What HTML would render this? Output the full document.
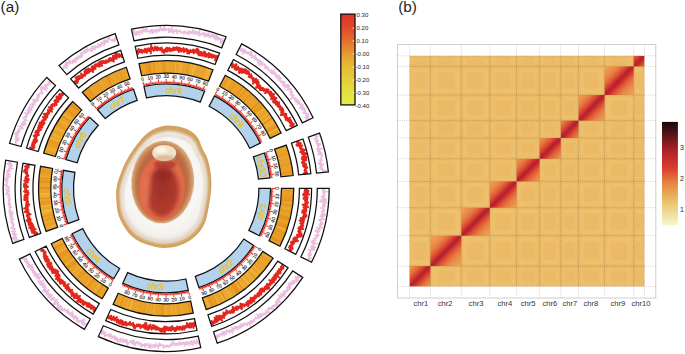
<!DOCTYPE html>
<html><head><meta charset="utf-8"><title>figure</title>
<style>
html,body{margin:0;padding:0;background:#fff;width:685px;height:354px;overflow:hidden}
svg{display:block}
text{font-family:"Liberation Sans",sans-serif}
</style></head>
<body>
<svg width="685" height="354" viewBox="0 0 685 354">
<rect width="685" height="354" fill="#fff"/>
<text x="0.6" y="12.4" font-size="15.3" fill="#231F20">(a)</text>
<text x="398.2" y="12.4" font-size="15.3" fill="#231F20">(b)</text>
<path d="M293.80,188.40A127.6,127.6 0 0 1 279.94,246.23L268.98,240.66A115.3,115.3 0 0 0 281.50,188.40Z" fill="#E9A12A"/>
<path d="M293.80,188.40A127.6,127.6 0 0 1 293.79,189.72L281.49,189.59A115.3,115.3 0 0 0 281.50,188.40Z" fill="#EDB038"/><path d="M293.78,190.47A127.6,127.6 0 0 1 293.76,191.41L281.47,191.12A115.3,115.3 0 0 0 281.48,190.27Z" fill="#E38F1C"/><path d="M293.53,196.67A127.6,127.6 0 0 1 293.44,198.04L281.17,197.11A115.3,115.3 0 0 0 281.26,195.88Z" fill="#E6951F"/><path d="M293.38,198.74A127.6,127.6 0 0 1 293.25,200.24L281.00,199.10A115.3,115.3 0 0 0 281.12,197.74Z" fill="#E6951F"/><path d="M293.20,200.80A127.6,127.6 0 0 1 293.10,201.77L280.86,200.49A115.3,115.3 0 0 0 280.95,199.60Z" fill="#E38F1C"/><path d="M292.98,202.86A127.6,127.6 0 0 1 292.79,204.40L280.59,202.85A115.3,115.3 0 0 0 280.76,201.46Z" fill="#EBA830"/><path d="M292.73,204.91A127.6,127.6 0 0 1 292.55,206.22L280.37,204.50A115.3,115.3 0 0 0 280.53,203.32Z" fill="#E38F1C"/><path d="M292.13,209.01A127.6,127.6 0 0 1 291.93,210.18L279.81,208.08A115.3,115.3 0 0 0 279.99,207.02Z" fill="#EDB038"/><path d="M291.77,211.05A127.6,127.6 0 0 1 291.49,212.56L279.42,210.23A115.3,115.3 0 0 0 279.67,208.86Z" fill="#E6951F"/><path d="M290.52,217.13A127.6,127.6 0 0 1 290.15,218.70L278.20,215.78A115.3,115.3 0 0 0 278.54,214.36Z" fill="#E38F1C"/><path d="M290.04,219.14A127.6,127.6 0 0 1 289.62,220.80L277.72,217.67A115.3,115.3 0 0 0 278.10,216.18Z" fill="#E38F1C"/><path d="M288.40,225.13A127.6,127.6 0 0 1 288.00,226.43L276.26,222.76A115.3,115.3 0 0 0 276.62,221.59Z" fill="#E38F1C"/><path d="M287.79,227.10A127.6,127.6 0 0 1 287.18,228.98L275.51,225.07A115.3,115.3 0 0 0 276.07,223.37Z" fill="#E38F1C"/><path d="M287.15,229.07A127.6,127.6 0 0 1 286.55,230.79L274.95,226.70A115.3,115.3 0 0 0 275.49,225.15Z" fill="#EDB038"/><path d="M285.76,232.97A127.6,127.6 0 0 1 285.34,234.09L273.85,229.69A115.3,115.3 0 0 0 274.24,228.67Z" fill="#E38F1C"/><path d="M285.02,234.90A127.6,127.6 0 0 1 284.38,236.51L272.99,231.88A115.3,115.3 0 0 0 273.57,230.42Z" fill="#E89A24"/><path d="M284.25,236.83A127.6,127.6 0 0 1 283.88,237.73L272.54,232.97A115.3,115.3 0 0 0 272.87,232.16Z" fill="#E6951F"/><path d="M283.45,238.73A127.6,127.6 0 0 1 283.05,239.67L271.78,234.72A115.3,115.3 0 0 0 272.15,233.88Z" fill="#E89A24"/><path d="M282.62,240.63A127.6,127.6 0 0 1 281.78,242.47L270.64,237.26A115.3,115.3 0 0 0 271.40,235.59Z" fill="#E6951F"/><path d="M281.76,242.51A127.6,127.6 0 0 1 281.10,243.90L270.02,238.55A115.3,115.3 0 0 0 270.62,237.29Z" fill="#E38F1C"/>
<path d="M273.09,258.08A127.6,127.6 0 0 1 206.18,309.57L202.33,297.89A115.3,115.3 0 0 0 262.79,251.37Z" fill="#E9A12A"/>
<path d="M273.09,258.08A127.6,127.6 0 0 1 272.41,259.13L262.17,252.31A115.3,115.3 0 0 0 262.79,251.37Z" fill="#EBA830"/><path d="M271.96,259.79A127.6,127.6 0 0 1 271.45,260.54L261.31,253.58A115.3,115.3 0 0 0 261.77,252.91Z" fill="#F0B53E"/><path d="M270.80,261.48A127.6,127.6 0 0 1 269.99,262.62L259.99,255.47A115.3,115.3 0 0 0 260.72,254.43Z" fill="#E89A24"/><path d="M268.40,264.80A127.6,127.6 0 0 1 267.68,265.76L257.90,258.30A115.3,115.3 0 0 0 258.55,257.44Z" fill="#EBA830"/><path d="M264.60,269.63A127.6,127.6 0 0 1 263.77,270.63L254.37,262.70A115.3,115.3 0 0 0 255.12,261.80Z" fill="#EBA830"/><path d="M261.94,272.75A127.6,127.6 0 0 1 261.11,273.69L251.96,265.47A115.3,115.3 0 0 0 252.71,264.62Z" fill="#F0B53E"/><path d="M259.19,275.78A127.6,127.6 0 0 1 257.97,277.06L249.12,268.51A115.3,115.3 0 0 0 250.22,267.36Z" fill="#EDB038"/><path d="M257.77,277.26A127.6,127.6 0 0 1 256.85,278.20L248.12,269.54A115.3,115.3 0 0 0 248.94,268.70Z" fill="#EDB038"/><path d="M254.87,280.16A127.6,127.6 0 0 1 253.88,281.10L245.43,272.17A115.3,115.3 0 0 0 246.32,271.31Z" fill="#EDB038"/><path d="M253.39,281.57A127.6,127.6 0 0 1 252.04,282.81L243.77,273.71A115.3,115.3 0 0 0 244.98,272.59Z" fill="#EDB038"/><path d="M250.35,284.32A127.6,127.6 0 0 1 248.81,285.65L240.85,276.27A115.3,115.3 0 0 0 242.24,275.07Z" fill="#F0B53E"/><path d="M247.23,286.97A127.6,127.6 0 0 1 246.45,287.61L238.71,278.04A115.3,115.3 0 0 0 239.42,277.47Z" fill="#EDB038"/><path d="M245.63,288.26A127.6,127.6 0 0 1 244.35,289.27L236.82,279.54A115.3,115.3 0 0 0 237.98,278.63Z" fill="#EDB038"/><path d="M244.02,289.52A127.6,127.6 0 0 1 243.19,290.16L235.77,280.35A115.3,115.3 0 0 0 236.52,279.78Z" fill="#E38F1C"/><path d="M242.39,290.76A127.6,127.6 0 0 1 241.31,291.55L234.07,281.61A115.3,115.3 0 0 0 235.04,280.89Z" fill="#EDB038"/><path d="M240.73,291.97A127.6,127.6 0 0 1 239.75,292.67L232.66,282.62A115.3,115.3 0 0 0 233.55,281.99Z" fill="#E38F1C"/><path d="M239.06,293.15A127.6,127.6 0 0 1 237.42,294.28L230.55,284.07A115.3,115.3 0 0 0 232.04,283.06Z" fill="#E38F1C"/><path d="M233.93,296.54A127.6,127.6 0 0 1 232.40,297.48L226.02,286.97A115.3,115.3 0 0 0 227.40,286.12Z" fill="#EBA830"/><path d="M232.19,297.61A127.6,127.6 0 0 1 231.07,298.28L224.81,287.69A115.3,115.3 0 0 0 225.83,287.09Z" fill="#F0B53E"/><path d="M230.42,298.66A127.6,127.6 0 0 1 229.65,299.11L223.53,288.44A115.3,115.3 0 0 0 224.23,288.03Z" fill="#F0B53E"/><path d="M228.65,299.68A127.6,127.6 0 0 1 227.45,300.34L221.55,289.55A115.3,115.3 0 0 0 222.63,288.95Z" fill="#EDB038"/><path d="M226.85,300.66A127.6,127.6 0 0 1 226.07,301.08L220.30,290.22A115.3,115.3 0 0 0 221.00,289.84Z" fill="#E38F1C"/><path d="M225.04,301.62A127.6,127.6 0 0 1 223.72,302.30L218.18,291.32A115.3,115.3 0 0 0 219.37,290.71Z" fill="#EDB038"/><path d="M219.52,304.33A127.6,127.6 0 0 1 218.09,304.97L213.08,293.74A115.3,115.3 0 0 0 214.38,293.15Z" fill="#EDB038"/><path d="M217.65,305.17A127.6,127.6 0 0 1 215.82,305.96L211.04,294.62A115.3,115.3 0 0 0 212.69,293.91Z" fill="#E89A24"/><path d="M213.88,306.76A127.6,127.6 0 0 1 212.14,307.44L207.71,295.97A115.3,115.3 0 0 0 209.28,295.35Z" fill="#E6951F"/><path d="M210.05,308.23A127.6,127.6 0 0 1 208.92,308.64L204.80,297.05A115.3,115.3 0 0 0 205.82,296.68Z" fill="#F0B53E"/><path d="M208.12,308.92A127.6,127.6 0 0 1 206.95,309.32L203.02,297.66A115.3,115.3 0 0 0 204.08,297.30Z" fill="#EBA830"/>
<path d="M193.25,313.10A127.6,127.6 0 0 1 113.08,304.42L118.20,293.23A115.3,115.3 0 0 0 190.64,301.08Z" fill="#E9A12A"/>
<path d="M193.25,313.10A127.6,127.6 0 0 1 192.26,313.31L189.74,301.27A115.3,115.3 0 0 0 190.64,301.08Z" fill="#EBA830"/><path d="M191.24,313.52A127.6,127.6 0 0 1 190.00,313.76L187.71,301.68A115.3,115.3 0 0 0 188.83,301.46Z" fill="#E38F1C"/><path d="M183.15,314.87A127.6,127.6 0 0 1 181.29,315.11L179.83,302.89A115.3,115.3 0 0 0 181.52,302.68Z" fill="#EBA830"/><path d="M179.08,315.35A127.6,127.6 0 0 1 177.15,315.53L176.09,303.27A115.3,115.3 0 0 0 177.84,303.11Z" fill="#E89A24"/><path d="M177.04,315.54A127.6,127.6 0 0 1 175.57,315.66L174.66,303.39A115.3,115.3 0 0 0 175.99,303.28Z" fill="#EDB038"/><path d="M172.94,315.82A127.6,127.6 0 0 1 171.37,315.90L170.87,303.61A115.3,115.3 0 0 0 172.29,303.54Z" fill="#EDB038"/><path d="M166.79,316.00A127.6,127.6 0 0 1 164.97,315.99L165.09,303.69A115.3,115.3 0 0 0 166.74,303.70Z" fill="#EDB038"/><path d="M162.69,315.95A127.6,127.6 0 0 1 161.27,315.90L161.74,303.61A115.3,115.3 0 0 0 163.03,303.66Z" fill="#E38F1C"/><path d="M154.50,315.46A127.6,127.6 0 0 1 152.84,315.30L154.13,303.07A115.3,115.3 0 0 0 155.63,303.21Z" fill="#EDB038"/><path d="M150.43,315.02A127.6,127.6 0 0 1 148.41,314.75L150.12,302.57A115.3,115.3 0 0 0 151.95,302.82Z" fill="#EBA830"/><path d="M146.36,314.45A127.6,127.6 0 0 1 145.43,314.30L147.43,302.16A115.3,115.3 0 0 0 148.28,302.30Z" fill="#EDB038"/><path d="M144.34,314.11A127.6,127.6 0 0 1 143.29,313.93L145.49,301.83A115.3,115.3 0 0 0 146.45,302.00Z" fill="#E89A24"/><path d="M136.31,312.45A127.6,127.6 0 0 1 135.10,312.15L138.10,300.22A115.3,115.3 0 0 0 139.19,300.49Z" fill="#EBA830"/><path d="M130.36,310.86A127.6,127.6 0 0 1 128.66,310.35L132.27,298.60A115.3,115.3 0 0 0 133.82,299.06Z" fill="#F0B53E"/><path d="M126.45,309.65A127.6,127.6 0 0 1 125.16,309.22L129.12,297.57A115.3,115.3 0 0 0 130.28,297.96Z" fill="#EDB038"/><path d="M122.57,308.31A127.6,127.6 0 0 1 121.34,307.86L125.67,296.34A115.3,115.3 0 0 0 126.77,296.75Z" fill="#EBA830"/><path d="M120.65,307.59A127.6,127.6 0 0 1 119.05,306.97L123.60,295.54A115.3,115.3 0 0 0 125.04,296.10Z" fill="#E6951F"/><path d="M118.74,306.84A127.6,127.6 0 0 1 117.94,306.52L122.60,295.14A115.3,115.3 0 0 0 123.31,295.43Z" fill="#EDB038"/><path d="M114.95,305.26A127.6,127.6 0 0 1 114.04,304.85L119.07,293.63A115.3,115.3 0 0 0 119.89,293.99Z" fill="#EBA830"/>
<path d="M102.15,298.76A127.6,127.6 0 0 1 51.22,243.73L62.31,238.40A115.3,115.3 0 0 0 108.32,288.12Z" fill="#E9A12A"/>
<path d="M96.89,295.53A127.6,127.6 0 0 1 95.64,294.71L102.44,284.47A115.3,115.3 0 0 0 103.57,285.21Z" fill="#E38F1C"/><path d="M95.17,294.40A127.6,127.6 0 0 1 93.83,293.49L100.80,283.36A115.3,115.3 0 0 0 102.02,284.19Z" fill="#EBA830"/><path d="M93.47,293.25A127.6,127.6 0 0 1 92.36,292.47L99.48,282.43A115.3,115.3 0 0 0 100.48,283.14Z" fill="#EDB038"/><path d="M88.49,289.61A127.6,127.6 0 0 1 87.63,288.94L95.21,279.25A115.3,115.3 0 0 0 95.98,279.85Z" fill="#E89A24"/><path d="M86.87,288.34A127.6,127.6 0 0 1 85.91,287.58L93.65,278.02A115.3,115.3 0 0 0 94.52,278.71Z" fill="#E38F1C"/><path d="M85.27,287.05A127.6,127.6 0 0 1 84.58,286.48L92.44,277.02A115.3,115.3 0 0 0 93.07,277.54Z" fill="#EDB038"/><path d="M77.59,280.21A127.6,127.6 0 0 1 76.88,279.53L85.49,270.74A115.3,115.3 0 0 0 86.13,271.36Z" fill="#E38F1C"/><path d="M76.12,278.77A127.6,127.6 0 0 1 75.52,278.18L84.26,269.52A115.3,115.3 0 0 0 84.80,270.06Z" fill="#E38F1C"/><path d="M74.68,277.31A127.6,127.6 0 0 1 73.59,276.18L82.51,267.71A115.3,115.3 0 0 0 83.50,268.74Z" fill="#EDB038"/><path d="M71.86,274.31A127.6,127.6 0 0 1 70.92,273.27L80.10,265.09A115.3,115.3 0 0 0 80.95,266.03Z" fill="#EDB038"/><path d="M67.82,269.65A127.6,127.6 0 0 1 66.88,268.51L76.45,260.79A115.3,115.3 0 0 0 77.30,261.82Z" fill="#E38F1C"/><path d="M66.52,268.06A127.6,127.6 0 0 1 65.34,266.55L75.06,259.02A115.3,115.3 0 0 0 76.13,260.38Z" fill="#E6951F"/><path d="M65.25,266.44A127.6,127.6 0 0 1 64.54,265.52L74.34,258.08A115.3,115.3 0 0 0 74.98,258.92Z" fill="#EDB038"/><path d="M62.78,263.15A127.6,127.6 0 0 1 62.28,262.45L72.30,255.31A115.3,115.3 0 0 0 72.75,255.94Z" fill="#E38F1C"/><path d="M60.43,259.77A127.6,127.6 0 0 1 59.55,258.46L69.83,251.71A115.3,115.3 0 0 0 70.63,252.89Z" fill="#E89A24"/><path d="M59.29,258.06A127.6,127.6 0 0 1 58.71,257.16L69.07,250.53A115.3,115.3 0 0 0 69.60,251.35Z" fill="#E38F1C"/><path d="M58.18,256.33A127.6,127.6 0 0 1 57.40,255.07L67.89,248.64A115.3,115.3 0 0 0 68.60,249.78Z" fill="#E38F1C"/><path d="M57.10,254.58A127.6,127.6 0 0 1 56.24,253.13L66.84,246.89A115.3,115.3 0 0 0 67.62,248.20Z" fill="#EDB038"/><path d="M54.03,249.23A127.6,127.6 0 0 1 53.13,247.53L64.03,241.83A115.3,115.3 0 0 0 64.84,243.36Z" fill="#E38F1C"/><path d="M53.07,247.41A127.6,127.6 0 0 1 52.61,246.53L63.56,240.93A115.3,115.3 0 0 0 63.97,241.72Z" fill="#F0B53E"/><path d="M52.13,245.58A127.6,127.6 0 0 1 51.59,244.49L62.64,239.09A115.3,115.3 0 0 0 63.13,240.07Z" fill="#F0B53E"/>
<path d="M46.07,231.41A127.6,127.6 0 0 1 40.53,166.31L52.64,168.44A115.3,115.3 0 0 0 57.65,227.27Z" fill="#E9A12A"/>
<path d="M45.39,229.46A127.6,127.6 0 0 1 44.87,227.89L56.56,224.09A115.3,115.3 0 0 0 57.03,225.51Z" fill="#EDB038"/><path d="M43.54,223.55A127.6,127.6 0 0 1 43.10,221.99L54.97,218.75A115.3,115.3 0 0 0 55.36,220.16Z" fill="#EBA830"/><path d="M42.98,221.56A127.6,127.6 0 0 1 42.50,219.71L54.42,216.69A115.3,115.3 0 0 0 54.86,218.37Z" fill="#E89A24"/><path d="M41.98,217.56A127.6,127.6 0 0 1 41.68,216.27L53.68,213.59A115.3,115.3 0 0 0 53.95,214.75Z" fill="#E6951F"/><path d="M41.52,215.54A127.6,127.6 0 0 1 41.14,213.73L53.19,211.29A115.3,115.3 0 0 0 53.54,212.93Z" fill="#EBA830"/><path d="M41.10,213.52A127.6,127.6 0 0 1 40.71,211.50L52.81,209.28A115.3,115.3 0 0 0 53.16,211.10Z" fill="#F0B53E"/><path d="M40.71,211.50A127.6,127.6 0 0 1 40.52,210.44L52.63,208.32A115.3,115.3 0 0 0 52.80,209.27Z" fill="#F0B53E"/><path d="M40.35,209.46A127.6,127.6 0 0 1 40.15,208.20L52.30,206.29A115.3,115.3 0 0 0 52.48,207.43Z" fill="#EBA830"/><path d="M40.03,207.42A127.6,127.6 0 0 1 39.83,206.07L52.01,204.36A115.3,115.3 0 0 0 52.19,205.59Z" fill="#F0B53E"/><path d="M39.73,205.38A127.6,127.6 0 0 1 39.55,203.92L51.76,202.43A115.3,115.3 0 0 0 51.93,203.74Z" fill="#E89A24"/><path d="M39.48,203.33A127.6,127.6 0 0 1 39.37,202.37L51.59,201.02A115.3,115.3 0 0 0 51.69,201.89Z" fill="#E6951F"/><path d="M39.06,199.22A127.6,127.6 0 0 1 38.98,198.29L51.25,197.34A115.3,115.3 0 0 0 51.32,198.18Z" fill="#E6951F"/><path d="M38.90,197.16A127.6,127.6 0 0 1 38.83,196.00L51.10,195.27A115.3,115.3 0 0 0 51.17,196.32Z" fill="#EDB038"/><path d="M38.78,195.10A127.6,127.6 0 0 1 38.69,193.23L50.98,192.76A115.3,115.3 0 0 0 51.06,194.46Z" fill="#F0B53E"/><path d="M38.60,188.91A127.6,127.6 0 0 1 38.61,186.95L50.91,187.09A115.3,115.3 0 0 0 50.90,188.86Z" fill="#E38F1C"/><path d="M38.73,182.72A127.6,127.6 0 0 1 38.82,180.90L51.10,181.63A115.3,115.3 0 0 0 51.01,183.27Z" fill="#E6951F"/><path d="M38.84,180.66A127.6,127.6 0 0 1 38.91,179.50L51.18,180.36A115.3,115.3 0 0 0 51.11,181.40Z" fill="#E6951F"/><path d="M38.98,178.60A127.6,127.6 0 0 1 39.13,176.78L51.38,177.90A115.3,115.3 0 0 0 51.24,179.54Z" fill="#E6951F"/><path d="M39.15,176.54A127.6,127.6 0 0 1 39.24,175.63L51.48,176.86A115.3,115.3 0 0 0 51.40,177.68Z" fill="#EDB038"/><path d="M39.60,172.43A127.6,127.6 0 0 1 39.88,170.39L52.05,172.13A115.3,115.3 0 0 0 51.81,173.97Z" fill="#E89A24"/><path d="M39.88,170.39A127.6,127.6 0 0 1 40.11,168.81L52.27,170.70A115.3,115.3 0 0 0 52.05,172.12Z" fill="#E89A24"/><path d="M40.19,168.34A127.6,127.6 0 0 1 40.37,167.24L52.50,169.28A115.3,115.3 0 0 0 52.33,170.28Z" fill="#EBA830"/>
<path d="M43.59,153.08A127.6,127.6 0 0 1 72.73,101.54L81.74,109.91A115.3,115.3 0 0 0 55.41,156.48Z" fill="#E9A12A"/>
<path d="M43.59,153.08A127.6,127.6 0 0 1 43.91,151.98L55.70,155.49A115.3,115.3 0 0 0 55.41,156.48Z" fill="#EDB038"/><path d="M44.17,151.10A127.6,127.6 0 0 1 44.65,149.58L56.37,153.32A115.3,115.3 0 0 0 55.94,154.70Z" fill="#E89A24"/><path d="M44.79,149.14A127.6,127.6 0 0 1 45.16,148.01L56.83,151.91A115.3,115.3 0 0 0 56.49,152.92Z" fill="#EDB038"/><path d="M45.44,147.18A127.6,127.6 0 0 1 45.82,146.09L57.42,150.17A115.3,115.3 0 0 0 57.08,151.16Z" fill="#EDB038"/><path d="M47.58,141.38A127.6,127.6 0 0 1 48.23,139.78L59.60,144.47A115.3,115.3 0 0 0 59.01,145.92Z" fill="#E6951F"/><path d="M49.16,137.58A127.6,127.6 0 0 1 49.61,136.55L60.85,141.54A115.3,115.3 0 0 0 60.44,142.48Z" fill="#F0B53E"/><path d="M49.99,135.69A127.6,127.6 0 0 1 50.76,134.03L61.89,139.27A115.3,115.3 0 0 0 61.20,140.78Z" fill="#EBA830"/><path d="M50.86,133.83A127.6,127.6 0 0 1 51.51,132.47L62.56,137.87A115.3,115.3 0 0 0 61.98,139.09Z" fill="#F0B53E"/><path d="M53.64,128.30A127.6,127.6 0 0 1 54.61,126.51L65.37,132.48A115.3,115.3 0 0 0 64.49,134.10Z" fill="#EDB038"/><path d="M54.62,126.49A127.6,127.6 0 0 1 55.47,124.99L66.14,131.10A115.3,115.3 0 0 0 65.38,132.46Z" fill="#EBA830"/><path d="M55.64,124.70A127.6,127.6 0 0 1 56.67,122.94L67.23,129.25A115.3,115.3 0 0 0 66.29,130.84Z" fill="#E89A24"/><path d="M57.75,121.16A127.6,127.6 0 0 1 58.68,119.69L69.04,126.31A115.3,115.3 0 0 0 68.21,127.65Z" fill="#EBA830"/><path d="M58.85,119.42A127.6,127.6 0 0 1 59.34,118.67L69.64,125.39A115.3,115.3 0 0 0 69.20,126.07Z" fill="#EDB038"/><path d="M61.13,115.99A127.6,127.6 0 0 1 62.08,114.64L72.12,121.75A115.3,115.3 0 0 0 71.26,122.97Z" fill="#E38F1C"/><path d="M62.32,114.30A127.6,127.6 0 0 1 63.30,112.94L73.22,120.22A115.3,115.3 0 0 0 72.33,121.45Z" fill="#EDB038"/><path d="M63.53,112.64A127.6,127.6 0 0 1 64.14,111.82L73.97,119.20A115.3,115.3 0 0 0 73.42,119.94Z" fill="#EDB038"/><path d="M64.76,110.99A127.6,127.6 0 0 1 65.54,109.98L75.24,117.54A115.3,115.3 0 0 0 74.54,118.45Z" fill="#E89A24"/><path d="M66.03,109.36A127.6,127.6 0 0 1 66.79,108.40L76.37,116.12A115.3,115.3 0 0 0 75.68,116.98Z" fill="#E38F1C"/><path d="M67.32,107.75A127.6,127.6 0 0 1 68.01,106.91L77.48,114.77A115.3,115.3 0 0 0 76.85,115.53Z" fill="#E89A24"/><path d="M68.63,106.17A127.6,127.6 0 0 1 69.47,105.18L78.80,113.20A115.3,115.3 0 0 0 78.04,114.09Z" fill="#E89A24"/><path d="M69.97,104.60A127.6,127.6 0 0 1 71.05,103.38L80.23,111.57A115.3,115.3 0 0 0 79.25,112.68Z" fill="#E38F1C"/><path d="M71.34,103.06A127.6,127.6 0 0 1 71.97,102.37L81.05,110.66A115.3,115.3 0 0 0 80.48,111.29Z" fill="#E6951F"/>
<path d="M82.32,92.25A127.6,127.6 0 0 1 126.24,67.22L130.09,78.90A115.3,115.3 0 0 0 90.40,101.51Z" fill="#E9A12A"/>
<path d="M83.86,90.92A127.6,127.6 0 0 1 84.53,90.36L92.40,99.81A115.3,115.3 0 0 0 91.80,100.32Z" fill="#E38F1C"/><path d="M85.43,89.62A127.6,127.6 0 0 1 86.66,88.62L94.33,98.24A115.3,115.3 0 0 0 93.21,99.14Z" fill="#E89A24"/><path d="M87.01,88.34A127.6,127.6 0 0 1 88.48,87.20L95.97,96.96A115.3,115.3 0 0 0 94.65,97.99Z" fill="#E38F1C"/><path d="M88.62,87.09A127.6,127.6 0 0 1 90.04,86.02L97.38,95.89A115.3,115.3 0 0 0 96.10,96.86Z" fill="#EBA830"/><path d="M95.24,82.35A127.6,127.6 0 0 1 96.66,81.42L103.36,91.73A115.3,115.3 0 0 0 102.08,92.57Z" fill="#E89A24"/><path d="M98.66,80.14A127.6,127.6 0 0 1 100.28,79.15L106.63,89.68A115.3,115.3 0 0 0 105.17,90.58Z" fill="#EBA830"/><path d="M105.70,76.06A127.6,127.6 0 0 1 107.23,75.24L112.91,86.15A115.3,115.3 0 0 0 111.53,86.88Z" fill="#E38F1C"/><path d="M111.14,73.29A127.6,127.6 0 0 1 112.52,72.64L117.70,83.80A115.3,115.3 0 0 0 116.45,84.39Z" fill="#EBA830"/><path d="M118.59,70.01A127.6,127.6 0 0 1 119.40,69.69L123.91,81.14A115.3,115.3 0 0 0 123.18,81.42Z" fill="#E6951F"/><path d="M124.31,67.87A127.6,127.6 0 0 1 125.73,67.39L129.63,79.05A115.3,115.3 0 0 0 128.35,79.49Z" fill="#F0B53E"/>
<path d="M139.02,63.73A127.6,127.6 0 0 1 213.05,69.71L208.53,81.15A115.3,115.3 0 0 0 141.64,75.75Z" fill="#E9A12A"/>
<path d="M145.02,62.57A127.6,127.6 0 0 1 146.37,62.35L148.28,74.50A115.3,115.3 0 0 0 147.06,74.70Z" fill="#E6951F"/><path d="M147.03,62.25A127.6,127.6 0 0 1 148.92,61.98L150.59,74.16A115.3,115.3 0 0 0 148.88,74.41Z" fill="#E38F1C"/><path d="M149.04,61.96A127.6,127.6 0 0 1 149.93,61.84L151.50,74.04A115.3,115.3 0 0 0 150.70,74.15Z" fill="#E38F1C"/><path d="M153.09,61.48A127.6,127.6 0 0 1 154.93,61.30L156.02,73.55A115.3,115.3 0 0 0 154.35,73.71Z" fill="#E6951F"/><path d="M155.12,61.28A127.6,127.6 0 0 1 156.21,61.19L157.17,73.45A115.3,115.3 0 0 0 156.18,73.54Z" fill="#EDB038"/><path d="M159.18,60.99A127.6,127.6 0 0 1 160.09,60.95L160.68,73.23A115.3,115.3 0 0 0 159.86,73.27Z" fill="#F0B53E"/><path d="M163.25,60.83A127.6,127.6 0 0 1 164.82,60.81L164.95,73.11A115.3,115.3 0 0 0 163.53,73.13Z" fill="#E6951F"/><path d="M167.32,60.80A127.6,127.6 0 0 1 168.54,60.82L168.32,73.12A115.3,115.3 0 0 0 167.21,73.10Z" fill="#EDB038"/><path d="M175.46,61.14A127.6,127.6 0 0 1 176.35,61.20L175.37,73.47A115.3,115.3 0 0 0 174.57,73.40Z" fill="#F0B53E"/><path d="M177.49,61.30A127.6,127.6 0 0 1 178.42,61.39L177.25,73.63A115.3,115.3 0 0 0 176.40,73.55Z" fill="#EBA830"/><path d="M179.52,61.50A127.6,127.6 0 0 1 180.68,61.62L179.29,73.85A115.3,115.3 0 0 0 178.24,73.73Z" fill="#F0B53E"/><path d="M181.54,61.73A127.6,127.6 0 0 1 182.92,61.90L181.31,74.09A115.3,115.3 0 0 0 180.06,73.94Z" fill="#F0B53E"/><path d="M187.59,62.61A127.6,127.6 0 0 1 189.57,62.96L187.32,75.05A115.3,115.3 0 0 0 185.53,74.73Z" fill="#E89A24"/><path d="M191.59,63.35A127.6,127.6 0 0 1 192.48,63.54L189.95,75.57A115.3,115.3 0 0 0 189.15,75.41Z" fill="#F0B53E"/><path d="M193.59,63.77A127.6,127.6 0 0 1 195.57,64.23L192.74,76.19A115.3,115.3 0 0 0 190.95,75.79Z" fill="#F0B53E"/><path d="M195.57,64.23A127.6,127.6 0 0 1 196.45,64.44L193.54,76.39A115.3,115.3 0 0 0 192.74,76.20Z" fill="#EDB038"/><path d="M197.55,64.71A127.6,127.6 0 0 1 198.96,65.08L195.80,76.96A115.3,115.3 0 0 0 194.53,76.63Z" fill="#EBA830"/><path d="M201.48,65.78A127.6,127.6 0 0 1 202.86,66.18L199.33,77.96A115.3,115.3 0 0 0 198.08,77.60Z" fill="#EBA830"/><path d="M207.31,67.60A127.6,127.6 0 0 1 208.54,68.03L204.46,79.63A115.3,115.3 0 0 0 203.35,79.25Z" fill="#F0B53E"/><path d="M209.24,68.28A127.6,127.6 0 0 1 210.78,68.84L206.49,80.37A115.3,115.3 0 0 0 205.09,79.86Z" fill="#F0B53E"/><path d="M211.15,68.98A127.6,127.6 0 0 1 212.07,69.33L207.65,80.81A115.3,115.3 0 0 0 206.82,80.49Z" fill="#EBA830"/>
<path d="M225.26,75.29A127.6,127.6 0 0 1 281.18,133.07L270.09,138.40A115.3,115.3 0 0 0 219.56,86.19Z" fill="#E9A12A"/>
<path d="M225.26,75.29A127.6,127.6 0 0 1 226.11,75.74L220.34,86.60A115.3,115.3 0 0 0 219.56,86.19Z" fill="#E89A24"/><path d="M227.06,76.25A127.6,127.6 0 0 1 228.59,77.09L222.57,87.82A115.3,115.3 0 0 0 221.20,87.06Z" fill="#E89A24"/><path d="M230.63,78.26A127.6,127.6 0 0 1 232.08,79.12L225.73,89.66A115.3,115.3 0 0 0 224.42,88.88Z" fill="#EDB038"/><path d="M234.12,80.38A127.6,127.6 0 0 1 234.88,80.86L228.26,91.23A115.3,115.3 0 0 0 227.57,90.79Z" fill="#E89A24"/><path d="M235.84,81.48A127.6,127.6 0 0 1 236.61,81.98L229.82,92.24A115.3,115.3 0 0 0 229.13,91.79Z" fill="#E38F1C"/><path d="M242.55,86.16A127.6,127.6 0 0 1 244.02,87.28L236.52,97.02A115.3,115.3 0 0 0 235.19,96.02Z" fill="#E6951F"/><path d="M244.18,87.40A127.6,127.6 0 0 1 245.07,88.09L237.46,97.76A115.3,115.3 0 0 0 236.66,97.14Z" fill="#EDB038"/><path d="M245.79,88.66A127.6,127.6 0 0 1 246.73,89.42L238.96,98.96A115.3,115.3 0 0 0 238.12,98.28Z" fill="#E38F1C"/><path d="M250.49,92.60A127.6,127.6 0 0 1 251.84,93.81L243.59,102.93A115.3,115.3 0 0 0 242.36,101.84Z" fill="#E6951F"/><path d="M256.45,98.20A127.6,127.6 0 0 1 257.10,98.85L248.34,107.48A115.3,115.3 0 0 0 247.75,106.89Z" fill="#EBA830"/><path d="M259.30,101.14A127.6,127.6 0 0 1 260.48,102.42L251.39,110.71A115.3,115.3 0 0 0 250.32,109.55Z" fill="#E38F1C"/><path d="M262.05,104.17A127.6,127.6 0 0 1 263.31,105.63L253.95,113.61A115.3,115.3 0 0 0 252.81,112.29Z" fill="#E6951F"/><path d="M264.70,107.28A127.6,127.6 0 0 1 265.48,108.24L255.91,115.97A115.3,115.3 0 0 0 255.20,115.10Z" fill="#F0B53E"/><path d="M265.98,108.87A127.6,127.6 0 0 1 267.05,110.23L257.33,117.76A115.3,115.3 0 0 0 256.37,116.54Z" fill="#EBA830"/><path d="M268.48,112.11A127.6,127.6 0 0 1 269.19,113.06L259.26,120.33A115.3,115.3 0 0 0 258.62,119.46Z" fill="#EDB038"/><path d="M270.87,115.43A127.6,127.6 0 0 1 271.78,116.75L261.61,123.66A115.3,115.3 0 0 0 260.78,122.46Z" fill="#EDB038"/><path d="M272.03,117.11A127.6,127.6 0 0 1 273.10,118.72L262.79,125.44A115.3,115.3 0 0 0 261.83,123.98Z" fill="#E38F1C"/><path d="M273.16,118.82A127.6,127.6 0 0 1 273.90,119.97L263.52,126.57A115.3,115.3 0 0 0 262.85,125.53Z" fill="#EDB038"/><path d="M274.26,120.54A127.6,127.6 0 0 1 274.97,121.68L264.48,128.11A115.3,115.3 0 0 0 263.84,127.08Z" fill="#F0B53E"/><path d="M275.33,122.28A127.6,127.6 0 0 1 275.81,123.08L265.25,129.37A115.3,115.3 0 0 0 264.81,128.66Z" fill="#EDB038"/><path d="M276.38,124.04A127.6,127.6 0 0 1 276.98,125.09L266.31,131.19A115.3,115.3 0 0 0 265.76,130.24Z" fill="#E6951F"/><path d="M277.40,125.81A127.6,127.6 0 0 1 277.92,126.74L267.15,132.69A115.3,115.3 0 0 0 266.68,131.85Z" fill="#E38F1C"/><path d="M278.39,127.60A127.6,127.6 0 0 1 278.99,128.74L268.12,134.49A115.3,115.3 0 0 0 267.57,133.46Z" fill="#F0B53E"/><path d="M280.28,131.23A127.6,127.6 0 0 1 280.82,132.33L269.77,137.74A115.3,115.3 0 0 0 269.28,136.74Z" fill="#E89A24"/>
<path d="M286.22,145.07A127.6,127.6 0 0 1 293.15,175.51L280.91,176.75A115.3,115.3 0 0 0 274.65,149.25Z" fill="#E9A12A"/>
<path d="M286.22,145.07A127.6,127.6 0 0 1 286.74,146.54L275.12,150.57A115.3,115.3 0 0 0 274.65,149.25Z" fill="#E89A24"/><path d="M286.91,147.04A127.6,127.6 0 0 1 287.38,148.43L275.70,152.28A115.3,115.3 0 0 0 275.27,151.03Z" fill="#EBA830"/><path d="M288.79,153.01A127.6,127.6 0 0 1 289.32,154.89L277.45,158.12A115.3,115.3 0 0 0 276.98,156.42Z" fill="#E89A24"/><path d="M289.36,155.02A127.6,127.6 0 0 1 289.71,156.36L277.81,159.45A115.3,115.3 0 0 0 277.48,158.23Z" fill="#EBA830"/><path d="M291.27,163.14A127.6,127.6 0 0 1 291.54,164.48L279.46,166.78A115.3,115.3 0 0 0 279.22,165.57Z" fill="#E6951F"/><path d="M292.66,171.36A127.6,127.6 0 0 1 292.83,172.68L280.62,174.19A115.3,115.3 0 0 0 280.47,173.00Z" fill="#E6951F"/>
<path d="M329.20,188.40A163,163 0 0 1 311.50,262.27L300.89,256.88A151.1,151.1 0 0 0 317.30,188.40Z" fill="#fff"/>
<path d="M311.60,188.40A145.4,145.4 0 0 1 295.81,254.30L284.93,248.77A133.2,133.2 0 0 0 299.40,188.40Z" fill="#fff"/>
<polyline points="322.0,189.2 324.2,189.5 325.0,189.8 323.9,190.1 323.7,190.4 322.4,190.7 324.4,191.1 324.9,191.4 327.2,191.7 323.3,192.0 325.0,192.3 322.6,192.6 324.5,192.9 323.6,193.2 324.3,193.5 323.6,193.8 325.0,194.2 323.4,194.4 323.1,194.7 325.0,195.1 323.9,195.3 324.6,195.7 324.0,196.0 324.3,196.3 321.0,196.4 323.9,196.9 324.6,197.2 322.6,197.4 321.4,197.7 323.3,198.1 323.3,198.4 322.7,198.6 325.8,199.2 326.5,199.5 323.3,199.6 324.6,200.0 320.3,200.0 324.2,200.6 326.7,201.1 323.6,201.2 324.0,201.5 322.2,201.7 319.2,201.7 323.4,202.4 326.8,203.0 323.6,203.0 322.7,203.2 324.4,203.7 323.7,203.9 324.7,204.4 323.4,204.5 323.5,204.8 325.3,205.3 322.2,205.3 324.1,205.8 325.3,206.3 324.4,206.5 323.1,206.7 324.2,207.1 322.5,207.2 323.0,207.6 322.5,207.8 320.2,207.8 323.7,208.6 322.6,208.8 325.0,209.4 323.8,209.5 323.2,209.8 322.5,210.0 323.3,210.4 324.8,210.9 322.9,211.0 324.2,211.5 323.9,211.7 322.9,211.9 321.3,212.0 321.4,212.3 322.5,212.8 324.1,213.3 322.5,213.4 325.0,214.1 323.4,214.2 323.5,214.5 325.8,215.2 320.6,214.6 323.6,215.4 324.0,215.8 321.6,215.7 324.2,216.5 321.3,216.3 320.0,216.4 321.8,217.0 321.5,217.3 321.6,217.6 321.2,217.8 322.9,218.5 324.3,219.1 321.3,218.8 323.7,219.6 321.0,219.4 319.4,219.3 321.1,220.0 321.0,220.3 318.5,220.1 321.2,221.0 321.6,221.3 320.9,221.5 320.8,221.8 320.3,222.0 323.4,223.0 321.0,222.8 319.9,222.9 322.0,223.7 321.5,223.9 322.5,224.4 319.9,224.1 320.8,224.6 319.8,224.7 321.2,225.4 318.8,225.1 320.6,225.9 321.0,226.3 319.5,226.2 321.6,227.1 320.3,227.1 322.4,227.9 320.8,227.8 320.1,228.0 316.3,227.3 319.9,228.6 318.3,228.5 319.6,229.1 320.2,229.6 320.1,229.9 318.6,229.8 318.8,230.2 316.1,229.8 319.3,231.0 319.2,231.3 319.0,231.5 317.3,231.3 318.7,232.0 314.8,231.2 318.4,232.6 317.0,232.5 318.1,233.2 317.6,233.3 317.3,233.6 317.6,234.0 317.3,234.2 319.0,235.1 316.9,234.7 318.8,235.6 317.1,235.4 317.9,236.0 314.5,235.3 317.7,236.6 316.8,236.6 316.6,236.9 315.8,237.0 315.8,237.3 317.0,238.0 316.6,238.2 316.0,238.3 316.0,238.6 315.5,238.8 313.3,238.3 315.4,239.4 315.1,239.6 316.0,240.3 315.9,240.5 315.0,240.5 314.5,240.7 312.6,240.4 314.5,241.4 314.3,241.6 314.1,241.8 311.4,241.2 312.2,241.8 317.8,244.2 314.1,243.2 313.6,243.3 311.2,242.7 314.5,244.3 313.2,244.1 313.3,244.5 313.2,244.8 313.3,245.1 314.1,245.8 312.9,245.6 313.2,246.1 315.5,247.3 310.5,245.7 314.7,247.7 313.9,247.7 311.8,247.2 311.7,247.4 311.1,247.5 315.0,249.5 311.5,248.4 311.4,248.7 312.3,249.4 313.7,250.3 312.1,249.9 311.3,250.0 310.8,250.1 308.5,249.4 309.9,250.3 310.8,251.0 310.8,251.4 309.6,251.2 309.7,251.6 310.5,252.3 309.5,252.2 309.9,252.6 310.6,253.3 311.3,254.0 309.1,253.3 308.3,253.3 311.6,255.1 310.0,254.7 310.4,255.3 308.1,254.5 309.8,255.7 309.6,255.9 308.7,255.8 307.9,255.7 308.3,256.3 311.4,258.1 309.4,257.5 309.2,257.7 309.6,258.3 309.1,258.4 308.6,258.5 310.3,259.7 308.3,259.0 307.6,259.0 308.9,260.0" fill="none" stroke="#ECBCDF" stroke-width="1.3" stroke-linejoin="round"/>
<polyline points="307.5,189.1 304.9,189.4 307.3,189.7 305.8,189.9 305.8,190.2 307.6,190.5 307.4,190.8 308.6,191.1 304.5,191.3 305.7,191.6 306.0,191.8 305.0,192.1 308.1,192.4 306.4,192.7 306.4,192.9 307.4,193.3 303.6,193.4 305.4,193.7 305.8,194.0 309.2,194.4 305.0,194.5 303.2,194.7 306.1,195.1 303.2,195.2 305.9,195.6 304.6,195.8 306.7,196.2 306.8,196.5 305.8,196.7 307.7,197.1 306.4,197.3 306.0,197.6 304.2,197.7 303.8,197.9 306.6,198.4 307.3,198.7 303.5,198.7 307.2,199.3 305.1,199.4 307.2,199.8 306.9,200.1 305.1,200.2 304.9,200.5 305.6,200.8 306.7,201.2 305.5,201.3 307.4,201.8 306.5,202.0 308.1,202.4 306.8,202.6 305.9,202.7 305.0,202.9 306.8,203.4 306.9,203.7 307.4,204.0 305.5,204.1 305.3,204.3 305.1,204.6 305.9,204.9 302.6,204.8 306.1,205.5 305.7,205.7 306.9,206.2 307.2,206.5 308.2,206.9 306.0,206.9 303.8,206.9 306.4,207.5 306.6,207.8 303.4,207.6 304.4,208.0 305.7,208.5 304.7,208.6 304.9,208.9 305.9,209.3 304.4,209.4 306.5,210.0 306.1,210.2 304.0,210.2 302.6,210.2 305.1,210.9 306.3,211.4 302.5,211.0 305.4,211.8 302.7,211.6 305.3,212.3 303.9,212.3 305.4,212.9 302.1,212.6 304.9,213.3 305.3,213.7 304.0,213.7 304.6,214.1 303.9,214.3 306.4,215.0 305.4,215.1 304.8,215.3 303.6,215.3 306.5,216.2 305.4,216.2 305.0,216.4 305.6,216.8 302.9,216.6 303.0,216.9 305.3,217.6 304.8,217.8 303.1,217.7 302.6,217.9 303.6,218.4 300.7,218.0 301.3,218.4 301.8,218.8 302.0,219.1 304.3,219.9 303.6,220.1 301.1,219.8 302.1,220.3 303.1,220.8 301.4,220.7 299.6,220.5 303.6,221.8 300.9,221.4 301.6,221.8 302.0,222.2 303.5,222.9 301.5,222.6 303.0,223.3 301.3,223.1 301.2,223.4 300.2,223.4 302.5,224.3 302.7,224.6 301.9,224.7 303.4,225.4 301.3,225.1 302.0,225.6 301.1,225.6 301.5,226.0 301.2,226.2 302.4,226.8 300.2,226.5 302.7,227.5 301.0,227.3 302.1,227.9 299.2,227.3 300.7,228.0 303.3,229.1 301.4,228.8 298.3,228.2 300.2,229.0 299.6,229.1 298.9,229.2 299.1,229.5 300.3,230.2 299.8,230.3 299.8,230.6 300.5,231.1 300.7,231.5 299.8,231.5 298.1,231.2 298.3,231.5 300.3,232.5 298.6,232.2 301.5,233.5 299.6,233.1 300.3,233.7 299.2,233.6 300.3,234.2 301.8,235.0 300.2,234.8 298.7,234.5 301.9,236.0 298.2,235.0 297.0,234.8 297.0,235.1 300.7,236.7 298.3,236.1 299.0,236.7 297.6,236.5 298.4,237.0 297.6,237.1 297.6,237.3 297.2,237.5 296.1,237.3 297.0,238.0 296.9,238.2 294.5,237.6 296.9,238.8 296.0,238.7 294.6,238.5 296.3,239.5 293.4,238.6 298.2,240.8 295.0,239.8 294.9,240.1 293.4,239.8 296.6,241.3 295.4,241.1 293.8,240.8 295.2,241.7 294.5,241.6 293.0,241.3 292.9,241.5 293.6,242.2 293.0,242.2 291.2,241.7 293.6,243.0 294.0,243.5 290.9,242.4 293.0,243.7 291.8,243.4 293.1,244.3 292.9,244.5 292.4,244.5 291.2,244.3 292.2,245.0 291.7,245.1 291.1,245.1 291.7,245.7 291.2,245.7 291.6,246.3 292.4,246.9 289.7,245.9 291.0,246.9 290.3,246.8 291.4,247.6 292.7,248.5 292.5,248.7 289.1,247.4 291.7,249.0 291.4,249.1 289.9,248.7 290.8,249.4 291.5,250.1 289.6,249.4 290.9,250.4 291.1,250.8 290.1,250.6" fill="none" stroke="#E2281E" stroke-width="2.0" stroke-linejoin="round"/>
<path d="M270.60,188.40A104.4,104.4 0 0 1 259.26,235.72L248.83,230.41A92.7,92.7 0 0 0 258.90,188.40Z" fill="#B3D2EC"/>
<path d="M302.75,277.41A163,163 0 0 1 217.27,343.19L213.54,331.89A151.1,151.1 0 0 0 292.78,270.92Z" fill="#fff"/>
<path d="M288.00,267.80A145.4,145.4 0 0 1 211.76,326.48L207.94,314.89A133.2,133.2 0 0 0 277.78,261.14Z" fill="#fff"/>
<polyline points="298.2,275.4 298.1,275.8 300.2,277.5 299.5,277.4 298.3,277.0 297.2,276.6 297.1,276.9 298.4,278.2 295.5,276.6 296.9,277.9 295.7,277.5 297.0,278.7 298.9,280.4 295.8,278.7 296.2,279.3 295.5,279.2 297.2,280.7 297.4,281.3 295.4,280.2 296.0,281.0 295.2,280.8 296.1,281.8 295.4,281.7 293.1,280.5 294.7,282.0 293.0,281.1 293.0,281.5 294.6,283.1 291.4,281.1 294.2,283.6 292.8,282.9 292.3,282.9 293.2,284.0 293.0,284.2 290.1,282.4 290.5,283.1 291.3,284.1 291.5,284.6 288.9,283.0 291.5,285.4 289.0,283.9 290.3,285.2 289.1,284.7 288.2,284.4 290.4,286.5 289.0,285.7 291.1,287.8 289.1,286.6 288.1,286.2 288.9,287.2 290.2,288.7 287.3,286.7 289.4,288.9 287.6,287.7 286.8,287.5 287.0,288.0 287.6,288.9 287.8,289.5 288.6,290.5 287.8,290.3 287.2,290.2 286.6,290.1 286.3,290.2 287.2,291.4 285.6,290.4 285.3,290.6 285.5,291.2 286.5,292.4 284.9,291.5 285.1,292.1 284.3,291.7 284.8,292.6 283.0,291.4 285.3,293.9 285.4,294.4 284.8,294.3 283.5,293.4 284.2,294.5 283.2,294.0 282.5,293.8 284.8,296.3 284.2,296.2 280.6,293.3 281.4,294.4 282.1,295.5 281.5,295.4 282.2,296.5 282.6,297.3 280.6,295.8 281.3,296.9 280.0,296.0 278.7,295.3 281.0,297.8 278.4,295.7 279.6,297.3 279.0,297.2 280.3,298.8 280.0,299.0 279.3,298.8 279.5,299.4 278.6,299.0 277.9,298.7 279.1,300.3 280.6,302.2 277.1,299.1 279.1,301.6 279.6,302.6 277.2,300.6 278.1,302.0 276.8,301.0 277.0,301.7 277.5,302.6 275.8,301.3 278.3,304.3 277.5,304.0 277.0,303.9 275.5,302.8 276.9,304.7 277.4,305.7 277.3,306.0 276.4,305.5 274.9,304.4 275.1,305.1 275.4,305.8 276.1,307.1 274.3,305.5 274.6,306.3 273.7,305.9 272.9,305.4 273.4,306.4 272.4,305.8 273.0,306.9 271.8,306.0 273.4,308.3 272.0,307.2 271.8,307.4 273.2,309.5 271.0,307.5 271.5,308.5 270.3,307.6 271.3,309.2 269.4,307.5 269.1,307.5 270.1,309.3 268.7,308.1 269.0,308.9 268.4,308.7 267.6,308.2 268.7,310.0 268.1,309.7 267.9,310.0 269.7,312.6 268.3,311.4 268.3,311.9 267.5,311.4 267.3,311.7 267.8,312.8 265.2,310.1 267.6,313.4 266.9,313.1 266.6,313.2 265.6,312.5 265.3,312.7 265.1,312.8 264.8,313.0 265.0,313.8 265.9,315.4 264.3,313.8 263.4,313.2 264.0,314.4 263.0,313.7 262.8,313.9 262.1,313.5 262.9,315.1 262.4,315.0 262.5,315.6 262.0,315.5 260.5,313.9 262.0,316.4 260.4,314.9 259.2,313.7 260.9,316.6 259.4,315.1 260.9,317.5 258.8,315.3 259.9,317.3 259.5,317.3 256.9,314.2 257.0,314.8 258.6,317.5 257.8,317.0 258.8,318.9 257.1,317.1 257.3,317.9 257.3,318.4 256.8,318.3 256.5,318.3 256.2,318.5 255.0,317.3 256.1,319.3 255.4,318.9 255.0,318.9 254.6,318.8 254.3,318.9 254.2,319.3 254.0,319.5 254.8,321.3 254.3,321.2 253.3,320.2 254.1,321.9 252.9,320.6 253.0,321.4 253.1,322.1 252.7,322.0 252.5,322.3 251.0,320.6 251.0,321.1 252.2,323.6 251.0,322.3 249.9,321.1 250.6,322.8 250.7,323.5 250.1,323.2 249.4,322.6 248.8,322.2 248.5,322.3 250.4,326.0 249.3,324.7 248.1,323.4 247.2,322.5 247.8,324.1 247.5,324.3 247.2,324.4 246.6,323.9 247.1,325.4 247.1,325.9 245.0,323.0 244.9,323.5 244.3,323.0 244.4,323.7 243.9,323.5 244.5,325.1 244.4,325.5 243.3,324.3 243.6,325.5 243.0,324.9 241.8,323.4 242.3,325.0 242.5,326.0 241.6,324.9 242.2,326.7 241.8,326.5 240.0,324.0 240.8,326.1 241.1,327.2 241.1,327.8 240.0,326.5 239.7,326.6 238.9,325.6 239.5,327.5 239.8,328.6 238.9,327.7 238.3,327.1 238.0,327.2 237.3,326.6 237.4,327.4 236.7,326.6 237.5,328.9 237.6,329.9 235.5,326.4 236.3,328.7 236.1,328.9 234.7,326.8 235.0,327.9 235.0,328.8 234.6,328.5 234.0,328.0 234.4,329.6 233.8,328.9 233.6,329.2 232.9,328.6 231.8,326.9 232.8,329.6 233.3,331.5 232.5,330.5 232.6,331.5 231.4,329.6 232.9,333.5 231.1,330.4 231.3,331.6 231.3,332.3 230.4,331.0 229.6,329.9 229.6,330.7 229.5,331.3 230.0,333.1 228.3,330.1 228.1,330.4 228.4,331.7 227.7,330.8 227.9,332.1 227.1,331.1 226.3,330.0 226.7,331.7 226.0,330.7 225.7,330.8 226.3,333.0 226.5,334.2 225.3,332.2 225.3,333.1 225.4,334.1 224.0,331.5 224.5,333.5 224.2,333.4 223.5,332.6 224.5,335.9 223.0,332.9 222.2,331.7 222.5,333.3 222.7,334.6 221.6,332.7 222.5,335.9 221.3,333.6 221.3,334.4 220.9,334.3 220.4,333.9 220.1,333.9 219.8,333.9 219.7,334.5 220.0,336.3 219.4,335.5 219.3,335.9 218.8,335.5 218.0,334.2 218.7,337.1 218.1,336.3 217.5,335.5 217.6,336.6 216.8,335.3 217.2,337.5 217.0,337.9 217.1,338.9 215.8,336.0" fill="none" stroke="#ECBCDF" stroke-width="1.3" stroke-linejoin="round"/>
<polyline points="283.2,265.6 282.1,265.2 282.1,265.5 283.2,266.6 282.0,266.1 282.0,266.4 281.9,266.6 283.5,268.1 282.4,267.7 280.8,266.9 281.3,267.5 282.7,268.9 282.1,268.7 281.6,268.7 281.4,268.9 280.7,268.8 280.8,269.2 281.3,269.9 281.0,270.0 279.2,269.1 279.0,269.2 280.8,270.8 280.5,271.0 279.2,270.4 280.4,271.6 278.7,270.7 278.6,270.9 278.7,271.3 280.6,273.1 277.5,271.1 279.0,272.6 279.3,273.2 279.4,273.6 278.7,273.4 277.8,273.1 277.1,272.9 277.3,273.3 278.1,274.3 277.4,274.1 275.9,273.3 277.5,274.8 276.1,274.2 277.3,275.4 278.2,276.5 279.0,277.5 276.4,275.8 275.7,275.5 274.6,275.0 276.6,276.9 275.8,276.7 275.6,276.8 274.2,276.1 274.9,277.0 276.1,278.4 275.8,278.4 274.9,278.1 274.7,278.2 273.1,277.3 275.6,279.7 274.2,278.9 274.0,279.1 274.4,279.8 274.1,279.9 274.0,280.2 272.0,278.8 273.8,280.7 272.7,280.1 272.4,280.2 274.2,282.2 273.3,281.7 273.4,282.2 271.1,280.5 272.7,282.3 270.6,280.8 269.3,280.1 271.4,282.3 271.1,282.4 270.9,282.5 271.8,283.7 270.4,282.8 270.8,283.6 270.1,283.3 269.6,283.2 269.5,283.5 270.3,284.6 269.5,284.2 270.2,285.3 269.5,285.0 269.0,284.9 268.4,284.7 267.1,283.8 267.7,284.8 268.6,286.0 268.4,286.2 267.4,285.6 269.0,287.6 266.2,285.3 269.1,288.4 266.4,286.2 267.9,288.0 266.6,287.1 267.7,288.6 267.6,288.9 266.5,288.2 265.3,287.4 264.5,287.0 264.7,287.5 265.4,288.7 265.9,289.5 264.8,288.8 264.3,288.7 264.9,289.7 264.1,289.3 263.9,289.5 263.4,289.4 262.1,288.4 262.4,289.1 264.2,291.4 262.6,290.1 263.1,291.0 260.7,288.9 261.7,290.3 262.5,291.6 261.1,290.4 261.5,291.3 261.8,292.0 260.7,291.3 259.5,290.3 260.8,292.2 260.6,292.4 259.6,291.6 261.3,293.9 260.0,292.9 259.4,292.7 261.0,294.8 259.6,293.6 258.4,292.7 259.8,294.7 259.6,294.9 258.9,294.6 257.8,293.7 258.3,294.7 257.3,293.9 258.9,296.2 258.0,295.6 257.3,295.1 257.1,295.3 257.8,296.6 257.3,296.5 256.3,295.7 256.4,296.2 256.3,296.5 254.9,295.3 254.8,295.5 255.1,296.3 256.0,297.9 255.2,297.3 254.6,297.0 254.2,297.0 254.1,297.3 254.9,298.7 254.3,298.3 254.6,299.2 252.9,297.6 252.9,298.0 252.8,298.3 252.8,298.6 254.4,301.2 254.1,301.2 251.4,298.3 253.0,300.8 250.5,297.9 251.8,300.1 251.5,300.2 250.9,299.8 252.4,302.2 250.5,300.2 251.5,302.0 249.9,300.2 250.6,301.6 251.2,303.0 251.0,303.2 251.0,303.6 249.9,302.6 248.9,301.6 248.0,300.9 248.9,302.6 249.0,303.2 248.2,302.5 247.8,302.5 249.0,304.6 246.9,302.2 247.3,303.2 246.5,302.5 246.3,302.7 247.1,304.3 248.1,306.2 246.3,304.1 246.8,305.3 246.0,304.6 245.9,305.0 245.4,304.8 245.3,305.1 245.1,305.3 244.5,304.9 243.7,304.1 244.7,306.1 244.5,306.4 242.9,304.4 243.0,305.0 242.1,304.3 241.7,304.0 241.5,304.2 242.3,306.0 240.5,303.6 241.3,305.5 242.4,307.7 240.4,305.0 240.4,305.6 240.3,305.9 240.6,306.9 241.7,309.2 239.8,306.6 240.0,307.4 239.5,307.2 239.3,307.4 239.1,307.6 238.4,306.9 238.6,307.8 238.7,308.4 237.2,306.4 237.6,307.7 237.3,307.8 237.7,309.0 236.2,306.8 237.5,309.7 236.8,309.0 236.5,309.0 235.8,308.3 236.0,309.1 236.1,309.9 235.0,308.6 235.4,309.7 234.0,307.9 234.2,308.7 232.7,306.7 233.8,309.2 232.7,307.8 233.9,310.4 234.1,311.4 232.7,309.4 233.0,310.4 233.7,312.3 232.1,309.9 231.8,310.0 232.4,311.6 232.3,312.0 232.3,312.7 231.2,311.2 231.2,311.8 230.8,311.5 230.9,312.3 230.0,311.1 230.5,312.8 230.4,313.0 229.6,312.2 229.1,311.9 229.1,312.4 228.7,312.1 228.4,312.1 228.0,312.0 227.3,311.1 227.5,312.1 226.3,310.3 227.6,313.5 226.8,312.6 226.8,313.2 226.5,313.3 225.7,312.2 226.0,313.5 225.6,313.2 225.7,314.0 225.7,314.8 225.1,314.1 224.9,314.2 225.1,315.4 223.5,312.5 224.5,315.3 223.8,314.4 224.0,315.5 223.4,314.8 223.0,314.6 224.2,317.8 223.6,317.2 223.2,317.1 223.1,317.5 222.7,317.1 222.6,317.7 221.7,316.2 222.0,317.7 221.9,318.2 221.5,317.8 220.2,315.7 222.0,320.5 220.9,318.7 221.0,319.5 219.7,317.2 218.9,315.9 219.9,319.0 219.1,317.9 219.5,319.4 218.3,317.2 217.7,316.6 218.9,320.1 218.2,319.3 217.2,317.5 216.3,315.8 217.2,318.9 217.8,321.1 217.0,319.8 217.3,321.4 216.6,320.5 216.0,319.7 216.7,322.1 214.7,317.7 215.3,320.1 215.8,322.2 214.7,320.0 214.5,320.2 214.3,320.5 214.3,321.4 214.6,323.0 214.0,322.0 213.7,322.2 213.7,323.0 213.5,323.2 212.7,321.7 212.7,322.7 212.0,321.3 212.9,324.8 211.3,321.1 211.7,323.1 211.3,322.8" fill="none" stroke="#E2281E" stroke-width="2.0" stroke-linejoin="round"/>
<path d="M253.66,245.41A104.4,104.4 0 0 1 198.91,287.54L195.25,276.43A92.7,92.7 0 0 0 243.86,239.02Z" fill="#B3D2EC"/>
<path d="M200.76,347.69A163,163 0 0 1 98.35,336.61L103.30,325.79A151.1,151.1 0 0 0 198.23,336.07Z" fill="#fff"/>
<path d="M197.03,330.49A145.4,145.4 0 0 1 105.67,320.60L110.75,309.51A133.2,133.2 0 0 0 194.44,318.57Z" fill="#fff"/>
<polyline points="199.0,343.5 198.7,343.8 198.3,343.1 197.6,341.2 197.5,342.3 196.6,339.2 196.7,341.4 196.8,343.5 196.6,344.0 196.1,343.1 195.7,342.7 195.3,342.4 194.6,340.3 195.0,344.0 194.5,342.9 194.2,342.9 193.5,340.8 193.5,342.6 193.1,341.7 192.7,341.4 193.1,345.7 192.4,343.0 191.9,342.0 191.3,340.5 191.7,344.7 190.9,341.7 190.6,341.7 190.4,342.5 190.0,341.8 189.7,341.6 189.8,344.6 189.7,345.7 189.0,343.0 188.6,342.3 188.4,343.4 188.0,342.3 187.7,342.6 187.3,342.1 187.5,345.4 186.9,343.5 186.3,341.0 186.3,343.2 186.2,344.9 185.6,342.8 185.5,344.4 185.2,344.6 184.6,342.5 184.5,344.1 184.5,346.2 183.7,342.2 183.5,343.5 183.1,342.6 182.8,342.2 182.6,343.1 182.4,344.1 182.0,343.4 181.9,345.1 181.5,344.0 181.0,342.7 180.9,344.6 180.5,343.4 180.0,341.7 180.0,345.1 179.5,342.2 179.4,344.3 179.1,344.3 178.6,342.9 178.5,344.8 178.0,342.8 177.9,344.9 177.5,343.6 177.2,344.0 177.0,345.6 176.6,344.7 176.2,343.1 176.0,343.9 175.6,343.3 175.5,345.1 175.1,345.0 174.8,343.7 174.5,344.9 174.2,344.9 173.9,343.8 173.5,342.0 173.3,344.1 172.9,342.4 172.6,341.8 172.4,344.8 172.1,345.7 171.8,345.1 171.4,343.1 171.2,345.8 170.8,343.7 170.6,346.2 170.3,346.1 170.0,345.7 169.7,345.3 169.4,347.0 169.1,346.5 168.8,347.3 168.5,347.2 168.1,345.2 167.9,346.1 167.6,346.7 167.2,344.9 166.9,345.9 166.6,347.1 166.3,346.2 166.0,346.6 165.7,345.5 165.4,345.3 165.1,345.6 164.8,346.9 164.5,346.1 164.2,345.7 163.8,348.4 163.5,348.0 163.3,344.5 163.0,346.5 162.7,346.1 162.4,345.9 162.1,345.1 161.8,345.1 161.5,344.9 161.2,344.9 160.9,344.3 160.6,343.9 160.2,346.4 159.9,345.0 159.6,345.3 159.3,346.2 159.1,342.8 158.6,346.6 158.2,348.4 158.1,344.9 157.7,346.6 157.4,346.9 157.1,347.1 156.9,345.4 156.6,345.6 156.3,345.4 156.0,345.4 155.8,342.8 155.3,346.4 154.9,347.2 154.6,347.5 154.3,346.9 154.2,344.7 153.8,345.4 153.5,345.4 153.3,344.6 152.8,346.2 152.4,347.8 152.3,345.1 151.9,346.4 151.6,346.4 151.4,344.9 151.0,346.3 150.4,348.5 150.5,345.1 150.1,345.7 150.0,343.4 149.3,347.7 149.3,344.7 148.8,346.1 148.4,347.0 148.1,347.0 148.0,345.4 147.7,344.6 147.5,343.7 147.3,343.4 146.8,344.8 146.4,345.8 146.0,346.1 145.8,345.7 145.7,343.9 144.9,347.5 144.7,346.7 144.8,343.7 144.3,345.2 144.1,344.3 143.8,344.5 143.3,345.6 142.9,346.0 142.8,344.4 142.3,345.7 142.1,345.1 141.5,347.0 141.7,343.9 141.2,344.7 141.0,344.1 140.9,342.8 140.1,345.8 140.0,344.5 139.8,344.1 139.6,343.5 139.3,343.3 139.0,343.1 138.9,341.9 138.5,342.7 137.8,344.8 137.8,343.1 137.8,341.5 137.4,341.8 137.1,341.6 136.6,342.8 136.3,342.6 135.9,343.2 135.2,345.0 135.5,342.1 135.0,343.3 134.6,343.5 133.9,345.4 134.1,342.7 133.9,342.6 134.1,339.7 133.7,340.6 132.6,344.1 133.0,340.7 132.0,343.9 131.8,343.2 131.7,342.5 131.5,342.1 131.5,340.3 130.9,342.0 130.7,341.2 130.2,342.2 130.1,341.0 129.5,342.2 129.1,342.8 128.7,342.9 128.4,343.0 127.5,345.5 127.5,344.0 127.4,343.1 127.3,342.5 127.5,340.3 126.5,343.1 127.0,339.9 126.3,341.1 125.8,342.1 126.1,339.5 125.0,342.7 125.5,339.4 124.6,341.5 124.3,341.5 124.4,340.2 124.0,340.3 123.3,341.7 122.8,342.6 123.2,339.7 122.6,341.0 122.8,339.0 122.7,338.1 121.5,341.5 121.3,341.0 120.9,341.3 120.9,340.2 119.7,343.0 120.8,338.3 119.8,340.6 119.8,339.4 119.4,339.8 119.3,339.2 118.8,339.7 117.6,342.5 118.0,340.0 117.6,340.4 117.3,340.2 117.6,338.2 116.4,340.9 117.1,337.9 116.1,340.0 115.9,339.6 115.5,339.6 116.1,337.1 115.7,337.4 115.5,336.9 114.2,339.8 114.3,338.4 114.9,335.9 114.0,337.6 114.3,335.8 113.6,336.7 113.0,337.4 113.1,336.4 112.0,338.5 112.3,336.9 111.5,337.9 112.0,335.7 111.8,335.4 111.4,335.7 111.0,336.0 111.2,334.5 109.6,337.9 110.8,333.8 109.6,336.2 110.1,334.0 109.8,333.9 108.6,336.2 108.9,334.5 108.7,334.2 108.0,335.2 107.4,335.8 107.6,334.4 106.7,335.9 106.9,334.7 106.0,335.9 105.9,335.3 105.7,335.2 105.7,334.3 104.2,337.0 104.9,334.7 105.6,332.1 104.4,334.2 105.0,332.1 104.5,332.4 104.4,332.0 102.9,334.6 103.7,332.1 103.6,331.4 103.2,331.6 103.3,330.6 101.5,333.9 101.9,332.4 101.6,332.3 102.4,329.8" fill="none" stroke="#ECBCDF" stroke-width="1.3" stroke-linejoin="round"/>
<polyline points="195.4,326.3 195.0,326.0 194.0,322.6 194.0,323.6 193.8,323.9 193.6,324.7 193.7,326.4 193.1,324.5 193.5,327.9 192.7,325.3 192.0,323.2 192.3,326.4 192.0,326.3 191.6,325.5 191.1,324.1 191.2,326.2 191.1,327.5 190.1,323.3 190.5,327.2 189.8,324.4 189.5,324.7 189.2,324.1 188.9,324.1 189.2,327.7 188.5,324.7 188.5,326.8 187.9,324.8 188.0,326.9 187.7,326.7 186.9,323.1 186.9,325.1 186.7,325.7 186.4,325.5 186.3,326.7 186.2,327.6 185.9,327.6 185.4,326.1 185.4,327.8 185.1,327.9 184.6,326.5 184.6,328.5 184.5,329.4 184.2,329.6 183.5,326.2 183.5,328.3 183.2,328.5 183.0,328.4 182.5,326.5 182.3,327.2 182.0,327.4 182.0,330.0 181.5,328.0 181.3,328.0 181.0,328.3 180.7,328.3 180.5,328.4 180.0,326.6 179.9,328.5 179.7,328.3 179.5,329.7 179.0,327.5 178.9,329.6 178.6,328.8 178.2,326.9 178.0,327.7 177.7,327.6 177.3,326.5 177.2,328.9 177.0,329.2 176.6,327.3 176.5,330.0 176.3,330.5 175.9,329.2 175.6,329.6 175.5,331.1 175.0,327.9 174.8,329.5 174.6,331.1 174.3,329.4 173.9,327.9 173.7,329.0 173.4,329.1 173.1,327.9 172.9,329.4 172.6,329.4 172.2,326.1 172.0,328.9 171.7,327.9 171.4,327.1 171.2,329.4 171.0,330.8 170.7,329.3 170.4,327.6 170.1,329.4 169.8,328.5 169.6,330.1 169.3,327.5 169.0,329.1 168.8,329.9 168.5,328.5 168.2,330.4 168.0,330.0 167.7,329.6 167.4,327.5 167.1,329.0 166.9,328.4 166.6,328.8 166.3,326.8 166.0,330.2 165.8,327.1 165.5,330.7 165.2,328.4 164.9,332.2 164.7,329.9 164.4,326.6 164.2,327.0 163.9,328.7 163.6,328.6 163.3,329.1 163.0,331.8 162.7,330.8 162.5,328.6 162.2,329.0 161.9,329.6 161.7,328.8 161.4,329.3 161.0,331.8 160.8,331.1 160.5,331.4 160.3,328.7 160.0,330.8 159.7,329.5 159.4,329.9 159.2,328.3 158.9,329.7 158.7,329.0 158.4,329.4 158.1,329.0 157.9,327.4 157.5,329.4 157.3,328.4 157.0,329.2 156.8,328.9 156.4,329.5 156.4,326.6 156.0,328.5 155.6,329.6 155.4,328.1 155.3,326.2 154.9,328.1 154.6,328.6 154.5,326.7 154.1,327.7 153.8,328.6 153.8,325.2 153.5,325.2 153.1,326.5 152.8,327.3 152.7,325.3 152.2,328.0 151.7,329.8 151.7,327.6 151.4,327.9 151.1,327.6 150.8,327.7 150.6,327.1 150.4,326.7 150.4,324.6 149.8,326.9 149.3,329.0 149.2,328.0 149.1,326.5 148.4,329.8 148.7,325.6 148.2,326.6 147.6,329.7 147.3,329.7 147.1,329.0 147.0,327.8 146.8,327.3 146.6,326.4 146.1,328.1 146.5,323.5 145.7,326.9 145.2,328.9 145.2,326.6 145.5,322.8 144.5,327.6 144.7,324.6 144.5,324.2 143.8,327.1 143.6,326.8 143.2,327.4 143.1,326.4 142.9,325.5 142.7,325.1 142.2,326.5 142.0,326.1 141.7,326.5 141.3,327.0 141.2,326.0 140.5,328.3 140.5,326.7 140.1,327.3 140.3,324.8 139.9,325.4 139.6,325.6 139.3,325.8 139.1,325.3 139.0,324.5 138.6,325.2 138.1,326.2 137.9,325.8 137.9,324.6 137.5,325.2 137.0,326.2 136.8,325.8 136.8,324.5 136.2,326.1 135.9,326.2 135.1,328.5 135.1,327.4 134.7,327.7 134.6,327.1 134.6,325.8 133.8,327.8 133.8,326.7 134.0,324.7 133.3,326.3 133.1,326.0 133.3,324.0 132.9,324.7 133.1,322.8 132.3,324.9 132.0,324.7 131.8,324.6 131.5,324.4 131.4,324.0 130.8,325.1 130.8,324.2 130.4,324.7 130.4,323.3 129.9,324.3 130.1,322.3 130.0,321.9 129.2,323.6 128.9,323.7 128.3,324.8 128.4,323.5 127.8,324.6 127.8,323.7 127.5,323.7 127.1,324.2 126.4,325.5 126.5,324.1 126.4,323.7 126.0,323.9 126.2,322.3 125.5,323.8 125.7,322.1 124.6,324.7 125.2,322.0 124.0,324.8 124.4,322.8 124.1,322.5 123.7,323.0 122.8,324.8 123.2,323.0 122.7,323.4 122.5,323.1 121.7,324.7 122.6,321.0 121.7,323.0 121.5,322.6 120.9,323.6 121.3,321.5 121.2,321.1 121.2,320.2 120.9,320.1 120.4,320.9 119.1,323.7 119.5,321.7 119.2,321.8 119.3,320.7 118.4,322.4 118.7,320.8 118.0,321.9 118.5,319.6 117.8,320.9 116.9,322.5 117.2,321.0 117.3,319.9 117.0,319.8 116.4,320.6 116.7,319.0 115.9,320.5 116.9,317.0 116.0,318.7 115.7,318.7 114.8,320.2 114.8,319.4 114.3,320.1 114.4,319.0 113.8,319.8 114.4,317.5 114.0,317.8 113.0,319.5 113.6,317.4 113.7,316.4 112.6,318.5 111.6,320.0 112.0,318.4 112.0,317.7 111.0,319.4 111.4,317.7 110.6,318.9 111.1,316.9 111.3,315.8 110.2,317.7 110.7,315.8 110.1,316.6 109.7,316.9 108.7,318.4 109.0,317.1 108.2,318.2 108.8,316.2 108.8,315.5" fill="none" stroke="#E2281E" stroke-width="2.0" stroke-linejoin="round"/>
<path d="M188.33,290.43A104.4,104.4 0 0 1 122.74,283.32L127.61,272.69A92.7,92.7 0 0 0 185.85,278.99Z" fill="#B3D2EC"/>
<path d="M84.38,329.38A163,163 0 0 1 19.32,259.09L30.05,253.93A151.1,151.1 0 0 0 90.35,319.08Z" fill="#fff"/>
<path d="M93.21,314.15A145.4,145.4 0 0 1 35.18,251.45L46.18,246.16A133.2,133.2 0 0 0 99.34,303.60Z" fill="#fff"/>
<polyline points="87.3,322.7 85.7,324.9 85.2,325.0 85.3,324.2 84.9,324.4 84.4,324.5 84.8,323.4 83.5,324.9 84.0,323.6 83.9,323.1 84.0,322.3 82.3,324.5 84.6,320.2 83.9,320.8 84.7,318.9 81.5,323.4 81.9,322.3 82.9,320.1 82.8,319.7 81.7,320.8 81.0,321.4 81.3,320.2 80.5,321.0 79.2,322.4 79.8,320.9 78.5,322.4 79.3,320.5 77.8,322.3 78.6,320.5 77.6,321.4 77.5,321.0 78.0,319.8 77.6,319.8 77.2,319.9 78.2,317.9 75.8,320.8 77.6,317.7 76.7,318.4 76.7,317.8 75.9,318.5 76.5,317.1 76.1,317.1 76.5,316.0 74.3,318.6 73.5,319.3 75.5,315.9 73.7,317.9 74.7,316.0 73.2,317.5 73.6,316.5 73.6,315.9 72.2,317.4 73.2,315.4 72.2,316.2 71.6,316.6 73.0,314.1 73.2,313.4 71.1,315.6 72.1,313.8 70.8,315.0 72.5,312.3 72.8,311.4 71.2,313.0 69.2,315.1 69.6,314.1 69.6,313.6 69.6,313.1 69.7,312.4 68.8,313.1 67.9,313.8 68.5,312.4 69.2,311.1 68.4,311.7 67.3,312.5 67.4,311.9 67.8,310.9 66.3,312.3 68.3,309.3 66.2,311.5 67.1,309.8 66.4,310.3 65.7,310.6 65.6,310.2 65.5,309.9 64.3,310.9 65.3,309.2 63.8,310.5 65.0,308.6 63.4,310.0 62.1,311.1 62.7,309.8 63.2,308.8 62.3,309.4 61.3,310.1 62.4,308.3 60.3,310.2 61.2,308.8 60.8,308.7 61.1,308.0 59.4,309.4 61.5,306.5 60.1,307.6 60.8,306.4 60.1,306.7 60.7,305.7 57.8,308.4 58.4,307.2 58.7,306.4 58.1,306.6 58.8,305.4 59.1,304.6 56.9,306.6 57.6,305.4 57.3,305.3 58.6,303.4 57.2,304.4 58.5,302.6 57.2,303.5 58.0,302.2 55.6,304.3 55.8,303.7 55.9,303.1 54.0,304.6 55.2,302.9 56.5,301.1 53.3,304.0 57.6,299.2 56.3,300.0 55.2,300.7 55.2,300.3 54.6,300.5 54.3,300.3 54.6,299.6 55.0,298.8 53.6,299.7 53.4,299.5 53.9,298.5 51.7,300.3 52.5,299.1 50.8,300.3 53.8,297.0 50.9,299.4 51.1,298.8 51.1,298.3 51.7,297.2 50.7,297.8 51.3,296.8 50.4,297.2 52.5,294.8 49.0,297.8 50.5,295.9 50.4,295.6 47.6,297.7 49.5,295.6 50.3,294.4 49.5,294.8 48.4,295.3 49.8,293.6 48.5,294.4 49.1,293.5 46.7,295.2 47.6,294.0 47.3,293.9 47.6,293.2 48.1,292.3 48.5,291.5 45.8,293.5 47.8,291.4 48.6,290.2 46.1,292.0 48.6,289.5 45.4,291.8 44.7,292.0 44.7,291.6 45.9,290.2 43.5,291.8 45.0,290.1 45.4,289.4 45.1,289.2 46.2,287.9 42.5,290.6 43.9,289.1 44.3,288.3 45.2,287.2 44.1,287.7 44.0,287.4 45.1,286.1 43.2,287.3 42.8,287.2 43.0,286.6 43.3,286.0 43.0,285.8 44.6,284.2 41.9,285.9 42.6,285.0 44.0,283.5 41.1,285.4 43.9,282.8 43.6,282.7 39.9,285.1 41.8,283.3 41.6,283.0 40.8,283.3 42.2,281.9 39.5,283.5 43.3,280.3 39.0,283.1 39.6,282.3 39.1,282.3 40.5,280.9 39.0,281.6 39.0,281.2 38.1,281.5 37.8,281.3 38.1,280.7 39.2,279.6 39.2,279.2 39.5,278.6 38.5,278.9 41.4,276.5 38.1,278.4 38.2,278.0 39.5,276.8 36.3,278.6 37.9,277.1 38.9,276.1 36.2,277.6 37.6,276.3 36.6,276.6 37.5,275.6 39.5,273.9 35.7,276.1 37.7,274.4 37.0,274.5 34.0,276.1 36.5,274.1 35.4,274.5 36.6,273.3 34.9,274.1 34.9,273.7 33.3,274.3 33.9,273.6 35.3,272.4 34.4,272.6 33.5,272.7 35.1,271.4 33.4,272.1 32.4,272.4 34.4,270.8 32.4,271.7 32.3,271.3 33.3,270.4 32.2,270.7 32.0,270.5 32.0,270.1 33.9,268.6 33.0,268.8 32.6,268.7 29.9,269.9 30.9,269.0 33.3,267.2 30.6,268.4 31.9,267.3 32.6,266.6 30.5,267.5 30.2,267.3 31.8,266.0 29.6,266.9 28.3,267.3 32.4,264.6 27.5,267.0 29.5,265.6 28.9,265.5 29.5,264.8 29.5,264.5 28.0,265.0 27.1,265.1 27.8,264.4 28.4,263.7 27.5,263.9 28.9,262.8 29.0,262.4 26.9,263.2 28.1,262.2 27.7,262.0 26.2,262.5 25.7,262.4 26.3,261.8 27.5,260.8 25.6,261.4 24.9,261.4 26.7,260.2 24.6,260.9 26.4,259.7 26.3,259.4 24.9,259.7 26.3,258.7 27.0,258.0 24.6,258.8 22.7,259.4 22.8,259.0 22.1,259.0 24.0,257.7" fill="none" stroke="#ECBCDF" stroke-width="1.3" stroke-linejoin="round"/>
<polyline points="95.3,309.1 95.2,308.7 93.6,310.9 95.0,307.9 94.7,308.1 94.2,308.4 94.1,308.0 93.3,308.8 93.8,307.5 93.5,307.3 93.7,306.4 92.1,308.6 92.7,307.1 92.5,306.9 91.0,308.8 92.2,306.3 91.0,307.8 92.1,305.6 90.7,307.2 90.2,307.6 90.8,306.0 91.0,305.2 90.6,305.3 90.1,305.6 90.2,305.0 90.2,304.6 88.2,307.0 88.9,305.5 88.0,306.4 88.5,305.1 88.1,305.2 89.2,303.1 86.8,306.2 87.5,304.7 87.9,303.6 86.5,305.1 86.7,304.3 87.0,303.4 87.0,303.0 86.4,303.3 86.3,303.0 85.6,303.5 85.9,302.6 85.6,302.6 83.7,304.9 85.3,302.1 84.6,302.6 83.8,303.2 84.0,302.5 82.4,304.2 83.5,302.3 82.7,302.9 82.8,302.3 82.1,302.8 83.2,300.9 82.8,300.9 82.8,300.5 82.3,300.7 80.7,302.4 81.3,301.2 81.2,300.8 80.7,301.1 80.1,301.4 81.1,299.6 80.4,300.1 78.7,301.8 80.6,298.9 80.4,298.7 78.7,300.4 77.6,301.4 77.2,301.4 78.9,298.8 79.0,298.2 78.7,298.2 79.4,297.0 79.9,295.9 78.0,297.8 77.8,297.6 77.1,298.0 77.2,297.5 76.9,297.4 76.1,297.9 77.7,295.6 76.6,296.5 75.0,297.9 74.8,297.8 74.1,298.1 75.7,295.8 75.5,295.7 75.4,295.4 76.7,293.5 73.6,296.7 73.8,296.0 73.3,296.2 74.3,294.6 73.2,295.4 73.4,294.7 73.9,293.8 71.6,296.0 72.3,294.8 72.1,294.6 73.3,292.8 71.5,294.5 72.7,292.7 71.7,293.4 71.9,292.7 71.6,292.7 72.3,291.6 72.0,291.5 70.6,292.6 70.5,292.2 71.4,290.9 72.1,289.7 70.4,291.1 70.8,290.3 69.8,291.0 69.4,291.0 68.8,291.3 69.0,290.6 69.7,289.6 68.8,290.0 68.5,290.0 69.5,288.6 68.4,289.3 68.3,289.1 69.1,287.8 66.8,289.8 67.1,289.1 66.9,288.9 68.4,286.9 67.1,288.0 67.7,286.9 67.1,287.2 66.6,287.3 65.5,288.0 65.8,287.3 68.7,284.1 65.4,286.9 66.4,285.5 65.1,286.4 65.6,285.6 64.9,285.8 65.0,285.4 63.9,286.0 64.4,285.2 65.3,284.0 64.8,284.1 64.3,284.2 63.5,284.6 63.5,284.2 64.7,282.7 64.8,282.3 62.8,283.7 63.4,282.8 62.6,283.2 63.6,281.9 61.7,283.3 61.7,282.8 60.2,283.8 62.4,281.5 61.3,282.2 62.7,280.5 59.8,282.7 61.6,280.8 60.3,281.6 60.9,280.6 59.5,281.5 60.7,280.2 61.1,279.4 60.8,279.3 59.8,279.9 59.5,279.7 57.9,280.8 58.8,279.6 58.1,279.8 59.2,278.6 57.6,279.5 58.7,278.3 59.1,277.6 58.7,277.6 59.7,276.4 59.2,276.5 55.8,278.9 58.0,276.8 56.9,277.3 59.3,275.0 57.6,276.0 56.5,276.5 56.8,276.0 56.2,276.1 57.9,274.4 55.4,276.0 58.1,273.5 58.0,273.3 56.4,274.2 56.4,273.8 56.5,273.5 58.4,271.6 56.6,272.7 55.5,273.2 57.1,271.6 55.5,272.5 54.3,273.1 57.3,270.5 56.5,270.8 54.5,271.9 52.5,273.1 54.1,271.5 52.4,272.5 54.9,270.2 55.5,269.5 53.5,270.6 54.5,269.6 51.7,271.3 52.7,270.2 53.4,269.3 52.6,269.6 52.4,269.4 51.4,269.8 51.2,269.6 52.9,268.1 51.8,268.5 52.4,267.7 49.8,269.2 51.8,267.6 52.1,267.0 51.0,267.4 49.9,267.8 51.9,266.2 50.4,266.8 49.9,266.9 49.3,267.0 48.4,267.2 48.2,267.0 48.6,266.4 49.6,265.4 51.3,264.0 47.7,266.0 49.4,264.6 49.1,264.4 47.9,264.9 50.9,262.6 49.3,263.3 49.3,263.0 47.0,264.2 47.9,263.3 48.1,262.8 48.5,262.3 48.1,262.2 47.5,262.3 48.3,261.5 49.3,260.5 47.9,261.1 48.0,260.7 46.5,261.3 45.6,261.5 46.9,260.4 48.5,259.1 47.0,259.7 47.4,259.2 45.7,259.9 46.9,258.8 44.9,259.7 45.7,258.9 46.5,258.1 45.8,258.2 47.5,256.9 45.8,257.6 44.1,258.2 45.6,257.1 45.0,257.2 45.7,256.4 45.8,256.1 46.4,255.4 45.1,255.8 43.6,256.3 45.6,254.9 45.2,254.9 45.1,254.6 44.7,254.5 44.7,254.2 44.5,254.0 43.7,254.2 45.5,252.9 45.6,252.5 44.6,252.7 43.7,252.9 45.3,251.8 43.6,252.4 44.3,251.7 44.2,251.4 43.8,251.3 44.2,250.9 43.7,250.8 43.2,250.8 43.5,250.3 41.6,251.0 41.3,250.8 43.2,249.6 42.2,249.8 42.0,249.6 40.9,249.8 40.7,249.6" fill="none" stroke="#E2281E" stroke-width="2.0" stroke-linejoin="round"/>
<path d="M113.79,278.69A104.4,104.4 0 0 1 72.13,233.67L82.67,228.60A92.7,92.7 0 0 0 119.67,268.58Z" fill="#B3D2EC"/>
<path d="M12.74,243.35A163,163 0 0 1 5.66,160.18L17.38,162.24A151.1,151.1 0 0 0 23.94,239.34Z" fill="#fff"/>
<path d="M29.31,237.41A145.4,145.4 0 0 1 23.00,163.23L35.01,165.34A133.2,133.2 0 0 0 40.80,233.30Z" fill="#fff"/>
<polyline points="17.8,240.7 16.3,240.9 14.5,241.2 18.1,239.6 16.5,239.8 17.2,239.2 16.9,239.0 16.7,238.8 13.8,239.4 16.1,238.3 15.9,238.1 16.7,237.5 16.6,237.2 12.3,238.3 13.1,237.7 15.7,236.5 16.1,236.1 14.0,236.4 14.9,235.8 14.8,235.5 14.0,235.4 16.8,234.2 13.7,234.9 12.8,234.8 15.6,233.7 14.7,233.6 15.0,233.2 14.6,233.0 12.5,233.3 12.7,232.9 13.7,232.3 15.5,231.5 13.3,231.8 13.0,231.5 13.9,231.0 11.5,231.3 14.6,230.1 14.5,229.8 14.9,229.4 15.3,229.0 15.8,228.6 13.2,228.9 13.9,228.4 12.7,228.4 13.5,227.9 10.8,228.3 12.9,227.4 11.6,227.4 11.6,227.1 13.4,226.3 13.5,226.0 12.6,225.9 12.4,225.6 14.3,224.9 13.0,224.9 13.7,224.4 13.5,224.1 13.6,223.8 11.8,223.9 11.8,223.6 13.2,222.9 13.4,222.6 10.9,222.8 12.5,222.1 11.6,222.0 11.5,221.7 12.1,221.3 10.8,221.3 10.7,221.0 12.9,220.2 12.0,220.1 11.6,219.8 14.3,219.0 12.0,219.1 11.1,219.0 10.3,218.8 11.3,218.3 10.1,218.3 11.7,217.6 11.0,217.4 12.9,216.8 10.3,217.0 12.1,216.3 12.7,215.9 11.1,215.9 9.8,215.8 11.7,215.1 9.6,215.2 11.4,214.6 12.8,214.0 12.5,213.8 10.3,213.8 13.2,213.1 9.2,213.4 12.7,212.5 10.6,212.5 9.3,212.4 10.3,212.0 11.8,211.4 11.8,211.1 11.7,210.8 9.3,210.9 8.9,210.6 9.5,210.2 9.3,209.9 9.1,209.7 9.7,209.3 10.3,208.9 10.2,208.6 9.7,208.3 10.0,208.0 11.9,207.4 8.9,207.5 9.6,207.1 9.5,206.8 10.4,206.4 9.2,206.2 9.3,205.9 10.3,205.5 10.7,205.1 8.0,205.1 9.5,204.7 9.0,204.4 8.4,204.1 10.5,203.6 10.2,203.4 8.0,203.3 9.5,202.8 8.4,202.6 9.2,202.2 8.7,202.0 8.6,201.7 9.3,201.3 10.3,200.9 8.1,200.8 9.3,200.4 9.5,200.1 9.2,199.8 10.5,199.4 8.7,199.2 10.6,198.8 10.0,198.5 9.1,198.2 8.8,197.9 9.9,197.6 7.5,197.4 7.8,197.1 9.1,196.7 7.9,196.5 9.3,196.1 8.4,195.8 9.8,195.5 9.0,195.2 8.3,194.9 5.8,194.7 8.8,194.3 8.0,194.0 9.4,193.6 6.3,193.4 6.5,193.1 8.1,192.8 7.4,192.5 6.6,192.2 6.6,191.9 9.3,191.5 7.4,191.2 7.7,190.9 7.0,190.6 9.7,190.3 8.9,190.0 8.8,189.7 5.0,189.4 8.1,189.1 7.4,188.8 8.1,188.5 9.4,188.1 7.9,187.8 7.6,187.5 8.4,187.2 5.9,186.9 9.3,186.6 8.4,186.3 6.2,186.0 7.4,185.7 6.6,185.4 5.3,185.0 4.5,184.7 5.0,184.4 6.3,184.1 7.2,183.8 7.1,183.5 7.0,183.2 7.2,182.9 7.4,182.6 6.9,182.3 5.8,181.9 8.0,181.7 6.2,181.3 7.4,181.0 6.9,180.7 4.8,180.3 6.0,180.0 8.1,179.8 7.4,179.5 5.3,179.1 5.4,178.8 4.8,178.4 8.1,178.3 8.6,178.0 8.2,177.7 7.8,177.4 7.7,177.0 6.4,176.6 10.2,176.6 9.1,176.2 8.2,175.8 7.1,175.4 8.8,175.3 6.3,174.7 8.4,174.6 10.2,174.5 7.2,173.9 7.9,173.6 8.7,173.4 7.0,172.9 8.5,172.8 8.0,172.4 7.1,172.0 7.4,171.7 6.4,171.3 7.2,171.1 10.2,171.1 7.5,170.5 8.8,170.3 10.3,170.2 7.7,169.6 9.2,169.4 9.0,169.1 9.0,168.8 8.5,168.4 13.0,168.7 11.2,168.1 9.9,167.7 9.3,167.3 10.4,167.1 10.6,166.8 10.4,166.5 9.0,166.0 11.8,166.1 8.9,165.4 12.4,165.6 10.1,164.9 10.8,164.7 6.8,163.8 12.0,164.3 7.9,163.3 9.0,163.2 11.6,163.3 8.6,162.5 10.6,162.5 10.5,162.2 9.7,161.7" fill="none" stroke="#ECBCDF" stroke-width="1.3" stroke-linejoin="round"/>
<polyline points="33.9,235.0 37.2,233.5 35.3,233.9 35.5,233.6 37.1,232.7 34.1,233.5 34.3,233.1 34.2,232.9 35.6,232.1 32.8,232.8 32.0,232.8 34.2,231.7 32.6,232.0 34.0,231.2 33.5,231.1 33.4,230.8 31.7,231.1 31.9,230.8 35.7,229.3 32.7,229.9 33.1,229.5 31.0,229.9 32.1,229.3 33.0,228.7 32.2,228.7 31.8,228.5 34.0,227.6 30.7,228.3 32.2,227.5 33.9,226.8 29.1,227.9 32.4,226.6 31.1,226.7 31.5,226.3 32.9,225.7 32.7,225.4 31.0,225.6 32.8,224.8 29.0,225.6 32.8,224.3 31.2,224.4 29.3,224.7 28.7,224.5 30.8,223.7 31.9,223.1 28.6,223.7 30.9,222.8 29.2,223.0 30.9,222.3 30.2,222.2 28.7,222.3 29.7,221.7 28.0,221.9 27.6,221.7 28.0,221.3 30.6,220.4 28.1,220.7 28.3,220.4 26.5,220.5 30.6,219.3 29.2,219.3 27.8,219.3 27.8,219.1 29.5,218.4 27.8,218.5 29.7,217.8 28.5,217.8 29.5,217.3 27.9,217.4 28.9,216.9 27.7,216.8 28.6,216.4 27.3,216.4 28.2,215.9 26.8,215.9 28.9,215.2 26.7,215.3 30.6,214.3 28.8,214.4 28.2,214.2 27.9,214.0 29.2,213.5 28.2,213.4 27.6,213.2 28.0,212.9 27.9,212.6 27.0,212.5 28.5,212.0 25.4,212.2 25.0,212.0 26.9,211.4 25.0,211.4 27.5,210.8 26.9,210.6 26.1,210.4 28.5,209.8 27.6,209.6 26.6,209.5 26.2,209.3 27.6,208.8 26.9,208.6 25.9,208.5 24.1,208.5 27.6,207.7 26.5,207.6 25.7,207.4 26.5,207.0 28.0,206.6 27.2,206.4 25.9,206.3 28.0,205.7 28.7,205.4 27.9,205.2 27.4,205.0 29.2,204.5 26.1,204.6 28.7,204.0 26.8,204.0 28.2,203.5 26.8,203.4 26.4,203.2 27.6,202.8 26.8,202.6 26.3,202.4 28.0,201.9 27.9,201.7 28.2,201.4 27.8,201.1 27.2,200.9 26.9,200.7 27.2,200.4 26.0,200.2 24.3,200.1 26.2,199.6 27.6,199.2 27.1,199.0 24.2,199.0 24.3,198.7 24.7,198.4 27.7,197.9 26.6,197.7 26.4,197.4 26.6,197.1 26.9,196.9 27.5,196.5 24.3,196.5 27.3,196.0 26.7,195.8 27.5,195.5 26.7,195.2 24.9,195.0 28.3,194.6 26.2,194.4 27.7,194.1 27.5,193.8 28.0,193.6 26.2,193.4 26.4,193.1 28.6,192.7 25.1,192.6 25.2,192.3 26.0,192.0 25.0,191.7 24.0,191.5 26.7,191.2 28.1,190.9 26.8,190.6 26.8,190.3 25.6,190.1 25.1,189.8 25.1,189.5 25.5,189.3 25.6,189.0 26.3,188.7 25.1,188.4 25.3,188.2 24.9,187.9 26.5,187.6 24.6,187.3 27.9,187.1 24.0,186.8 27.7,186.6 26.2,186.3 24.2,186.0 26.5,185.7 26.9,185.5 25.1,185.2 24.0,184.9 26.3,184.6 25.7,184.4 24.1,184.0 24.7,183.8 24.3,183.5 25.7,183.3 25.4,183.0 26.1,182.7 26.5,182.5 28.0,182.3 25.6,181.9 27.6,181.7 26.5,181.4 24.7,181.0 24.2,180.7 27.2,180.6 28.0,180.4 25.3,179.9 28.8,179.9 27.2,179.5 27.0,179.2 28.6,179.1 25.2,178.6 26.1,178.4 26.0,178.1 25.6,177.8 27.0,177.6 26.1,177.3 27.0,177.1 25.7,176.7 28.1,176.6 27.0,176.2 26.6,175.9 28.4,175.8 26.8,175.4 27.0,175.2 28.0,175.0 26.5,174.6 27.2,174.3 26.5,174.0 26.4,173.7 25.7,173.4 27.2,173.3 26.6,172.9 25.3,172.5 26.6,172.4 24.5,171.8 23.8,171.5 27.1,171.6 24.8,171.0 25.5,170.9 24.4,170.4 26.2,170.4 26.4,170.1 24.7,169.6 25.5,169.5 27.5,169.5 26.9,169.1 26.7,168.8 26.4,168.5 26.1,168.2 26.6,168.0 27.3,167.8 27.7,167.6 28.6,167.4 25.0,166.6 25.3,166.4 28.3,166.6 26.2,165.9 28.9,166.1 27.1,165.5 26.5,165.2 29.1,165.3 29.1,165.0" fill="none" stroke="#E2281E" stroke-width="2.0" stroke-linejoin="round"/>
<path d="M67.91,223.59A104.4,104.4 0 0 1 63.38,170.32L74.90,172.35A92.7,92.7 0 0 0 78.93,219.65Z" fill="#B3D2EC"/>
<path d="M9.57,143.28A163,163 0 0 1 46.80,77.44L55.51,85.54A151.1,151.1 0 0 0 21.00,146.57Z" fill="#fff"/>
<path d="M26.48,148.15A145.4,145.4 0 0 1 59.69,89.42L68.63,97.73A133.2,133.2 0 0 0 38.20,151.53Z" fill="#fff"/>
<polyline points="15.2,144.0 15.7,143.9 16.4,143.8 15.4,143.2 16.0,143.0 15.3,142.5 15.6,142.2 15.5,141.9 16.1,141.8 16.7,141.6 16.2,141.1 15.8,140.7 17.5,140.9 16.7,140.4 18.7,140.7 15.4,139.3 16.5,139.3 18.1,139.5 15.8,138.4 19.0,139.2 17.0,138.2 15.0,137.2 18.9,138.2 15.9,136.8 16.9,136.9 16.8,136.5 16.0,135.9 15.6,135.4 18.0,136.0 18.3,135.8 17.1,135.0 17.7,134.9 14.3,133.3 17.9,134.3 16.3,133.4 18.2,133.8 17.3,133.1 16.3,132.4 15.9,131.9 18.7,132.7 19.0,132.4 18.0,131.7 20.0,132.2 19.0,131.5 19.7,131.4 18.0,130.4 20.3,131.0 18.0,129.7 17.7,129.3 19.0,129.5 19.3,129.3 19.6,129.1 19.7,128.8 19.5,128.3 21.8,129.0 20.7,128.2 23.5,129.0 20.2,127.3 18.2,126.2 22.2,127.5 21.5,126.9 20.1,125.9 20.8,125.9 22.2,126.2 21.9,125.7 21.3,125.1 23.0,125.5 24.3,125.8 22.6,124.7 20.9,123.6 23.6,124.5 22.4,123.6 22.4,123.3 25.5,124.3 26.1,124.3 24.4,123.1 23.7,122.5 22.5,121.6 25.4,122.6 23.8,121.6 24.2,121.4 23.8,120.9 24.2,120.7 24.6,120.6 25.3,120.6 25.0,120.1 23.9,119.2 27.4,120.6 26.1,119.6 23.9,118.2 22.7,117.3 24.0,117.5 24.0,117.2 24.1,116.9 24.6,116.8 26.9,117.6 25.9,116.8 26.3,116.7 25.3,115.8 26.5,116.1 27.4,116.2 27.5,115.9 26.0,114.8 26.4,114.6 25.3,113.7 27.2,114.4 24.7,112.7 27.6,113.9 29.2,114.4 27.2,113.0 28.6,113.4 27.4,112.4 27.8,112.2 27.5,111.7 29.1,112.3 29.3,112.0 26.9,110.3 31.0,112.3 30.5,111.7 30.7,111.4 28.7,109.9 27.8,109.1 28.3,109.0 29.7,109.5 31.8,110.3 32.1,110.1 29.5,108.3 31.9,109.3 29.7,107.7 28.7,106.7 30.4,107.4 30.3,107.0 31.7,107.5 32.3,107.5 32.9,107.5 33.2,107.3 32.4,106.5 30.0,104.6 33.3,106.3 32.0,105.2 32.6,105.1 33.8,105.6 33.4,104.9 32.5,104.0 31.8,103.2 32.8,103.5 34.8,104.4 35.1,104.2 33.8,103.0 33.6,102.5 34.4,102.7 34.6,102.5 33.2,101.2 35.3,102.2 33.8,100.8 32.1,99.3 36.5,101.9 33.6,99.5 35.5,100.5 34.4,99.4 37.4,101.0 37.5,100.7 37.8,100.6 37.0,99.6 38.5,100.3 37.9,99.5 36.2,98.0 38.6,99.3 37.7,98.3 37.5,97.8 37.0,97.0 37.1,96.8 38.0,97.0 39.1,97.4 38.7,96.8 37.3,95.3 36.7,94.5 39.4,96.1 39.4,95.8 38.4,94.7 38.4,94.2 39.2,94.5 39.3,94.1 39.1,93.6 39.1,93.3 40.0,93.5 41.3,94.1 40.9,93.5 42.2,94.1 42.0,93.5 41.0,92.4 40.9,91.9 41.9,92.3 43.0,92.8 42.9,92.3 41.7,90.9 40.3,89.5 42.1,90.5 42.1,90.1 41.3,89.1 41.1,88.5 40.9,88.0 42.3,88.7 40.7,87.0 44.5,89.7 43.0,88.1 46.6,90.7 44.1,88.2 41.9,86.0 45.7,88.7 45.1,87.8 45.6,87.9 46.0,87.8 47.3,88.5 46.7,87.6 44.4,85.2 46.1,86.3 46.6,86.3 45.7,85.1 45.3,84.4 47.4,85.8 47.4,85.4 48.3,85.8 47.3,84.5 47.5,84.3 47.5,83.9 48.2,84.1 48.3,83.7 49.1,84.0 50.5,84.8 50.0,84.0 50.3,83.9 47.9,81.3 49.5,82.3 50.2,82.6 50.5,82.4 49.2,80.9" fill="none" stroke="#ECBCDF" stroke-width="1.3" stroke-linejoin="round"/>
<polyline points="32.6,149.2 31.9,148.7 32.6,148.6 30.0,147.5 33.7,148.4 31.9,147.5 33.6,147.8 32.0,147.0 32.1,146.7 34.7,147.3 32.6,146.3 33.6,146.4 31.9,145.5 33.1,145.6 32.0,145.0 32.2,144.8 34.3,145.2 34.1,144.8 32.3,143.9 33.0,143.9 32.4,143.4 34.7,143.9 32.5,142.8 35.0,143.4 33.8,142.7 35.1,142.9 33.1,141.9 35.5,142.5 34.6,141.9 34.0,141.4 36.4,141.9 33.4,140.5 35.0,140.8 35.3,140.7 37.0,141.0 34.2,139.7 35.2,139.8 34.2,139.1 37.0,139.9 36.0,139.2 35.3,138.6 34.9,138.2 34.8,137.9 35.8,138.0 36.1,137.8 35.4,137.2 36.4,137.3 33.7,135.9 35.5,136.4 33.8,135.4 36.0,136.0 34.7,135.2 36.8,135.7 37.4,135.7 36.8,135.2 36.0,134.5 38.2,135.1 38.9,135.1 37.0,134.0 38.6,134.4 38.1,133.9 35.1,132.3 37.7,133.2 37.0,132.6 36.2,131.9 38.5,132.6 37.2,131.8 36.0,130.9 38.9,131.9 37.8,131.1 37.3,130.6 39.0,131.1 37.6,130.1 38.1,130.0 37.7,129.6 37.8,129.3 39.8,129.9 40.0,129.8 41.0,129.9 38.7,128.5 39.5,128.6 38.1,127.6 39.1,127.8 39.0,127.5 39.2,127.3 40.6,127.7 40.5,127.3 39.0,126.2 42.3,127.6 38.5,125.4 42.0,126.8 40.1,125.6 40.7,125.6 40.6,125.2 40.4,124.8 42.6,125.6 39.5,123.7 42.5,124.9 39.9,123.3 41.0,123.6 39.7,122.6 43.7,124.4 41.2,122.7 42.1,122.9 41.1,122.1 42.6,122.6 43.9,123.0 44.6,123.0 43.7,122.2 43.7,121.9 43.2,121.3 42.1,120.4 43.6,120.9 43.9,120.8 43.0,120.0 44.0,120.3 43.5,119.6 43.5,119.3 44.0,119.3 44.2,119.1 45.8,119.7 44.6,118.7 45.2,118.8 42.8,117.0 45.0,118.0 45.1,117.7 44.5,117.1 46.5,117.9 46.8,117.8 45.7,116.8 45.5,116.4 47.3,117.1 44.7,115.3 44.7,115.0 43.7,114.0 47.4,116.0 44.5,113.9 45.0,113.8 47.2,114.9 46.4,114.1 47.5,114.4 46.3,113.4 48.4,114.3 48.1,113.8 48.6,113.8 48.3,113.3 47.7,112.6 47.8,112.4 49.2,112.9 47.9,111.8 49.3,112.4 48.6,111.6 49.6,111.9 48.1,110.6 47.8,110.1 49.6,110.9 49.7,110.7 49.2,110.0 52.1,111.7 51.0,110.6 51.4,110.5 50.4,109.5 50.5,109.3 50.6,109.0 48.6,107.3 48.9,107.2 50.7,108.1 52.6,109.0 50.8,107.5 51.5,107.6 52.0,107.7 51.4,106.9 51.1,106.3 51.4,106.2 51.4,105.9 52.0,106.0 51.2,105.1 51.5,105.0 53.0,105.7 52.8,105.2 54.5,106.1 52.8,104.6 52.6,104.0 54.4,105.0 54.5,104.8 53.7,103.9 54.3,104.0 55.1,104.2 56.5,105.0 56.7,104.8 56.5,104.3 55.0,102.7 56.1,103.3 55.1,102.2 55.1,101.8 54.3,100.8 56.0,101.8 57.0,102.3 55.7,100.9 56.9,101.5 55.4,99.9 56.5,100.5 58.5,101.8 57.7,100.7 57.8,100.5 58.4,100.6 58.1,100.0 57.1,98.8 57.8,99.1 56.2,97.4 59.2,99.5 57.5,97.8 58.6,98.3 56.8,96.5 60.2,98.9 60.7,99.0 59.8,97.9 58.7,96.7 58.9,96.4 58.7,95.9 60.4,97.0 60.0,96.3 61.5,97.2 59.1,94.8 61.3,96.3 60.7,95.4 60.3,94.8 59.7,93.8 61.6,95.1 62.0,95.1 62.6,95.3 61.4,93.9 62.6,94.6 61.9,93.6 62.7,94.0 63.2,94.1 64.1,94.5" fill="none" stroke="#E2281E" stroke-width="2.0" stroke-linejoin="round"/>
<path d="M65.88,159.50A104.4,104.4 0 0 1 89.72,117.33L98.29,125.30A92.7,92.7 0 0 0 77.12,162.74Z" fill="#B3D2EC"/>
<path d="M59.05,65.57A163,163 0 0 1 115.15,33.60L118.88,44.90A151.1,151.1 0 0 0 66.87,74.54Z" fill="#fff"/>
<path d="M70.62,78.83A145.4,145.4 0 0 1 120.67,50.31L124.49,61.90A133.2,133.2 0 0 0 78.64,88.03Z" fill="#fff"/>
<polyline points="63.2,69.1 63.6,69.0 63.2,68.1 63.0,67.5 63.7,67.8 64.0,67.7 64.3,67.6 63.7,66.3 64.4,66.7 65.9,68.1 64.7,66.1 65.0,65.9 67.3,68.3 66.0,66.2 64.7,64.1 66.9,66.3 66.1,64.8 65.8,64.1 65.6,63.2 68.0,65.7 67.1,64.1 67.3,64.0 65.9,61.6 66.7,62.1 68.4,63.8 68.1,62.9 69.1,63.7 69.6,63.9 68.5,61.9 69.4,62.6 69.0,61.6 70.5,63.1 68.5,59.9 70.7,62.3 71.5,62.8 70.6,61.2 72.9,63.7 72.5,62.6 72.8,62.5 72.7,61.9 72.9,61.6 72.3,60.3 74.2,62.4 74.2,61.9 73.1,59.8 74.4,61.1 75.4,62.0 74.4,60.0 76.3,62.2 75.3,60.3 74.7,58.9 75.0,58.7 76.1,59.8 75.5,58.4 75.5,57.9 77.4,60.1 76.8,58.7 76.3,57.4 76.7,57.5 78.2,59.1 78.5,59.0 78.2,58.0 77.8,56.9 79.0,58.2 78.8,57.3 78.1,55.6 79.5,57.2 80.0,57.5 79.6,56.3 80.9,57.7 81.0,57.3 80.3,55.7 81.5,56.9 80.8,55.2 81.5,55.8 80.2,53.3 81.9,55.3 82.7,55.9 81.4,53.4 82.6,54.7 81.1,51.7 82.6,53.4 82.3,52.4 83.0,53.0 83.2,52.8 83.6,52.7 83.3,51.8 83.9,52.2 85.2,53.6 85.1,52.9 84.0,50.4 85.5,52.4 85.4,51.6 86.1,52.2 86.0,51.3 86.5,51.6 85.6,49.4 87.4,52.0 86.4,49.6 87.8,51.4 86.9,49.3 88.1,50.6 86.6,47.5 87.4,48.2 88.5,49.6 89.2,50.1 89.7,50.5 90.7,51.6 90.2,50.0 90.6,50.3 91.2,50.6 90.1,47.9 91.9,50.6 92.6,51.2 91.7,49.0 92.3,49.5 91.8,47.9 93.0,49.4 91.7,46.3 91.9,46.1 94.0,49.4 94.1,48.9 94.5,49.0 95.2,49.8 93.8,46.3 94.5,47.0 95.5,48.3 95.2,47.1 95.7,47.3 95.2,45.6 96.4,47.4 96.1,46.1 97.3,47.9 97.4,47.4 97.2,46.3 97.5,46.1 97.6,45.6 98.3,46.4 99.1,47.3 97.6,43.4 98.6,44.9 99.4,45.8 99.6,45.6 99.3,44.3 100.5,46.1 101.1,46.6 100.4,44.5 101.5,46.1 101.2,44.8 100.7,42.7 101.1,42.9 101.8,43.8 102.2,43.9 102.8,44.5 102.0,41.8 103.0,43.5 104.3,45.6 104.0,44.2 104.4,44.4 104.5,43.9 103.8,41.5 103.7,40.4 105.3,43.3 105.2,42.2 105.2,41.5 104.9,40.0 105.5,40.5 106.6,42.4 106.8,42.2 106.6,40.9 106.6,40.2 107.5,41.5 107.3,40.2 108.5,42.4 107.8,39.6 107.6,38.4 108.4,39.5 108.5,39.0 108.9,39.0 109.4,39.6 109.7,39.4 109.2,37.3 110.4,39.5 111.1,40.5 111.4,40.4 112.0,41.1 112.0,40.3 112.0,39.5 112.6,40.2 113.2,41.1 113.5,40.9 113.4,39.6 114.4,41.7 114.0,39.7 114.2,39.3 114.4,38.9 115.3,40.5 115.4,39.8 115.2,38.4 115.2,37.4 116.2,39.4" fill="none" stroke="#ECBCDF" stroke-width="1.3" stroke-linejoin="round"/>
<polyline points="75.7,83.5 74.5,81.7 75.9,83.0 74.9,81.4 75.7,81.9 75.9,81.7 77.4,83.0 75.6,80.5 76.5,81.1 76.2,80.4 77.7,81.8 77.3,80.8 78.1,81.3 77.1,79.8 75.4,77.3 77.8,79.7 77.9,79.5 77.5,78.5 78.2,78.9 77.0,77.0 79.2,79.3 77.8,77.2 77.7,76.5 78.2,76.7 79.8,78.3 79.2,77.1 80.3,78.1 79.8,77.0 79.3,76.0 79.7,76.0 80.9,77.1 82.0,78.1 80.8,76.0 81.7,76.7 82.0,76.8 82.0,76.3 82.7,76.8 81.9,75.3 81.0,73.5 83.2,76.1 83.6,76.1 83.1,75.0 83.9,75.6 83.8,75.0 83.8,74.6 85.0,75.8 84.3,74.3 84.5,74.1 84.8,74.1 84.9,73.8 85.6,74.3 84.5,72.2 84.8,72.3 84.4,71.2 84.7,71.1 86.7,73.5 86.3,72.5 87.0,73.1 87.3,72.9 87.6,72.9 85.5,69.3 87.3,71.4 86.3,69.4 88.8,72.8 88.6,71.9 87.6,69.9 89.3,72.0 88.9,71.0 88.9,70.4 88.3,69.0 88.3,68.5 88.9,69.0 90.5,70.9 89.5,68.8 91.0,70.6 90.9,69.9 91.0,69.7 91.7,70.3 93.1,72.0 92.8,70.9 92.0,69.2 91.9,68.5 93.3,70.2 91.6,67.0 93.4,69.5 93.3,68.7 92.6,67.1 94.2,69.2 92.7,66.1 93.8,67.4 93.7,66.7 95.2,68.7 95.6,68.8 94.8,67.0 94.5,65.8 95.5,67.0 95.4,66.3 94.7,64.6 96.0,66.3 95.5,64.9 96.0,65.2 96.9,66.3 96.0,64.1 96.5,64.4 97.5,65.6 97.8,65.5 98.7,66.6 98.4,65.6 97.9,64.1 99.5,66.5 98.5,64.0 98.3,63.2 99.7,65.0 100.4,65.8 98.9,62.5 99.6,63.1 100.6,64.4 99.6,62.1 100.4,62.9 102.2,65.7 100.3,61.5 101.0,62.2 101.4,62.5 102.1,63.3 102.1,62.7 101.9,61.6 102.1,61.5 102.1,60.7 103.2,62.4 103.8,62.9 104.2,63.1 104.2,62.6 103.8,61.0 104.1,61.0 105.0,62.4 105.7,63.0 105.4,61.9 105.9,62.3 106.0,61.9 106.5,62.3 106.9,62.6 106.1,60.3 106.8,61.1 107.5,62.0 107.8,61.8 107.6,60.8 108.1,61.3 108.3,61.0 108.8,61.4 108.4,60.0 109.3,61.2 109.7,61.4 108.8,58.7 109.4,59.4 109.9,59.9 110.1,59.8 110.7,60.4 110.9,60.1 110.2,58.0 111.1,59.3 112.0,60.8 111.5,58.8 111.9,59.1 112.5,59.8 112.1,58.0 113.8,61.6 112.8,58.3 113.5,59.5 112.9,57.2 113.5,58.1 112.9,55.8 114.6,59.1 114.8,58.9 114.9,58.6 114.8,57.5 115.1,57.5 115.3,57.3 114.8,55.2 115.6,56.4 116.7,58.8 115.2,54.0 116.2,55.8 116.9,56.8 117.2,56.8 117.2,56.1 116.9,54.5 116.6,53.0 118.1,56.3 118.5,56.6 118.5,55.8 119.3,57.2 119.4,56.5 119.2,55.1 119.1,54.1 120.0,56.0 119.8,54.4 120.4,55.5 120.7,55.3 121.1,55.8 121.9,57.3 121.1,54.0" fill="none" stroke="#E2281E" stroke-width="2.0" stroke-linejoin="round"/>
<path d="M97.57,109.73A104.4,104.4 0 0 1 133.51,89.25L137.17,100.36A92.7,92.7 0 0 0 105.26,118.54Z" fill="#B3D2EC"/>
<path d="M131.48,29.14A163,163 0 0 1 226.05,36.78L221.68,47.85A151.1,151.1 0 0 0 134.01,40.77Z" fill="#fff"/>
<path d="M135.23,46.34A145.4,145.4 0 0 1 219.58,53.15L215.10,64.50A133.2,133.2 0 0 0 137.82,58.26Z" fill="#fff"/>
<polyline points="133.3,33.8 133.2,31.8 133.4,30.9 134.1,32.8 134.3,32.4 135.2,35.1 134.4,29.9 135.8,35.0 135.8,33.8 136.4,34.9 136.8,35.4 136.6,32.6 136.6,31.4 137.1,32.5 137.7,33.9 138.0,34.0 138.1,32.5 138.2,31.3 138.8,33.1 138.7,30.9 139.8,35.3 139.6,32.4 139.8,31.8 140.2,32.2 140.3,30.7 140.9,32.8 141.0,31.2 141.4,31.5 141.5,30.1 142.0,31.7 142.6,33.6 142.7,32.3 143.0,31.8 143.0,29.9 143.1,28.3 143.8,31.1 143.9,29.4 144.1,28.8 144.7,31.2 144.9,30.4 145.4,31.6 145.8,32.1 145.7,29.0 146.3,31.5 146.6,31.0 147.0,31.8 146.9,28.7 147.4,30.2 147.8,31.1 148.2,31.6 148.4,31.1 148.8,31.9 149.1,31.6 149.5,32.3 149.9,33.1 149.9,30.3 150.2,30.0 150.6,31.2 150.9,30.9 151.1,29.6 151.5,31.3 152.1,33.7 152.0,29.7 152.6,32.5 152.6,29.3 153.0,30.7 153.4,31.2 153.8,33.0 154.1,32.0 154.3,31.1 154.5,30.0 154.8,29.6 155.1,29.3 155.5,30.3 155.9,32.0 156.1,30.1 156.6,33.1 156.6,29.5 157.1,31.2 157.3,30.6 157.6,30.4 157.9,29.0 158.2,30.3 158.6,30.6 158.9,30.3 159.2,31.8 159.4,28.9 159.7,29.1 160.0,29.0 160.3,26.7 160.7,30.2 161.0,29.3 161.2,28.0 161.6,29.6 161.9,30.6 162.2,30.1 162.5,28.8 162.8,30.5 163.1,29.9 163.4,28.2 163.8,30.6 164.0,27.1 164.4,28.3 164.6,26.6 165.0,30.7 165.3,28.5 165.6,30.6 165.9,28.6 166.2,29.4 166.5,29.2 166.8,29.6 167.1,29.4 167.5,29.3 167.8,29.9 168.1,28.6 168.4,28.6 168.6,32.4 169.0,29.5 169.3,28.9 169.6,32.3 169.9,29.6 170.2,30.3 170.5,31.0 170.9,28.7 171.2,28.7 171.4,32.3 171.7,31.7 172.2,27.1 172.3,31.4 172.7,30.0 172.9,32.7 173.2,31.6 173.6,31.0 173.7,33.6 174.2,29.9 174.5,30.7 174.8,31.0 175.1,30.3 175.4,31.6 175.7,31.7 176.1,29.4 176.3,31.5 176.7,30.3 177.0,29.7 177.0,34.1 177.4,32.8 177.8,31.1 178.1,31.7 178.4,31.5 178.7,32.2 179.1,30.2 179.3,31.8 179.8,30.2 180.0,31.3 180.2,31.6 180.5,31.7 180.9,31.3 181.0,33.3 181.4,32.8 181.7,32.7 182.0,32.4 182.3,32.8 182.7,31.9 183.0,31.5 183.3,31.8 183.5,32.4 183.8,32.7 183.9,34.5 184.6,31.4 184.9,31.0 185.1,32.5 185.5,31.4 185.6,32.7 185.9,32.8 186.2,32.9 186.4,33.9 186.9,32.6 187.2,32.4 187.3,33.9 187.8,32.8 188.3,31.1 188.3,33.4 189.0,30.6 189.1,32.2 189.0,34.8 189.6,33.2 190.1,31.6 190.4,31.9 190.8,31.6 190.9,33.0 191.1,33.3 191.4,33.4 191.7,33.3 192.5,30.3 192.9,30.0 193.0,31.5 193.3,31.1 193.2,33.8 193.7,32.7 193.9,33.1 194.3,32.9 195.0,30.4 194.9,32.8 195.1,33.6 195.2,34.4 196.0,31.8 196.2,32.5 196.5,32.8 197.0,31.6 197.3,31.8 197.7,31.6 197.3,35.1 198.1,32.5 198.2,33.7 198.6,33.0 199.1,32.1 199.9,30.2 199.8,32.0 199.2,36.1 200.0,34.2 200.1,34.8 200.6,34.1 200.8,34.6 201.0,35.0 201.6,33.7 202.1,33.0 202.1,34.6 202.3,34.8 203.0,33.2 203.0,34.5 203.9,32.4 204.2,32.5 203.9,34.8 204.7,32.8 204.8,33.8 204.3,36.8 205.1,35.0 205.5,34.8 206.0,34.2 205.6,36.6 206.6,34.2 207.1,33.5 206.7,36.2 207.3,35.2 208.1,33.5 208.6,32.8 208.1,35.6 208.2,36.4 209.4,33.4 209.2,35.3 209.5,35.3 209.4,36.8 209.6,37.1 210.3,35.8 210.1,37.8 210.6,37.0 211.8,34.0 212.0,34.3 211.9,36.0 212.3,35.7 212.2,37.0 213.2,35.0 212.9,37.0 214.0,34.5 214.2,34.8 213.8,36.9 213.8,38.2 214.9,35.7 215.1,36.1 214.4,39.1 216.1,35.0 215.8,36.8 215.4,39.2 217.1,34.8 216.1,38.9 215.9,40.3 217.8,35.7 217.5,37.7 217.9,37.3 217.7,38.9 218.4,37.9 217.8,40.6 219.1,37.7 219.0,39.1 219.4,38.8 219.5,39.4 219.8,39.4 220.5,38.3 220.5,39.4 220.4,40.6 220.8,40.4 220.3,42.6 220.4,43.1 222.3,38.9 222.9,38.3 221.1,43.8 222.1,42.0 222.6,41.6 223.3,40.6 223.0,42.3" fill="none" stroke="#ECBCDF" stroke-width="1.3" stroke-linejoin="round"/>
<polyline points="136.8,50.2 137.6,52.6 138.2,53.9 137.8,50.7 138.3,51.8 138.4,51.0 138.7,51.1 138.5,49.0 139.4,52.0 139.6,51.8 139.8,51.1 139.8,49.7 140.6,52.3 140.6,51.2 140.7,50.0 141.0,50.1 141.2,49.7 142.0,52.6 142.3,52.9 142.1,50.0 142.5,51.0 142.9,51.3 143.1,51.4 143.3,50.8 143.7,51.7 143.8,50.3 144.0,50.2 144.7,52.4 144.6,50.3 145.0,50.8 144.9,48.9 145.2,48.6 145.7,50.6 145.9,49.7 146.2,50.2 146.9,52.9 146.8,50.5 147.0,49.7 147.2,49.2 147.4,48.9 147.9,50.4 148.0,49.1 148.2,48.5 148.8,51.0 148.8,48.6 149.2,50.0 149.4,49.3 149.6,49.1 150.1,51.0 150.2,48.8 150.9,53.2 150.8,49.9 150.8,47.3 151.3,49.2 151.1,45.0 151.8,48.5 151.9,47.3 152.4,49.0 152.7,49.7 152.8,48.0 153.2,49.0 153.6,50.9 153.8,49.7 154.0,48.7 154.2,48.1 154.5,48.2 154.8,48.0 155.0,48.1 155.2,46.6 155.7,49.9 155.9,48.4 156.3,50.0 156.4,48.3 156.8,49.7 157.0,48.4 157.4,50.6 157.4,47.0 157.7,47.8 158.0,47.5 158.4,49.7 158.6,48.3 158.9,48.6 159.2,48.7 159.5,49.1 159.7,49.6 160.0,48.3 160.3,50.3 160.5,48.2 160.8,50.1 161.1,49.0 161.3,48.4 161.6,47.5 161.9,48.3 162.2,51.9 162.4,49.8 162.7,50.5 163.0,50.4 163.3,50.5 163.5,50.6 163.8,50.8 164.1,53.0 164.3,49.7 164.6,50.4 164.9,51.5 165.1,50.3 165.4,49.4 165.7,51.6 165.9,48.5 166.2,48.7 166.5,48.6 166.8,47.8 167.0,50.6 167.3,50.0 167.5,51.6 167.8,48.3 168.1,48.3 168.4,50.4 168.7,48.7 168.9,49.2 169.2,48.2 169.5,47.9 169.7,48.5 170.0,50.5 170.2,51.3 170.5,49.1 170.8,50.4 171.0,50.3 171.3,50.6 171.6,49.1 171.8,50.2 172.1,50.4 172.4,49.1 172.7,50.1 172.9,50.5 173.3,47.5 173.6,48.4 173.8,49.1 174.1,47.7 174.3,49.4 174.7,48.0 174.8,50.1 175.1,49.9 175.5,48.6 175.6,49.7 176.0,48.2 176.4,47.2 176.5,49.1 176.8,48.3 177.2,47.8 177.3,49.9 177.5,49.8 177.9,49.1 178.1,49.7 178.5,47.5 178.8,47.8 178.7,52.0 179.3,48.3 179.5,49.0 179.9,48.1 180.1,48.4 180.4,48.2 180.5,50.3 180.8,49.8 180.9,51.5 181.4,49.2 181.7,49.1 181.7,51.3 182.0,50.9 182.4,49.7 182.7,49.7 183.0,49.6 183.5,47.9 183.6,48.9 183.9,49.3 184.0,50.5 184.0,52.3 184.7,49.5 184.8,50.6 185.0,50.9 185.4,50.3 185.8,49.4 185.8,50.7 186.4,48.8 186.5,49.9 186.9,49.1 186.8,51.5 187.1,51.4 187.5,50.7 187.3,53.6 188.1,50.1 188.1,52.2 188.5,51.1 188.8,51.3 188.8,52.5 189.0,53.3 189.2,53.5 189.9,51.2 190.4,49.9 190.4,51.1 190.8,50.8 190.8,51.9 191.2,51.6 191.4,52.0 191.7,51.5 192.2,50.7 192.5,50.4 192.9,49.8 192.7,52.0 193.5,49.5 193.7,49.8 193.6,52.1 194.0,51.1 193.8,53.3 194.4,51.9 195.0,50.3 195.0,51.8 195.5,50.6 195.9,50.3 195.9,51.3 196.8,48.7 196.2,52.6 196.9,50.6 197.6,48.8 197.5,50.6 197.5,51.8 197.6,52.4 197.6,53.6 198.7,50.1 198.7,51.4 198.3,54.3 198.7,53.7 198.6,55.1 199.3,53.6 199.1,55.4 200.0,53.1 200.3,52.8 200.9,51.7 201.1,51.8 200.6,55.0 201.5,52.6 201.0,55.5 201.5,54.6 202.1,53.5 201.9,55.4 202.0,55.8 202.4,55.6 203.7,51.8 203.3,54.4 204.1,52.4 204.6,51.5 204.5,52.8 204.3,54.8 205.2,52.6 204.4,56.4 204.9,55.4 205.0,56.1 205.8,54.4 205.8,55.2 206.0,55.7 206.8,53.8 206.2,56.7 207.0,54.9 207.2,55.2 207.5,55.4 207.8,55.3 208.5,53.8 209.0,53.1 208.5,55.7 208.5,56.7 208.4,57.6 209.2,56.2 209.1,57.2 210.0,55.4 210.8,54.0 210.8,54.9 210.9,55.5 211.1,55.7 211.0,56.7 211.5,56.1 211.3,57.4 212.6,54.7 212.1,57.0 212.9,55.3 212.3,57.8 213.4,55.5 213.3,56.8 213.6,56.7 213.8,57.0 214.6,55.4 214.4,56.8 214.6,57.1 215.3,55.9 214.9,57.8 215.6,56.8 216.1,56.1 215.4,58.8 215.1,60.4 216.5,57.4 217.4,56.0 217.9,55.3" fill="none" stroke="#E2281E" stroke-width="2.0" stroke-linejoin="round"/>
<path d="M143.96,86.40A104.4,104.4 0 0 1 204.53,91.29L200.23,102.17A92.7,92.7 0 0 0 146.45,97.83Z" fill="#B3D2EC"/>
<path d="M241.64,43.91A163,163 0 0 1 313.08,117.71L302.35,122.87A151.1,151.1 0 0 0 236.13,54.46Z" fill="#fff"/>
<path d="M233.50,59.51A145.4,145.4 0 0 1 297.22,125.35L286.22,130.64A133.2,133.2 0 0 0 227.85,70.33Z" fill="#fff"/>
<polyline points="240.1,48.7 240.4,48.8 240.3,49.7 241.2,48.5 241.8,48.1 240.4,51.3 242.3,48.5 241.8,50.1 242.9,48.7 242.4,50.1 242.0,51.5 242.5,51.2 243.6,49.9 244.3,49.3 242.9,52.4 244.8,49.6 243.4,52.8 242.9,54.3 245.7,50.0 244.5,52.6 245.0,52.4 245.5,52.1 246.0,51.9 245.9,52.7 246.9,51.7 246.3,53.3 247.0,52.7 247.4,52.6 248.2,51.8 248.4,52.1 247.8,53.6 247.8,54.3 248.6,53.6 249.2,53.2 250.6,51.5 250.5,52.3 250.6,52.6 249.4,55.2 250.4,54.1 252.0,52.1 250.5,55.1 252.0,53.4 251.3,55.1 251.2,55.7 251.6,55.6 252.7,54.6 251.7,56.7 251.2,58.0 253.0,55.8 253.0,56.3 252.8,57.2 253.9,56.2 254.3,56.1 254.2,56.8 255.8,55.0 254.0,58.1 255.1,57.0 254.4,58.7 255.8,57.2 256.1,57.2 254.7,59.8 256.2,58.2 255.9,59.1 256.9,58.2 256.8,58.9 256.6,59.8 256.9,59.9 256.9,60.4 257.9,59.5 257.2,61.0 258.2,60.2 257.6,61.4 257.9,61.7 259.8,59.5 258.1,62.4 259.7,60.7 257.7,63.9 259.6,61.9 260.4,61.3 260.9,61.1 260.6,62.1 261.6,61.3 258.8,65.4 260.9,63.2 260.5,64.2 260.4,64.9 261.6,63.8 263.1,62.3 262.2,64.0 261.2,65.8 262.4,64.7 263.1,64.3 263.6,64.2 264.3,63.8 264.4,64.1 263.9,65.2 265.2,64.2 264.1,66.0 264.6,65.9 265.6,65.1 265.8,65.4 265.1,66.6 264.9,67.4 266.5,66.0 266.3,66.7 265.0,68.7 266.7,67.2 265.8,68.7 267.5,67.1 267.5,67.6 267.0,68.7 268.2,67.7 268.7,67.6 268.7,68.1 268.5,68.9 267.8,70.1 268.8,69.4 269.1,69.5 268.6,70.5 269.0,70.6 269.4,70.5 269.5,70.9 270.0,70.7 271.4,69.6 270.4,71.3 270.3,71.9 271.1,71.4 270.7,72.3 271.3,72.1 271.1,72.8 274.7,69.3 271.2,73.6 271.7,73.5 274.2,71.1 272.5,73.5 273.7,72.6 274.3,72.4 273.1,74.2 274.4,73.2 274.6,73.5 275.9,72.5 275.7,73.1 274.6,74.8 275.5,74.3 274.8,75.5 275.9,74.7 276.1,75.0 276.2,75.4 277.4,74.5 276.3,76.1 275.7,77.2 276.9,76.3 277.6,76.1 278.0,76.1 278.2,76.4 279.6,75.4 276.9,78.6 279.0,76.9 278.1,78.2 278.6,78.1 278.4,78.7 280.4,77.2 279.8,78.2 278.2,80.2 279.8,79.0 280.8,78.5 281.1,78.7 279.4,80.8 280.8,79.8 280.3,80.7 280.2,81.2 280.6,81.2 281.3,81.0 281.4,81.4 281.1,82.0 280.7,82.8 283.3,80.9 282.5,82.0 281.8,83.1 282.1,83.2 282.6,83.2 284.2,82.1 284.5,82.2 285.3,82.0 282.5,84.9 284.4,83.5 284.2,84.2 283.3,85.3 284.3,84.9 283.5,86.0 285.1,85.0 286.1,84.5 284.4,86.4 285.6,85.8 285.5,86.2 288.3,84.3 284.6,87.9 287.0,86.3 288.3,85.5 287.4,86.7 286.8,87.5 287.8,87.2 289.8,85.8 289.8,86.3 289.4,87.0 288.6,88.1 286.7,90.1 288.8,88.7 289.6,88.4 288.3,89.9 289.5,89.3 289.6,89.6 290.7,89.2 291.5,88.9 291.1,89.6 289.9,91.0 290.1,91.2 290.9,91.0 289.9,92.2 291.4,91.3 291.9,91.3 291.1,92.4 290.8,93.0 292.5,92.1 292.1,92.8 290.5,94.3 290.3,94.8 291.6,94.3 292.0,94.3 292.0,94.7 291.7,95.4 291.7,95.7 293.6,94.7 293.5,95.1 292.6,96.2 292.2,96.8 294.1,95.8 292.2,97.6 290.3,99.3 292.4,98.2 292.7,98.4 293.4,98.2 293.4,98.6 294.0,98.5 295.8,97.6 294.9,98.6 294.7,99.2 294.8,99.4 294.5,100.0 296.5,99.0 296.0,99.7 297.5,99.1 295.8,100.6 297.1,100.1 296.0,101.2 295.3,102.1 298.1,100.5 298.5,100.6 296.8,102.1 297.1,102.3 297.8,102.2 297.6,102.7 300.4,101.3 298.0,103.2 297.0,104.2 298.2,103.8 298.9,103.7 300.2,103.2 299.5,104.0 300.5,103.7 299.8,104.5 301.8,103.7 300.6,104.8 301.3,104.7 301.7,104.8 300.8,105.7 300.1,106.5 303.4,104.8 302.0,106.1 302.1,106.4 300.2,107.9 299.7,108.5 302.5,107.2 303.6,106.9 302.1,108.1 301.8,108.7 301.8,109.0 304.4,107.9 305.0,107.9 302.1,109.9 303.6,109.4 305.0,109.0 304.7,109.5 304.4,110.1 305.6,109.7 304.3,110.8 303.8,111.4 305.1,111.1 303.5,112.3 305.3,111.6 302.8,113.4 305.4,112.3 305.6,112.5 304.6,113.4 304.5,113.8 305.7,113.5 306.8,113.3 306.7,113.7 306.4,114.2 306.0,114.8 308.0,114.1 308.4,114.2 306.0,115.8 308.3,115.0 307.8,115.6 305.9,116.9 308.3,116.0 304.9,118.0 308.7,116.5 308.9,116.7 307.1,118.0 306.7,118.5 307.9,118.2 308.2,118.5 307.3,119.3 305.9,120.3" fill="none" stroke="#ECBCDF" stroke-width="1.3" stroke-linejoin="round"/>
<polyline points="231.0,65.9 232.7,63.2 232.0,65.1 232.0,65.7 232.9,64.6 233.0,65.0 232.0,67.4 233.0,66.1 233.5,65.8 233.8,65.7 233.4,67.2 234.3,66.0 235.6,64.3 234.6,66.7 234.6,67.1 236.5,64.3 235.5,66.7 234.9,68.2 234.7,69.2 235.9,67.5 235.8,68.3 236.4,67.7 236.0,68.9 235.8,69.8 238.1,66.5 237.5,68.0 238.2,67.4 237.0,70.0 238.5,68.0 238.7,68.1 238.3,69.4 239.1,68.6 238.8,69.5 239.9,68.2 239.1,70.1 239.8,69.5 240.0,69.7 239.1,71.7 238.9,72.5 241.7,68.6 240.4,71.1 239.5,73.0 241.9,69.8 240.7,72.2 241.5,71.4 242.1,70.9 243.5,69.3 243.8,69.3 241.9,72.8 243.0,71.6 244.2,70.3 243.4,71.9 245.6,69.2 244.4,71.5 243.9,72.7 244.2,72.7 245.3,71.6 245.6,71.5 245.1,72.8 247.0,70.6 245.9,72.7 246.2,72.6 246.7,72.4 247.0,72.4 246.4,73.8 248.5,71.2 247.5,73.2 247.4,73.8 248.9,72.1 248.9,72.6 249.0,73.0 248.9,73.6 248.9,74.1 249.3,74.0 249.3,74.5 249.4,74.8 249.2,75.4 248.6,76.7 249.9,75.4 251.1,74.3 249.3,77.1 249.9,76.8 250.1,77.0 251.3,75.9 250.9,76.8 251.9,76.0 251.9,76.4 251.6,77.2 251.6,77.7 251.4,78.4 251.8,78.4 252.4,78.0 252.6,78.2 252.7,78.5 253.1,78.5 253.8,78.0 253.3,79.0 253.6,79.1 252.9,80.4 253.2,80.5 252.9,81.3 254.0,80.3 254.1,80.7 256.1,78.6 255.0,80.5 255.2,80.6 253.0,83.6 255.6,81.0 255.6,81.4 256.8,80.4 255.7,82.1 257.8,80.1 255.8,82.8 256.6,82.3 257.8,81.3 257.5,82.1 257.3,82.7 258.3,81.9 256.8,84.2 257.0,84.3 258.8,82.7 258.2,83.7 257.6,84.8 257.2,85.7 258.0,85.1 256.1,87.7 258.9,85.0 258.3,86.1 258.4,86.3 259.7,85.3 259.4,86.0 260.2,85.6 259.3,87.0 258.5,88.2 260.4,86.5 260.5,86.9 259.7,88.1 259.9,88.3 260.9,87.6 260.6,88.3 260.0,89.3 261.6,88.1 260.1,90.0 261.6,88.8 262.9,87.8 261.0,90.2 261.7,89.9 262.7,89.3 262.1,90.2 263.7,89.0 264.0,89.0 264.3,89.2 263.9,89.9 264.7,89.5 264.3,90.2 263.9,91.0 265.2,90.1 266.6,89.1 266.0,90.1 266.9,89.6 265.7,91.2 266.5,90.8 267.5,90.2 268.6,89.5 265.1,93.3 267.8,91.0 268.0,91.2 267.2,92.4 268.3,91.7 268.4,92.0 268.1,92.6 268.3,92.8 270.0,91.6 268.8,93.0 270.1,92.3 271.1,91.7 270.3,92.8 270.2,93.2 269.5,94.3 270.4,93.8 271.4,93.2 271.7,93.4 271.5,93.9 270.1,95.6 271.0,95.1 272.8,93.9 270.7,96.1 273.3,94.1 272.4,95.4 274.1,94.2 271.8,96.6 272.2,96.6 273.1,96.2 271.4,98.0 273.5,96.6 271.9,98.3 271.2,99.2 274.5,96.8 274.3,97.3 273.6,98.3 273.9,98.4 273.4,99.1 274.8,98.3 273.3,99.9 276.1,97.9 276.5,98.0 273.9,100.5 272.9,101.6 273.8,101.2 274.2,101.3 275.7,100.4 273.6,102.5 275.3,101.4 275.6,101.5 274.5,102.8 275.7,102.2 276.8,101.6 277.2,101.7 277.2,102.0 277.5,102.2 276.9,102.9 275.9,104.0 276.5,103.9 279.1,102.2 276.2,104.8 277.4,104.2 277.1,104.8 279.1,103.7 278.7,104.3 277.7,105.3 278.0,105.5 278.8,105.2 277.7,106.4 279.6,105.3 279.8,105.5 278.5,106.8 280.2,105.9 280.1,106.3 280.0,106.7 279.5,107.4 280.0,107.4 280.5,107.4 280.1,108.0 280.9,107.7 281.7,107.5 281.7,107.8 279.7,109.5 281.1,108.9 282.4,108.4 280.8,109.8 281.5,109.6 282.8,109.1 281.1,110.5 283.1,109.6 282.0,110.6 281.8,111.1 282.1,111.2 283.3,110.7 281.2,112.4 282.3,112.0 283.3,111.7 282.3,112.7 281.5,113.5 282.9,112.9 282.9,113.2 280.7,115.0 284.0,113.2 283.0,114.2 281.8,115.2 283.5,114.5 283.4,114.8 285.5,113.8 285.7,114.1 286.4,113.9 285.4,114.9 284.6,115.7 286.0,115.1 284.7,116.3 284.5,116.7 285.7,116.3 286.5,116.1 286.5,116.5 285.4,117.4 285.2,117.8 285.5,118.0 285.9,118.0 286.1,118.3 285.8,118.7 287.6,118.0 286.3,119.1 287.3,118.8 285.8,119.9 290.1,117.8 288.7,118.9 289.6,118.7 289.2,119.3 287.5,120.5 289.9,119.5 287.9,120.9 289.6,120.3 289.5,120.7 290.9,120.2 288.9,121.6 291.1,120.7 290.3,121.5 291.3,121.3 290.6,122.0 290.0,122.6 290.8,122.4 291.4,122.5 290.1,123.5 292.1,122.7 292.1,123.0 292.1,123.3 291.7,123.8 293.2,123.4 293.1,123.7 293.6,123.8 290.2,125.8 292.4,125.0 292.2,125.4 293.8,124.9 292.6,125.8 291.8,126.5 292.3,126.6 291.6,127.3" fill="none" stroke="#E2281E" stroke-width="2.0" stroke-linejoin="round"/>
<path d="M214.52,95.86A104.4,104.4 0 0 1 260.27,143.13L249.73,148.20A92.7,92.7 0 0 0 209.10,106.23Z" fill="#B3D2EC"/>
<path d="M319.52,133.05A163,163 0 0 1 328.37,171.93L316.53,173.13A151.1,151.1 0 0 0 308.32,137.09Z" fill="#fff"/>
<path d="M302.96,139.03A145.4,145.4 0 0 1 310.86,173.71L298.72,174.94A133.2,133.2 0 0 0 291.49,143.17Z" fill="#fff"/>
<polyline points="316.1,135.2 315.1,135.9 315.0,136.2 316.2,136.1 316.3,136.4 318.9,135.8 316.4,137.0 315.4,137.7 315.4,138.0 313.8,138.9 315.2,138.7 316.4,138.6 316.6,138.9 317.4,139.0 317.2,139.4 316.3,140.0 315.2,140.6 315.6,140.8 317.3,140.6 318.6,140.5 318.5,140.9 317.8,141.4 316.2,142.2 317.6,142.1 316.5,142.8 316.4,143.1 316.9,143.3 316.6,143.7 318.1,143.6 317.2,144.2 320.6,143.5 317.9,144.6 317.1,145.1 320.5,144.5 317.8,145.6 319.3,145.5 319.1,145.9 317.5,146.6 318.8,146.6 318.1,147.1 317.8,147.5 317.3,147.9 318.7,147.9 317.5,148.5 317.5,148.8 317.0,149.3 319.9,148.8 322.1,148.6 321.0,149.2 318.7,150.1 320.4,150.0 317.5,151.0 319.3,150.9 319.3,151.2 318.0,151.8 319.1,151.9 320.1,151.9 320.9,152.1 318.4,153.0 320.0,152.9 318.7,153.5 321.4,153.2 322.3,153.3 317.5,154.7 320.0,154.5 322.1,154.3 320.4,155.0 321.1,155.2 322.3,155.2 322.0,155.6 321.3,156.1 322.1,156.2 322.3,156.5 322.0,156.9 321.2,157.4 320.9,157.7 320.5,158.1 320.5,158.4 321.1,158.6 320.8,159.0 321.6,159.2 320.7,159.6 318.9,160.3 321.3,160.1 322.7,160.2 320.3,161.0 320.1,161.3 320.8,161.5 320.7,161.8 319.4,162.3 321.4,162.3 320.4,162.8 319.5,163.2 318.4,163.7 320.6,163.7 320.6,164.0 323.3,163.9 319.8,164.7 320.0,165.0 323.0,164.8 322.6,165.2 322.9,165.5 320.0,166.2 321.3,166.3 320.6,166.7 321.2,166.9 319.8,167.4 320.2,167.7 322.2,167.7 319.7,168.4 322.6,168.3 322.6,168.6 321.1,169.1 322.8,169.2 321.0,169.7 321.4,170.0 323.6,170.0 324.7,170.2 323.1,170.7 323.2,171.0 326.9,170.9 322.2,171.7" fill="none" stroke="#ECBCDF" stroke-width="1.3" stroke-linejoin="round"/>
<polyline points="296.8,142.0 297.4,142.1 298.1,142.1 297.2,142.7 298.8,142.5 298.1,143.0 299.7,142.7 300.1,142.9 297.2,144.2 300.9,143.2 296.4,145.0 300.2,144.0 297.5,145.2 296.9,145.7 297.8,145.7 300.4,145.1 299.3,145.8 300.2,145.7 302.2,145.4 302.0,145.7 301.3,146.2 300.4,146.8 300.0,147.2 300.1,147.5 299.7,147.9 300.5,147.9 300.6,148.2 300.5,148.5 300.5,148.8 302.6,148.5 302.3,148.8 301.0,149.5 302.4,149.4 301.7,149.8 302.5,149.9 304.0,149.8 305.1,149.7 304.3,150.3 300.6,151.6 301.8,151.5 300.2,152.2 302.3,152.0 303.0,152.0 302.6,152.4 304.2,152.3 303.6,152.7 302.3,153.4 304.2,153.2 302.0,154.0 306.1,153.3 303.7,154.1 304.1,154.3 306.3,154.1 303.3,155.1 304.5,155.1 304.2,155.4 304.8,155.6 304.0,156.0 303.1,156.5 302.0,157.1 304.5,156.8 306.0,156.7 306.6,156.9 305.5,157.4 305.9,157.6 305.2,158.0 301.8,159.0 304.7,158.7 306.2,158.7 302.4,159.7 303.4,159.8 304.2,159.9 305.3,160.0 306.2,160.1 305.4,160.5 303.4,161.2 303.0,161.5 304.4,161.6 302.2,162.3 301.8,162.6 302.0,162.8 302.6,163.0 303.7,163.1 304.4,163.2 304.9,163.4 305.6,163.6 303.4,164.2 303.2,164.5 306.2,164.3 305.2,164.7 305.6,165.0 304.9,165.3 302.9,166.0 304.8,165.9 306.0,166.0 306.3,166.2 304.0,166.9 306.0,166.8 306.9,167.0 305.5,167.5 307.2,167.5 307.1,167.8 305.6,168.3 306.6,168.4 305.2,168.9 305.0,169.2 304.9,169.5 304.8,169.8 305.9,169.9 305.8,170.2 304.4,170.6 305.2,170.8 305.1,171.1 306.4,171.2 306.4,171.5 306.0,171.8 305.0,172.2 306.0,172.4 305.5,172.7 307.1,172.8 303.5,173.5 306.4,173.4" fill="none" stroke="#E2281E" stroke-width="2.0" stroke-linejoin="round"/>
<path d="M264.40,152.95A104.4,104.4 0 0 1 270.07,177.85L258.43,179.03A92.7,92.7 0 0 0 253.39,156.92Z" fill="#B3D2EC"/>
<path d="M329.20,188.40A163,163 0 0 1 311.50,262.27L300.89,256.88A151.1,151.1 0 0 0 317.30,188.40Z" fill="none" stroke="#111" stroke-width="1.25" stroke-linejoin="miter"/>
<path d="M311.60,188.40A145.4,145.4 0 0 1 295.81,254.30L284.93,248.77A133.2,133.2 0 0 0 299.40,188.40Z" fill="none" stroke="#111" stroke-width="1.25" stroke-linejoin="miter"/>
<path d="M293.80,188.40A127.6,127.6 0 0 1 279.94,246.23L268.98,240.66A115.3,115.3 0 0 0 281.50,188.40Z" fill="none" stroke="#111" stroke-width="1.25" stroke-linejoin="miter"/>
<path d="M270.60,188.40A104.4,104.4 0 0 1 259.26,235.72L248.83,230.41A92.7,92.7 0 0 0 258.90,188.40Z" fill="none" stroke="#111" stroke-width="1.25" stroke-linejoin="miter"/>
<path d="M302.75,277.41A163,163 0 0 1 217.27,343.19L213.54,331.89A151.1,151.1 0 0 0 292.78,270.92Z" fill="none" stroke="#111" stroke-width="1.25" stroke-linejoin="miter"/>
<path d="M288.00,267.80A145.4,145.4 0 0 1 211.76,326.48L207.94,314.89A133.2,133.2 0 0 0 277.78,261.14Z" fill="none" stroke="#111" stroke-width="1.25" stroke-linejoin="miter"/>
<path d="M273.09,258.08A127.6,127.6 0 0 1 206.18,309.57L202.33,297.89A115.3,115.3 0 0 0 262.79,251.37Z" fill="none" stroke="#111" stroke-width="1.25" stroke-linejoin="miter"/>
<path d="M253.66,245.41A104.4,104.4 0 0 1 198.91,287.54L195.25,276.43A92.7,92.7 0 0 0 243.86,239.02Z" fill="none" stroke="#111" stroke-width="1.25" stroke-linejoin="miter"/>
<path d="M200.76,347.69A163,163 0 0 1 98.35,336.61L103.30,325.79A151.1,151.1 0 0 0 198.23,336.07Z" fill="none" stroke="#111" stroke-width="1.25" stroke-linejoin="miter"/>
<path d="M197.03,330.49A145.4,145.4 0 0 1 105.67,320.60L110.75,309.51A133.2,133.2 0 0 0 194.44,318.57Z" fill="none" stroke="#111" stroke-width="1.25" stroke-linejoin="miter"/>
<path d="M193.25,313.10A127.6,127.6 0 0 1 113.08,304.42L118.20,293.23A115.3,115.3 0 0 0 190.64,301.08Z" fill="none" stroke="#111" stroke-width="1.25" stroke-linejoin="miter"/>
<path d="M188.33,290.43A104.4,104.4 0 0 1 122.74,283.32L127.61,272.69A92.7,92.7 0 0 0 185.85,278.99Z" fill="none" stroke="#111" stroke-width="1.25" stroke-linejoin="miter"/>
<path d="M84.38,329.38A163,163 0 0 1 19.32,259.09L30.05,253.93A151.1,151.1 0 0 0 90.35,319.08Z" fill="none" stroke="#111" stroke-width="1.25" stroke-linejoin="miter"/>
<path d="M93.21,314.15A145.4,145.4 0 0 1 35.18,251.45L46.18,246.16A133.2,133.2 0 0 0 99.34,303.60Z" fill="none" stroke="#111" stroke-width="1.25" stroke-linejoin="miter"/>
<path d="M102.15,298.76A127.6,127.6 0 0 1 51.22,243.73L62.31,238.40A115.3,115.3 0 0 0 108.32,288.12Z" fill="none" stroke="#111" stroke-width="1.25" stroke-linejoin="miter"/>
<path d="M113.79,278.69A104.4,104.4 0 0 1 72.13,233.67L82.67,228.60A92.7,92.7 0 0 0 119.67,268.58Z" fill="none" stroke="#111" stroke-width="1.25" stroke-linejoin="miter"/>
<path d="M12.74,243.35A163,163 0 0 1 5.66,160.18L17.38,162.24A151.1,151.1 0 0 0 23.94,239.34Z" fill="none" stroke="#111" stroke-width="1.25" stroke-linejoin="miter"/>
<path d="M29.31,237.41A145.4,145.4 0 0 1 23.00,163.23L35.01,165.34A133.2,133.2 0 0 0 40.80,233.30Z" fill="none" stroke="#111" stroke-width="1.25" stroke-linejoin="miter"/>
<path d="M46.07,231.41A127.6,127.6 0 0 1 40.53,166.31L52.64,168.44A115.3,115.3 0 0 0 57.65,227.27Z" fill="none" stroke="#111" stroke-width="1.25" stroke-linejoin="miter"/>
<path d="M67.91,223.59A104.4,104.4 0 0 1 63.38,170.32L74.90,172.35A92.7,92.7 0 0 0 78.93,219.65Z" fill="none" stroke="#111" stroke-width="1.25" stroke-linejoin="miter"/>
<path d="M9.57,143.28A163,163 0 0 1 46.80,77.44L55.51,85.54A151.1,151.1 0 0 0 21.00,146.57Z" fill="none" stroke="#111" stroke-width="1.25" stroke-linejoin="miter"/>
<path d="M26.48,148.15A145.4,145.4 0 0 1 59.69,89.42L68.63,97.73A133.2,133.2 0 0 0 38.20,151.53Z" fill="none" stroke="#111" stroke-width="1.25" stroke-linejoin="miter"/>
<path d="M43.59,153.08A127.6,127.6 0 0 1 72.73,101.54L81.74,109.91A115.3,115.3 0 0 0 55.41,156.48Z" fill="none" stroke="#111" stroke-width="1.25" stroke-linejoin="miter"/>
<path d="M65.88,159.50A104.4,104.4 0 0 1 89.72,117.33L98.29,125.30A92.7,92.7 0 0 0 77.12,162.74Z" fill="none" stroke="#111" stroke-width="1.25" stroke-linejoin="miter"/>
<path d="M59.05,65.57A163,163 0 0 1 115.15,33.60L118.88,44.90A151.1,151.1 0 0 0 66.87,74.54Z" fill="none" stroke="#111" stroke-width="1.25" stroke-linejoin="miter"/>
<path d="M70.62,78.83A145.4,145.4 0 0 1 120.67,50.31L124.49,61.90A133.2,133.2 0 0 0 78.64,88.03Z" fill="none" stroke="#111" stroke-width="1.25" stroke-linejoin="miter"/>
<path d="M82.32,92.25A127.6,127.6 0 0 1 126.24,67.22L130.09,78.90A115.3,115.3 0 0 0 90.40,101.51Z" fill="none" stroke="#111" stroke-width="1.25" stroke-linejoin="miter"/>
<path d="M97.57,109.73A104.4,104.4 0 0 1 133.51,89.25L137.17,100.36A92.7,92.7 0 0 0 105.26,118.54Z" fill="none" stroke="#111" stroke-width="1.25" stroke-linejoin="miter"/>
<path d="M131.48,29.14A163,163 0 0 1 226.05,36.78L221.68,47.85A151.1,151.1 0 0 0 134.01,40.77Z" fill="none" stroke="#111" stroke-width="1.25" stroke-linejoin="miter"/>
<path d="M135.23,46.34A145.4,145.4 0 0 1 219.58,53.15L215.10,64.50A133.2,133.2 0 0 0 137.82,58.26Z" fill="none" stroke="#111" stroke-width="1.25" stroke-linejoin="miter"/>
<path d="M139.02,63.73A127.6,127.6 0 0 1 213.05,69.71L208.53,81.15A115.3,115.3 0 0 0 141.64,75.75Z" fill="none" stroke="#111" stroke-width="1.25" stroke-linejoin="miter"/>
<path d="M143.96,86.40A104.4,104.4 0 0 1 204.53,91.29L200.23,102.17A92.7,92.7 0 0 0 146.45,97.83Z" fill="none" stroke="#111" stroke-width="1.25" stroke-linejoin="miter"/>
<path d="M241.64,43.91A163,163 0 0 1 313.08,117.71L302.35,122.87A151.1,151.1 0 0 0 236.13,54.46Z" fill="none" stroke="#111" stroke-width="1.25" stroke-linejoin="miter"/>
<path d="M233.50,59.51A145.4,145.4 0 0 1 297.22,125.35L286.22,130.64A133.2,133.2 0 0 0 227.85,70.33Z" fill="none" stroke="#111" stroke-width="1.25" stroke-linejoin="miter"/>
<path d="M225.26,75.29A127.6,127.6 0 0 1 281.18,133.07L270.09,138.40A115.3,115.3 0 0 0 219.56,86.19Z" fill="none" stroke="#111" stroke-width="1.25" stroke-linejoin="miter"/>
<path d="M214.52,95.86A104.4,104.4 0 0 1 260.27,143.13L249.73,148.20A92.7,92.7 0 0 0 209.10,106.23Z" fill="none" stroke="#111" stroke-width="1.25" stroke-linejoin="miter"/>
<path d="M319.52,133.05A163,163 0 0 1 328.37,171.93L316.53,173.13A151.1,151.1 0 0 0 308.32,137.09Z" fill="none" stroke="#111" stroke-width="1.25" stroke-linejoin="miter"/>
<path d="M302.96,139.03A145.4,145.4 0 0 1 310.86,173.71L298.72,174.94A133.2,133.2 0 0 0 291.49,143.17Z" fill="none" stroke="#111" stroke-width="1.25" stroke-linejoin="miter"/>
<path d="M286.22,145.07A127.6,127.6 0 0 1 293.15,175.51L280.91,176.75A115.3,115.3 0 0 0 274.65,149.25Z" fill="none" stroke="#111" stroke-width="1.25" stroke-linejoin="miter"/>
<path d="M264.40,152.95A104.4,104.4 0 0 1 270.07,177.85L258.43,179.03A92.7,92.7 0 0 0 253.39,156.92Z" fill="none" stroke="#111" stroke-width="1.25" stroke-linejoin="miter"/>
<path d="M271.80,188.40A105.6,105.6 0 0 1 260.33,236.26" fill="none" stroke="#E8332A" stroke-width="1.3"/>
<path d="M271.80,188.40L275.50,188.40M271.53,195.95L275.22,196.21M270.72,203.46L274.38,203.99M269.38,210.90L272.99,211.68M267.50,218.22L271.05,219.26M265.11,225.38L268.58,226.68M262.22,232.36L265.58,233.90" stroke="#E8332A" stroke-width="1.05" fill="none"/>
<path d="M271.79,189.91L273.39,189.93M271.76,191.42L273.36,191.47M271.70,192.93L273.30,193.00M271.63,194.44L273.22,194.53M271.41,197.46L273.01,197.59M271.27,198.96L272.86,199.12M271.11,200.46L272.70,200.65M270.93,201.96L272.51,202.17M270.49,204.96L272.07,205.21M270.25,206.45L271.82,206.72M269.98,207.93L271.55,208.23M269.69,209.42L271.26,209.74M269.04,212.37L270.60,212.73M268.69,213.84L270.24,214.23M268.32,215.30L269.86,215.71M267.92,216.76L269.46,217.19M267.07,219.66L268.59,220.14M266.61,221.10L268.13,221.60M266.13,222.54L267.64,223.05M265.63,223.96L267.14,224.50M264.57,226.79L266.06,227.38M264.01,228.20L265.50,228.80M263.43,229.59L264.91,230.22M262.83,230.98L264.30,231.63M261.58,233.73L263.02,234.42M260.92,235.09L262.35,235.80" stroke="#E8332A" stroke-width="0.8" fill="none"/>
<g font-size="4.8" fill="#222" stroke="#222" stroke-width="0.12" text-anchor="middle" dominant-baseline="central"><text x="277.80" y="188.40" transform="rotate(-90.0 277.80 188.40)">0</text><text x="277.51" y="196.38" transform="rotate(-85.9 277.51 196.38)">10</text><text x="276.66" y="204.32" transform="rotate(-81.8 276.66 204.32)">20</text><text x="275.24" y="212.17" transform="rotate(-77.7 275.24 212.17)">30</text><text x="273.26" y="219.91" transform="rotate(-73.6 273.26 219.91)">40</text><text x="270.73" y="227.48" transform="rotate(-69.5 270.73 227.48)">50</text><text x="267.67" y="234.86" transform="rotate(-65.4 267.67 234.86)">60</text></g>
<text x="261.79" y="211.31" transform="rotate(-76.5 261.79 211.31)" font-size="8.5" fill="#E6C23A" stroke="#E6C23A" stroke-width="0.45" text-anchor="middle" dominant-baseline="central">chr1</text>
<path d="M254.66,246.07A105.6,105.6 0 0 1 199.29,288.68" fill="none" stroke="#E8332A" stroke-width="1.3"/>
<path d="M254.66,246.07L257.76,248.09M250.31,252.25L253.26,254.48M245.53,258.10L248.31,260.54M240.35,263.59L242.95,266.22M234.78,268.70L237.18,271.51M228.87,273.40L231.06,276.37M222.63,277.66L224.60,280.79M216.10,281.47L217.85,284.73M209.32,284.80L210.83,288.17M202.32,287.63L203.58,291.11" stroke="#E8332A" stroke-width="1.05" fill="none"/>
<path d="M253.83,247.33L255.16,248.22M252.98,248.58L254.29,249.49M252.11,249.81L253.41,250.74M251.22,251.04L252.51,251.98M249.39,253.44L250.65,254.43M248.45,254.63L249.70,255.63M247.50,255.80L248.73,256.82M246.52,256.95L247.74,257.99M244.53,259.22L245.71,260.30M243.51,260.34L244.68,261.43M242.47,261.44L243.62,262.54M241.42,262.52L242.56,263.64M239.26,264.64L240.37,265.80M238.17,265.68L239.26,266.85M237.05,266.70L238.13,267.89M235.92,267.71L236.98,268.91M233.63,269.67L234.65,270.90M232.46,270.63L233.46,271.87M231.27,271.57L232.26,272.83M230.08,272.49L231.04,273.77M227.64,274.28L228.57,275.59M226.41,275.16L227.32,276.47M225.16,276.01L226.05,277.34M223.90,276.84L224.77,278.18M221.34,278.46L222.18,279.82M220.05,279.24L220.87,280.61M218.74,280.00L219.54,281.39M217.43,280.74L218.20,282.14M214.76,282.17L215.50,283.59M213.42,282.86L214.13,284.29M212.06,283.52L212.76,284.96M210.69,284.17L211.37,285.62M207.94,285.40L208.57,286.87M206.54,285.99L207.15,287.47M205.14,286.56L205.73,288.04M203.73,287.10L204.30,288.60M200.89,288.14L201.42,289.65M199.46,288.62L199.97,290.14" stroke="#E8332A" stroke-width="0.8" fill="none"/>
<g font-size="4.8" fill="#222" stroke="#222" stroke-width="0.12" text-anchor="middle" dominant-baseline="central"><text x="259.69" y="249.34" transform="rotate(-56.9 259.69 249.34)">0</text><text x="255.09" y="255.87" transform="rotate(-52.8 255.09 255.87)">10</text><text x="250.04" y="262.06" transform="rotate(-48.7 250.04 262.06)">20</text><text x="244.56" y="267.86" transform="rotate(-44.6 244.56 267.86)">30</text><text x="238.68" y="273.26" transform="rotate(-40.5 238.68 273.26)">40</text><text x="232.43" y="278.23" transform="rotate(-36.4 232.43 278.23)">50</text><text x="225.83" y="282.73" transform="rotate(-32.3 225.83 282.73)">60</text><text x="218.94" y="286.75" transform="rotate(-28.2 218.94 286.75)">70</text><text x="211.77" y="290.27" transform="rotate(-24.1 211.77 290.27)">80</text><text x="204.37" y="293.27" transform="rotate(-20.0 204.37 293.27)">90</text></g>
<text x="226.15" y="266.30" transform="rotate(-37.6 226.15 266.30)" font-size="8.5" fill="#E6C23A" stroke="#E6C23A" stroke-width="0.45" text-anchor="middle" dominant-baseline="central">chr2</text>
<path d="M188.59,291.60A105.6,105.6 0 0 1 122.24,284.42" fill="none" stroke="#E8332A" stroke-width="1.3"/>
<path d="M188.59,291.60L189.37,295.22M181.15,292.94L181.68,296.60M173.64,293.74L173.90,297.43M166.09,294.00L166.09,297.70M158.54,293.72L158.27,297.41M151.03,292.90L150.50,296.57M143.60,291.55L142.80,295.17M136.28,289.67L135.23,293.22M129.11,287.27L127.82,290.74" stroke="#E8332A" stroke-width="1.05" fill="none"/>
<path d="M187.11,291.91L187.43,293.48M185.63,292.20L185.92,293.77M184.14,292.47L184.41,294.04M182.65,292.71L182.90,294.29M179.65,293.14L179.86,294.73M178.15,293.32L178.34,294.91M176.65,293.48L176.81,295.07M175.15,293.62L175.28,295.21M172.13,293.83L172.22,295.43M170.62,293.91L170.69,295.51M169.11,293.96L169.16,295.56M167.60,293.99L167.62,295.59M164.58,293.99L164.55,295.59M163.07,293.95L163.02,295.55M161.56,293.90L161.49,295.50M160.05,293.82L159.95,295.42M157.03,293.60L156.89,295.20M155.53,293.46L155.37,295.05M154.03,293.30L153.84,294.89M152.53,293.11L152.32,294.70M149.53,292.68L149.28,294.26M148.04,292.43L147.77,294.00M146.56,292.16L146.26,293.73M145.07,291.87L144.75,293.43M142.12,291.22L141.76,292.78M140.65,290.86L140.27,292.42M139.19,290.49L138.78,292.03M137.73,290.09L137.30,291.63M134.83,289.23L134.36,290.76M133.39,288.77L132.90,290.30M131.96,288.29L131.44,289.81M130.53,287.79L129.99,289.30M127.70,286.73L127.12,288.22M126.30,286.17L125.70,287.65M124.90,285.59L124.28,287.06M123.52,284.99L122.87,286.45" stroke="#E8332A" stroke-width="0.8" fill="none"/>
<g font-size="4.8" fill="#222" stroke="#222" stroke-width="0.12" text-anchor="middle" dominant-baseline="central"><text x="189.86" y="297.46" transform="rotate(-12.2 189.86 297.46)">0</text><text x="182.00" y="298.88" transform="rotate(-8.1 182.00 298.88)">10</text><text x="174.06" y="299.72" transform="rotate(-4.0 174.06 299.72)">20</text><text x="166.08" y="300.00" transform="rotate(0.1 166.08 300.00)">30</text><text x="158.10" y="299.71" transform="rotate(4.2 158.10 299.71)">40</text><text x="150.17" y="298.84" transform="rotate(8.3 150.17 298.84)">50</text><text x="142.31" y="297.41" transform="rotate(12.4 142.31 297.41)">60</text><text x="134.58" y="295.43" transform="rotate(16.5 134.58 295.43)">70</text><text x="127.01" y="292.89" transform="rotate(20.6 127.01 292.89)">80</text></g>
<text x="155.62" y="286.13" transform="rotate(6.2 155.62 286.13)" font-size="8.5" fill="#E6C23A" stroke="#E6C23A" stroke-width="0.45" text-anchor="middle" dominant-baseline="central">chr3</text>
<path d="M113.19,279.73A105.6,105.6 0 0 1 71.05,234.19" fill="none" stroke="#E8332A" stroke-width="1.3"/>
<path d="M113.19,279.73L111.34,282.93M106.80,275.71L104.72,278.77M100.71,271.24L98.41,274.14M94.95,266.34L92.46,269.07M89.56,261.05L86.88,263.60M84.56,255.38L81.70,257.73M79.98,249.38L76.96,251.51M75.84,243.06L72.68,244.97M72.17,236.46L68.87,238.14" stroke="#E8332A" stroke-width="1.05" fill="none"/>
<path d="M111.89,278.96L111.07,280.34M110.60,278.18L109.76,279.54M109.32,277.37L108.46,278.72M108.05,276.55L107.17,277.89M105.55,274.85L104.64,276.16M104.32,273.97L103.39,275.27M103.11,273.08L102.15,274.36M101.90,272.17L100.93,273.44M99.53,270.29L98.52,271.53M98.36,269.33L97.34,270.56M97.21,268.35L96.17,269.56M96.08,267.36L95.01,268.55M93.84,265.32L92.75,266.48M92.75,264.27L91.64,265.42M91.67,263.21L90.54,264.35M90.61,262.14L89.46,263.26M88.53,259.95L87.35,261.03M87.51,258.83L86.32,259.89M86.51,257.69L85.31,258.74M85.53,256.55L84.31,257.58M83.61,254.21L82.36,255.21M82.68,253.02L81.42,254.00M81.76,251.82L80.49,252.78M80.87,250.60L79.57,251.55M79.12,248.14L77.80,249.04M78.27,246.88L76.94,247.77M77.45,245.62L76.10,246.49M76.64,244.34L75.28,245.19M75.07,241.76L73.69,242.57M74.32,240.45L72.93,241.24M73.58,239.13L72.18,239.90M72.87,237.80L71.45,238.55M71.49,235.11L70.06,235.81" stroke="#E8332A" stroke-width="0.8" fill="none"/>
<g font-size="4.8" fill="#222" stroke="#222" stroke-width="0.12" text-anchor="middle" dominant-baseline="central"><text x="110.18" y="284.92" transform="rotate(30.1 110.18 284.92)">0</text><text x="103.42" y="280.67" transform="rotate(34.2 103.42 280.67)">10</text><text x="96.99" y="275.94" transform="rotate(38.3 96.99 275.94)">20</text><text x="90.90" y="270.77" transform="rotate(42.4 90.90 270.77)">30</text><text x="85.21" y="265.18" transform="rotate(46.5 85.21 265.18)">40</text><text x="79.93" y="259.19" transform="rotate(50.6 79.93 259.19)">50</text><text x="75.09" y="252.84" transform="rotate(54.7 75.09 252.84)">60</text><text x="70.71" y="246.16" transform="rotate(58.8 70.71 246.16)">70</text><text x="66.83" y="239.19" transform="rotate(62.9 66.83 239.19)">80</text></g>
<text x="94.06" y="255.17" transform="rotate(47.2 94.06 255.17)" font-size="8.5" fill="#E6C23A" stroke="#E6C23A" stroke-width="0.45" text-anchor="middle" dominant-baseline="central">chr4</text>
<path d="M66.78,224.00A105.6,105.6 0 0 1 62.19,170.12" fill="none" stroke="#E8332A" stroke-width="1.3"/>
<path d="M66.78,224.00L63.30,225.24M64.49,216.80L60.93,217.79M62.72,209.45L59.09,210.19M61.48,202.00L57.81,202.48M60.78,194.48L57.08,194.69M60.61,186.93L56.91,186.87M60.99,179.38L57.30,179.06M61.90,171.88L58.25,171.30" stroke="#E8332A" stroke-width="1.05" fill="none"/>
<path d="M66.28,222.57L64.77,223.09M65.80,221.14L64.28,221.63M65.34,219.70L63.82,220.17M64.91,218.25L63.37,218.70M64.09,215.34L62.55,215.75M63.72,213.88L62.17,214.26M63.36,212.41L61.81,212.77M63.03,210.93L61.47,211.27M62.43,207.97L60.86,208.27M62.16,206.48L60.58,206.76M61.91,204.99L60.33,205.24M61.68,203.50L60.10,203.73M61.30,200.50L59.71,200.68M61.13,199.00L59.54,199.16M60.99,197.49L59.40,197.63M60.87,195.99L59.28,196.10M60.70,192.97L59.10,193.04M60.64,191.46L59.04,191.51M60.61,189.95L59.01,189.97M60.60,188.44L59.00,188.44M60.64,185.41L59.04,185.37M60.70,183.90L59.10,183.84M60.77,182.39L59.17,182.30M60.87,180.89L59.27,180.77M61.13,177.88L59.53,177.72M61.29,176.37L59.70,176.19M61.47,174.87L59.88,174.67M61.67,173.37L60.09,173.15M62.15,170.39L60.57,170.12" stroke="#E8332A" stroke-width="0.8" fill="none"/>
<g font-size="4.8" fill="#222" stroke="#222" stroke-width="0.12" text-anchor="middle" dominant-baseline="central"><text x="61.13" y="226.02" transform="rotate(70.3 61.13 226.02)">0</text><text x="58.71" y="218.41" transform="rotate(74.4 58.71 218.41)">10</text><text x="56.84" y="210.65" transform="rotate(78.5 56.84 210.65)">20</text><text x="55.53" y="202.77" transform="rotate(82.6 55.53 202.77)">30</text><text x="54.79" y="194.82" transform="rotate(86.7 54.79 194.82)">40</text><text x="54.61" y="186.84" transform="rotate(90.8 54.61 186.84)">50</text><text x="55.01" y="178.87" transform="rotate(94.9 55.01 178.87)">60</text><text x="55.97" y="170.94" transform="rotate(99.0 55.97 170.94)">70</text></g>
<text x="68.25" y="196.74" transform="rotate(85.1 68.25 196.74)" font-size="8.5" fill="#E6C23A" stroke="#E6C23A" stroke-width="0.45" text-anchor="middle" dominant-baseline="central">chr5</text>
<path d="M64.73,159.17A105.6,105.6 0 0 1 88.84,116.52" fill="none" stroke="#E8332A" stroke-width="1.3"/>
<path d="M64.73,159.17L61.17,158.14M67.08,151.99L63.60,150.71M69.93,144.99L66.56,143.47M73.28,138.22L70.03,136.46M77.11,131.71L73.99,129.72M81.39,125.48L78.42,123.28M86.10,119.58L83.30,117.17" stroke="#E8332A" stroke-width="1.05" fill="none"/>
<path d="M65.16,157.72L63.62,157.25M65.60,156.28L64.08,155.79M66.07,154.84L64.56,154.33M66.57,153.41L65.06,152.88M67.61,150.57L66.11,150.00M68.16,149.17L66.67,148.57M68.73,147.77L67.25,147.15M69.32,146.38L67.85,145.74M70.56,143.62L69.12,142.94M71.21,142.26L69.78,141.56M71.88,140.90L70.46,140.18M72.57,139.56L71.16,138.82M74.01,136.90L72.61,136.12M74.76,135.58L73.37,134.78M75.52,134.28L74.15,133.46M76.31,132.99L74.94,132.15M77.93,130.44L76.59,129.56M78.77,129.18L77.44,128.28M79.62,127.94L78.31,127.02M80.50,126.70L79.20,125.77M82.30,124.28L81.03,123.30M83.22,123.08L81.97,122.09M84.17,121.90L82.93,120.89M85.13,120.73L83.90,119.71M87.10,118.44L85.90,117.38M88.11,117.32L86.92,116.24" stroke="#E8332A" stroke-width="0.8" fill="none"/>
<g font-size="4.8" fill="#222" stroke="#222" stroke-width="0.12" text-anchor="middle" dominant-baseline="central"><text x="58.96" y="157.51" transform="rotate(286.1 58.96 157.51)">0</text><text x="61.44" y="149.92" transform="rotate(290.2 61.44 149.92)">10</text><text x="64.46" y="142.53" transform="rotate(294.3 64.46 142.53)">20</text><text x="68.00" y="135.37" transform="rotate(298.4 68.00 135.37)">30</text><text x="72.05" y="128.49" transform="rotate(302.5 72.05 128.49)">40</text><text x="76.57" y="121.91" transform="rotate(306.6 76.57 121.91)">50</text><text x="81.55" y="115.67" transform="rotate(310.7 81.55 115.67)">60</text></g>
<text x="80.63" y="140.02" transform="rotate(299.5 80.63 140.02)" font-size="8.5" fill="#E6C23A" stroke="#E6C23A" stroke-width="0.45" text-anchor="middle" dominant-baseline="central">chr6</text>
<path d="M96.78,108.82A105.6,105.6 0 0 1 133.13,88.11" fill="none" stroke="#E8332A" stroke-width="1.3"/>
<path d="M96.78,108.82L94.35,106.04M102.65,104.06L100.42,101.11M108.84,99.74L106.83,96.63M115.33,95.86L113.54,92.62M122.07,92.46L120.53,89.10M129.05,89.55L127.74,86.09" stroke="#E8332A" stroke-width="1.05" fill="none"/>
<path d="M97.93,107.84L96.89,106.62M99.09,106.87L98.07,105.63M100.26,105.92L99.26,104.67M101.45,104.98L100.47,103.72M103.86,103.16L102.92,101.87M105.09,102.28L104.16,100.97M106.33,101.41L105.42,100.10M107.58,100.57L106.69,99.24M110.12,98.92L109.27,97.57M111.40,98.13L110.57,96.76M112.70,97.36L111.89,95.98M114.01,96.60L113.22,95.21M116.66,95.14L115.91,93.73M118.00,94.44L117.27,93.02M119.35,93.76L118.64,92.33M120.70,93.10L120.02,91.66M123.45,91.84L122.80,90.38M124.84,91.24L124.21,89.77M126.23,90.66L125.63,89.17M127.63,90.09L127.05,88.60M130.46,89.03L129.92,87.52M131.89,88.53L131.37,87.02" stroke="#E8332A" stroke-width="0.8" fill="none"/>
<g font-size="4.8" fill="#222" stroke="#222" stroke-width="0.12" text-anchor="middle" dominant-baseline="central"><text x="92.84" y="104.30" transform="rotate(318.9 92.84 104.30)">0</text><text x="99.04" y="99.27" transform="rotate(323.0 99.04 99.27)">10</text><text x="105.58" y="94.70" transform="rotate(327.1 105.58 94.70)">20</text><text x="112.44" y="90.60" transform="rotate(331.2 112.44 90.60)">30</text><text x="119.57" y="87.01" transform="rotate(335.3 119.57 87.01)">40</text><text x="126.93" y="83.94" transform="rotate(339.4 126.93 83.94)">50</text></g>
<text x="117.53" y="102.99" transform="rotate(330.3 117.53 102.99)" font-size="8.5" fill="#E6C23A" stroke="#E6C23A" stroke-width="0.45" text-anchor="middle" dominant-baseline="central">chr7</text>
<path d="M143.70,85.22A105.6,105.6 0 0 1 204.97,90.17" fill="none" stroke="#E8332A" stroke-width="1.3"/>
<path d="M143.70,85.22L142.92,81.61M151.14,83.88L150.61,80.22M158.65,83.07L158.39,79.38M166.20,82.80L166.20,79.10M173.75,83.07L174.01,79.38M181.26,83.88L181.79,80.22M188.70,85.22L189.48,81.61M196.02,87.10L197.06,83.55M203.18,89.49L204.48,86.02" stroke="#E8332A" stroke-width="1.05" fill="none"/>
<path d="M145.18,84.91L144.86,83.34M146.67,84.62L146.37,83.05M148.15,84.35L147.88,82.78M149.64,84.11L149.39,82.53M152.64,83.67L152.43,82.09M154.14,83.49L153.95,81.90M155.64,83.33L155.48,81.74M157.14,83.19L157.01,81.59M160.16,82.97L160.07,81.38M161.67,82.90L161.60,81.30M163.18,82.84L163.13,81.24M164.69,82.81L164.67,81.21M167.71,82.81L167.73,81.21M169.22,82.84L169.27,81.24M170.73,82.90L170.80,81.30M172.24,82.97L172.33,81.38M175.26,83.19L175.39,81.59M176.76,83.33L176.92,81.74M178.26,83.49L178.45,81.90M179.76,83.67L179.97,82.09M182.76,84.11L183.01,82.53M184.25,84.35L184.52,82.78M185.73,84.62L186.03,83.05M187.22,84.91L187.54,83.34M190.17,85.56L190.53,84.00M191.64,85.91L192.03,84.36M193.10,86.28L193.51,84.74M194.56,86.68L194.99,85.14M197.46,87.53L197.94,86.01M198.90,87.99L199.40,86.47M200.34,88.47L200.85,86.96M201.76,88.97L202.30,87.46M204.59,90.03L205.18,88.54" stroke="#E8332A" stroke-width="0.8" fill="none"/>
<g font-size="4.8" fill="#222" stroke="#222" stroke-width="0.12" text-anchor="middle" dominant-baseline="central"><text x="142.43" y="79.36" transform="rotate(347.7 142.43 79.36)">0</text><text x="150.28" y="77.94" transform="rotate(351.8 150.28 77.94)">10</text><text x="158.22" y="77.09" transform="rotate(355.9 158.22 77.09)">20</text><text x="166.20" y="76.80" transform="rotate(360.0 166.20 76.80)">30</text><text x="174.18" y="77.09" transform="rotate(364.1 174.18 77.09)">40</text><text x="182.12" y="77.94" transform="rotate(368.2 182.12 77.94)">50</text><text x="189.97" y="79.36" transform="rotate(372.3 189.97 79.36)">60</text><text x="197.71" y="81.34" transform="rotate(376.4 197.71 81.34)">70</text><text x="205.28" y="83.87" transform="rotate(380.5 205.28 83.87)">80</text></g>
<text x="174.12" y="90.42" transform="rotate(364.6 174.12 90.42)" font-size="8.5" fill="#E6C23A" stroke="#E6C23A" stroke-width="0.45" text-anchor="middle" dominant-baseline="central">chr8</text>
<path d="M215.08,94.79A105.6,105.6 0 0 1 261.35,142.61" fill="none" stroke="#E8332A" stroke-width="1.3"/>
<path d="M215.08,94.79L216.79,91.51M221.64,98.53L223.59,95.38M227.93,102.72L230.09,99.72M233.89,107.35L236.27,104.51M239.52,112.40L242.08,109.74M244.76,117.84L247.52,115.36M249.61,123.63L252.53,121.36M254.02,129.76L257.10,127.71M257.99,136.19L261.21,134.36" stroke="#E8332A" stroke-width="1.05" fill="none"/>
<path d="M216.41,95.50L217.17,94.09M217.73,96.23L218.51,94.83M219.05,96.98L219.85,95.59M220.35,97.74L221.17,96.37M222.92,99.33L223.78,97.98M224.19,100.15L225.07,98.81M225.45,100.99L226.35,99.66M226.69,101.84L227.61,100.53M229.15,103.61L230.10,102.33M230.35,104.52L231.33,103.25M231.55,105.45L232.54,104.19M232.73,106.39L233.74,105.15M235.05,108.33L236.09,107.12M236.19,109.32L237.25,108.12M237.31,110.33L238.39,109.15M238.42,111.36L239.52,110.19M240.60,113.46L241.72,112.32M241.66,114.53L242.80,113.41M242.71,115.62L243.87,114.51M243.74,116.72L244.92,115.63M245.76,118.97L246.97,117.92M246.75,120.11L247.97,119.08M247.72,121.27L248.95,120.26M248.67,122.45L249.92,121.45M250.52,124.83L251.80,123.87M251.43,126.05L252.72,125.10M252.31,127.27L253.61,126.35M253.18,128.51L254.49,127.60M254.85,131.03L256.20,130.16M255.67,132.30L257.02,131.45M256.46,133.59L257.83,132.76M257.23,134.88L258.61,134.07M258.73,137.51L260.13,136.74M259.45,138.84L260.86,138.09M260.15,140.18L261.57,139.45M260.83,141.53L262.26,140.82" stroke="#E8332A" stroke-width="0.8" fill="none"/>
<g font-size="4.8" fill="#222" stroke="#222" stroke-width="0.12" text-anchor="middle" dominant-baseline="central"><text x="217.85" y="89.47" transform="rotate(387.6 217.85 89.47)">0</text><text x="224.79" y="93.42" transform="rotate(391.7 224.79 93.42)">10</text><text x="231.43" y="97.85" transform="rotate(395.8 231.43 97.85)">20</text><text x="237.74" y="102.75" transform="rotate(399.9 237.74 102.75)">30</text><text x="243.68" y="108.08" transform="rotate(404.0 243.68 108.08)">40</text><text x="249.23" y="113.83" transform="rotate(408.1 249.23 113.83)">50</text><text x="254.35" y="119.95" transform="rotate(412.2 254.35 119.95)">60</text><text x="259.01" y="126.43" transform="rotate(416.3 259.01 126.43)">70</text><text x="263.21" y="133.23" transform="rotate(420.4 263.21 133.23)">80</text></g>
<text x="236.83" y="120.03" transform="rotate(405.9 236.83 120.03)" font-size="8.5" fill="#E6C23A" stroke="#E6C23A" stroke-width="0.45" text-anchor="middle" dominant-baseline="central">chr9</text>
<path d="M265.53,152.54A105.6,105.6 0 0 1 271.26,177.73" fill="none" stroke="#E8332A" stroke-width="1.3"/>
<path d="M265.53,152.54L269.01,151.29M267.84,159.74L271.40,158.73M269.62,167.08L273.25,166.33M270.88,174.53L274.55,174.04" stroke="#E8332A" stroke-width="1.05" fill="none"/>
<path d="M266.03,153.97L267.54,153.45M266.51,155.40L268.03,154.90M266.97,156.84L268.50,156.36M267.41,158.28L268.95,157.83M268.24,161.19L269.78,160.78M268.61,162.66L270.17,162.27M268.97,164.12L270.53,163.76M269.31,165.60L270.87,165.25M269.92,168.56L271.49,168.26M270.19,170.04L271.77,169.77M270.44,171.53L272.02,171.28M270.68,173.03L272.26,172.80M271.07,176.02L272.66,175.84M271.24,177.53L272.83,177.36" stroke="#E8332A" stroke-width="0.8" fill="none"/>
<g font-size="4.8" fill="#222" stroke="#222" stroke-width="0.12" text-anchor="middle" dominant-baseline="central"><text x="271.17" y="150.51" transform="rotate(430.1 271.17 150.51)">0</text><text x="273.61" y="158.11" transform="rotate(434.2 273.61 158.11)">10</text><text x="275.50" y="165.86" transform="rotate(438.3 275.50 165.86)">20</text><text x="276.83" y="173.74" transform="rotate(442.4 276.83 173.74)">30</text></g>
<text x="262.05" y="166.58" transform="rotate(437.2 262.05 166.58)" font-size="8.5" fill="#E6C23A" stroke="#E6C23A" stroke-width="0.45" text-anchor="middle" dominant-baseline="central">chr10</text>

<defs>
<filter id="bl0" x="-20%" y="-20%" width="140%" height="140%"><feGaussianBlur stdDeviation="0.6"/></filter>
<radialGradient id="wg" cx="163" cy="182" r="62" gradientUnits="userSpaceOnUse" gradientTransform="translate(163 182) scale(0.85 1) translate(-163 -182)"><stop offset="0.55" stop-color="#FAF9F7"/><stop offset="0.85" stop-color="#F4F2EF"/><stop offset="1" stop-color="#E8E2DA"/></radialGradient>
<filter id="bl1" x="-20%" y="-20%" width="140%" height="140%"><feGaussianBlur stdDeviation="1.2"/></filter>
<filter id="bl2" x="-30%" y="-30%" width="160%" height="160%"><feGaussianBlur stdDeviation="2.2"/></filter>
<filter id="bl3" x="-30%" y="-30%" width="160%" height="160%"><feGaussianBlur stdDeviation="3.2"/></filter>
</defs>
<path d="M167.60,125.60C171.95,125.38 177.23,126.30 181.20,127.30C185.17,128.30 188.58,129.77 191.40,131.60C194.22,133.43 196.27,135.48 198.10,138.30C199.93,141.12 200.83,145.10 202.40,148.50C203.97,151.90 206.10,154.47 207.50,158.70C208.90,162.93 210.18,168.68 210.80,173.90C211.42,179.12 211.57,184.40 211.20,190.00C210.83,195.60 209.57,202.25 208.60,207.50C207.63,212.75 206.95,217.42 205.40,221.50C203.85,225.58 201.77,228.93 199.30,232.00C196.83,235.07 193.82,237.70 190.60,239.90C187.38,242.10 183.80,243.88 180.00,245.20C176.20,246.52 171.88,247.52 167.80,247.80C163.72,248.08 159.88,247.78 155.50,246.90C151.12,246.02 145.58,244.40 141.50,242.50C137.42,240.60 134.07,238.42 131.00,235.50C127.93,232.58 125.28,228.78 123.10,225.00C120.92,221.22 119.07,217.75 117.90,212.80C116.73,207.85 116.22,200.02 116.10,195.30C115.98,190.58 116.45,188.07 117.20,184.50C117.95,180.93 119.20,177.63 120.60,173.90C122.00,170.17 123.77,165.77 125.60,162.10C127.43,158.43 129.33,155.30 131.60,151.90C133.87,148.50 136.73,144.67 139.20,141.70C141.67,138.73 143.75,136.28 146.40,134.10C149.05,131.92 151.57,130.02 155.10,128.60C158.63,127.18 163.25,125.82 167.60,125.60Z" fill="#D2A25E" filter="url(#bl0)"/>
<path d="M167.34,130.62C171.38,130.42 176.28,131.27 179.96,132.20C183.64,133.13 186.81,134.49 189.43,136.19C192.04,137.89 193.94,139.79 195.64,142.41C197.35,145.02 198.18,148.72 199.64,151.87C201.09,155.03 203.07,157.41 204.37,161.34C205.67,165.27 206.86,170.60 207.43,175.44C208.00,180.28 208.14,185.19 207.80,190.38C207.46,195.58 206.29,201.75 205.39,206.62C204.49,211.50 203.86,215.83 202.42,219.62C200.98,223.41 199.05,226.51 196.76,229.36C194.47,232.21 191.67,234.65 188.68,236.69C185.70,238.73 182.37,240.39 178.85,241.61C175.32,242.83 171.32,243.76 167.53,244.02C163.74,244.29 160.18,244.01 156.11,243.19C152.04,242.37 146.91,240.87 143.12,239.10C139.33,237.34 136.22,235.31 133.38,232.61C130.53,229.90 128.07,226.37 126.04,222.86C124.02,219.35 122.30,216.14 121.22,211.54C120.14,206.95 119.66,199.68 119.55,195.30C119.44,190.93 119.87,188.59 120.57,185.28C121.27,181.97 122.43,178.91 123.72,175.44C125.02,171.98 126.66,167.90 128.36,164.49C130.07,161.09 131.83,158.18 133.93,155.03C136.04,151.87 138.70,148.31 140.99,145.56C143.27,142.81 145.21,140.53 147.67,138.51C150.13,136.48 152.46,134.72 155.74,133.40C159.02,132.09 163.30,130.82 167.34,130.62Z" fill="#E0D2C2" filter="url(#bl1)"/>
<path d="M167.22,132.65C171.12,132.45 175.84,133.27 179.39,134.17C182.94,135.06 186.00,136.38 188.52,138.02C191.04,139.66 192.88,141.49 194.52,144.01C196.16,146.53 196.97,150.10 198.37,153.14C199.77,156.19 201.68,158.48 202.93,162.27C204.19,166.06 205.33,171.21 205.89,175.88C206.44,180.54 206.57,185.27 206.24,190.28C205.92,195.30 204.78,201.25 203.92,205.95C203.05,210.65 202.44,214.82 201.05,218.48C199.67,222.13 197.80,225.13 195.59,227.88C193.39,230.62 190.69,232.98 187.81,234.95C184.93,236.91 181.72,238.51 178.32,239.69C174.92,240.87 171.06,241.76 167.40,242.02C163.75,242.27 160.32,242.00 156.39,241.21C152.47,240.42 147.52,238.97 143.86,237.27C140.21,235.57 137.21,233.62 134.47,231.01C131.72,228.40 129.35,225.00 127.39,221.61C125.44,218.22 123.78,215.12 122.74,210.69C121.70,206.26 121.23,199.25 121.13,195.03C121.03,190.81 121.44,188.55 122.11,185.36C122.79,182.17 123.90,179.22 125.16,175.88C126.41,172.53 127.99,168.60 129.63,165.31C131.27,162.03 132.97,159.23 135.00,156.19C137.03,153.14 139.60,149.71 141.80,147.06C144.01,144.40 145.88,142.21 148.25,140.25C150.62,138.30 152.87,136.60 156.03,135.33C159.20,134.06 163.33,132.84 167.22,132.65Z" fill="url(#wg)" filter="url(#bl1)"/>
<path d="M167.11,135.39C170.88,135.20 175.45,135.99 178.88,136.86C182.31,137.72 185.26,138.99 187.70,140.58C190.14,142.16 191.91,143.94 193.50,146.37C195.08,148.81 195.86,152.26 197.22,155.20C198.57,158.14 200.42,160.36 201.63,164.02C202.84,167.68 203.95,172.66 204.48,177.17C205.02,181.68 205.15,186.25 204.83,191.09C204.51,195.94 203.42,201.69 202.58,206.23C201.74,210.77 201.15,214.81 199.81,218.34C198.47,221.87 196.67,224.77 194.53,227.43C192.40,230.08 189.79,232.36 187.01,234.26C184.23,236.16 181.13,237.70 177.84,238.84C174.55,239.98 170.82,240.85 167.29,241.09C163.75,241.34 160.44,241.08 156.65,240.31C152.86,239.55 148.07,238.15 144.54,236.51C141.01,234.86 138.11,232.98 135.46,230.45C132.80,227.93 130.51,224.64 128.62,221.37C126.73,218.10 125.13,215.10 124.12,210.82C123.11,206.54 122.67,199.76 122.57,195.68C122.47,191.60 122.87,189.42 123.52,186.34C124.17,183.25 125.25,180.40 126.46,177.17C127.67,173.94 129.20,170.13 130.78,166.96C132.37,163.79 134.01,161.08 135.97,158.14C137.93,155.20 140.41,151.88 142.55,149.32C144.68,146.75 146.48,144.63 148.78,142.74C151.07,140.85 153.25,139.21 156.30,137.98C159.36,136.76 163.35,135.58 167.11,135.39Z" fill="none" stroke="#E2D0BC" stroke-width="1.8" filter="url(#bl1)"/>
<g transform="rotate(4 162.7 182)">
<ellipse cx="162.7" cy="182" rx="31.3" ry="41.3" fill="#D4A070" filter="url(#bl0)"/>
<ellipse cx="162.5" cy="182.5" rx="28.5" ry="38.8" fill="#C47C4E" filter="url(#bl1)"/>
<ellipse cx="162.5" cy="183.5" rx="25.5" ry="36" fill="#BA6A42" filter="url(#bl1)"/>
<ellipse cx="162.2" cy="188.5" rx="23" ry="32.5" fill="#E06A48" filter="url(#bl0)"/>
<ellipse cx="163.5" cy="192" rx="16" ry="24.5" fill="#A8362C" opacity="0.92" filter="url(#bl2)"/>
<ellipse cx="163" cy="186" rx="8" ry="14" fill="#98302A" opacity="0.6" filter="url(#bl2)"/>
<ellipse cx="147.5" cy="192" rx="3.5" ry="15" fill="#EA8A62" opacity="0.55" filter="url(#bl2)"/>
</g>
<ellipse cx="163" cy="174" rx="9" ry="8" fill="#8E2420" opacity="0.55" filter="url(#bl2)"/>
<ellipse cx="165" cy="164.5" rx="11" ry="4.5" fill="#A8352A" opacity="0.7" filter="url(#bl1)"/>
<ellipse cx="164.2" cy="153" rx="12" ry="8" fill="#F0E2CA" filter="url(#bl0)"/>
<ellipse cx="165" cy="158" rx="10" ry="3" fill="#D6AC86" opacity="0.7" filter="url(#bl1)"/>
<ellipse cx="161" cy="150" rx="6" ry="3.3" fill="#FCF8F0" opacity="0.85" filter="url(#bl1)"/>


<defs>
<linearGradient id="cb1" x1="0" y1="0" x2="0" y2="1">
<stop offset="0" stop-color="#E03228"/>
<stop offset="0.15" stop-color="#E2482A"/>
<stop offset="0.3" stop-color="#E4702C"/>
<stop offset="0.45" stop-color="#E6A032"/>
<stop offset="0.6" stop-color="#E6BE38"/>
<stop offset="0.8" stop-color="#E4D83E"/>
<stop offset="1" stop-color="#E2EE44"/>
</linearGradient>
</defs>
<rect x="340.8" y="14.1" width="14.2" height="90.8" fill="url(#cb1)" stroke="#111" stroke-width="1.3"/>
<g font-size="6" fill="#222"><text x="356.6" y="15.1" dominant-baseline="central">0.30</text><line x1="352.5" y1="28.1" x2="354.3" y2="28.1" stroke="#fff" stroke-width="0.8"/><text x="356.6" y="28.1" dominant-baseline="central">0.20</text><line x1="352.5" y1="41.0" x2="354.3" y2="41.0" stroke="#fff" stroke-width="0.8"/><text x="356.6" y="41.0" dominant-baseline="central">0.10</text><line x1="352.5" y1="54.0" x2="354.3" y2="54.0" stroke="#fff" stroke-width="0.8"/><text x="355.6" y="54.0" dominant-baseline="central">-0.00</text><line x1="352.5" y1="67.0" x2="354.3" y2="67.0" stroke="#fff" stroke-width="0.8"/><text x="355.6" y="67.0" dominant-baseline="central">-0.10</text><line x1="352.5" y1="80.0" x2="354.3" y2="80.0" stroke="#fff" stroke-width="0.8"/><text x="355.6" y="80.0" dominant-baseline="central">-0.20</text><line x1="352.5" y1="92.9" x2="354.3" y2="92.9" stroke="#fff" stroke-width="0.8"/><text x="355.6" y="92.9" dominant-baseline="central">-0.30</text><text x="355.6" y="105.9" dominant-baseline="central">-0.40</text></g>
<defs><linearGradient id="dg0" gradientUnits="userSpaceOnUse" x1="409.50" y1="266.07" x2="430.40" y2="286.60"><stop offset="0.0000" stop-color="#EDA758"/><stop offset="0.0000" stop-color="#EB9850"/><stop offset="0.1245" stop-color="#E88444"/><stop offset="0.2610" stop-color="#E2633A"/><stop offset="0.3635" stop-color="#D8422F"/><stop offset="0.4317" stop-color="#CC2A2A"/><stop offset="0.4761" stop-color="#BA252E"/><stop offset="0.5000" stop-color="#942A3E"/><stop offset="0.5000" stop-color="#942A3E"/><stop offset="0.5239" stop-color="#BA252E"/><stop offset="0.5683" stop-color="#CC2A2A"/><stop offset="0.6365" stop-color="#D8422F"/><stop offset="0.7390" stop-color="#E2633A"/><stop offset="0.8755" stop-color="#E88444"/><stop offset="1.0000" stop-color="#EB9850"/><stop offset="1.0000" stop-color="#EDA758"/></linearGradient><linearGradient id="dg1" gradientUnits="userSpaceOnUse" x1="430.40" y1="235.73" x2="461.30" y2="266.07"><stop offset="0.0000" stop-color="#EDA758"/><stop offset="0.1306" stop-color="#EB9850"/><stop offset="0.2460" stop-color="#E88444"/><stop offset="0.3384" stop-color="#E2633A"/><stop offset="0.4076" stop-color="#D8422F"/><stop offset="0.4538" stop-color="#CC2A2A"/><stop offset="0.4838" stop-color="#BA252E"/><stop offset="0.5000" stop-color="#942A3E"/><stop offset="0.5000" stop-color="#942A3E"/><stop offset="0.5162" stop-color="#BA252E"/><stop offset="0.5462" stop-color="#CC2A2A"/><stop offset="0.5924" stop-color="#D8422F"/><stop offset="0.6616" stop-color="#E2633A"/><stop offset="0.7540" stop-color="#E88444"/><stop offset="0.8694" stop-color="#EB9850"/><stop offset="1.0000" stop-color="#EDA758"/></linearGradient><linearGradient id="dg2" gradientUnits="userSpaceOnUse" x1="461.30" y1="207.74" x2="489.80" y2="235.73"><stop offset="0.0000" stop-color="#EDA758"/><stop offset="0.0995" stop-color="#EB9850"/><stop offset="0.2246" stop-color="#E88444"/><stop offset="0.3248" stop-color="#E2633A"/><stop offset="0.3999" stop-color="#D8422F"/><stop offset="0.4499" stop-color="#CC2A2A"/><stop offset="0.4825" stop-color="#BA252E"/><stop offset="0.5000" stop-color="#942A3E"/><stop offset="0.5000" stop-color="#942A3E"/><stop offset="0.5175" stop-color="#BA252E"/><stop offset="0.5501" stop-color="#CC2A2A"/><stop offset="0.6001" stop-color="#D8422F"/><stop offset="0.6752" stop-color="#E2633A"/><stop offset="0.7754" stop-color="#E88444"/><stop offset="0.9005" stop-color="#EB9850"/><stop offset="1.0000" stop-color="#EDA758"/></linearGradient><linearGradient id="dg3" gradientUnits="userSpaceOnUse" x1="489.80" y1="181.41" x2="516.60" y2="207.74"><stop offset="0.0000" stop-color="#EDA758"/><stop offset="0.0741" stop-color="#EB9850"/><stop offset="0.2072" stop-color="#E88444"/><stop offset="0.3137" stop-color="#E2633A"/><stop offset="0.3935" stop-color="#D8422F"/><stop offset="0.4468" stop-color="#CC2A2A"/><stop offset="0.4814" stop-color="#BA252E"/><stop offset="0.5000" stop-color="#942A3E"/><stop offset="0.5000" stop-color="#942A3E"/><stop offset="0.5186" stop-color="#BA252E"/><stop offset="0.5532" stop-color="#CC2A2A"/><stop offset="0.6065" stop-color="#D8422F"/><stop offset="0.6863" stop-color="#E2633A"/><stop offset="0.7928" stop-color="#E88444"/><stop offset="0.9259" stop-color="#EB9850"/><stop offset="1.0000" stop-color="#EDA758"/></linearGradient><linearGradient id="dg4" gradientUnits="userSpaceOnUse" x1="516.60" y1="158.83" x2="539.60" y2="181.41"><stop offset="0.0000" stop-color="#EDA758"/><stop offset="0.0037" stop-color="#EB9850"/><stop offset="0.1588" stop-color="#E88444"/><stop offset="0.2829" stop-color="#E2633A"/><stop offset="0.3759" stop-color="#D8422F"/><stop offset="0.4380" stop-color="#CC2A2A"/><stop offset="0.4783" stop-color="#BA252E"/><stop offset="0.5000" stop-color="#942A3E"/><stop offset="0.5000" stop-color="#942A3E"/><stop offset="0.5217" stop-color="#BA252E"/><stop offset="0.5620" stop-color="#CC2A2A"/><stop offset="0.6241" stop-color="#D8422F"/><stop offset="0.7171" stop-color="#E2633A"/><stop offset="0.8412" stop-color="#E88444"/><stop offset="0.9963" stop-color="#EB9850"/><stop offset="1.0000" stop-color="#EDA758"/></linearGradient><linearGradient id="dg5" gradientUnits="userSpaceOnUse" x1="539.60" y1="138.00" x2="560.80" y2="158.83"><stop offset="0.0000" stop-color="#EDA758"/><stop offset="0.0000" stop-color="#EB9850"/><stop offset="0.1298" stop-color="#E88444"/><stop offset="0.2644" stop-color="#E2633A"/><stop offset="0.3654" stop-color="#D8422F"/><stop offset="0.4327" stop-color="#CC2A2A"/><stop offset="0.4764" stop-color="#BA252E"/><stop offset="0.5000" stop-color="#942A3E"/><stop offset="0.5000" stop-color="#942A3E"/><stop offset="0.5236" stop-color="#BA252E"/><stop offset="0.5673" stop-color="#CC2A2A"/><stop offset="0.6346" stop-color="#D8422F"/><stop offset="0.7356" stop-color="#E2633A"/><stop offset="0.8702" stop-color="#E88444"/><stop offset="1.0000" stop-color="#EB9850"/><stop offset="1.0000" stop-color="#EDA758"/></linearGradient><linearGradient id="dg6" gradientUnits="userSpaceOnUse" x1="560.80" y1="120.62" x2="578.50" y2="138.00"><stop offset="0.0000" stop-color="#EDA758"/><stop offset="0.0000" stop-color="#EB9850"/><stop offset="0.0566" stop-color="#E88444"/><stop offset="0.2178" stop-color="#E2633A"/><stop offset="0.3388" stop-color="#D8422F"/><stop offset="0.4194" stop-color="#CC2A2A"/><stop offset="0.4718" stop-color="#BA252E"/><stop offset="0.5000" stop-color="#942A3E"/><stop offset="0.5000" stop-color="#942A3E"/><stop offset="0.5282" stop-color="#BA252E"/><stop offset="0.5806" stop-color="#CC2A2A"/><stop offset="0.6612" stop-color="#D8422F"/><stop offset="0.7822" stop-color="#E2633A"/><stop offset="0.9434" stop-color="#E88444"/><stop offset="1.0000" stop-color="#EB9850"/><stop offset="1.0000" stop-color="#EDA758"/></linearGradient><linearGradient id="dg7" gradientUnits="userSpaceOnUse" x1="578.50" y1="94.99" x2="604.60" y2="120.62"><stop offset="0.0000" stop-color="#EDA758"/><stop offset="0.0626" stop-color="#EB9850"/><stop offset="0.1993" stop-color="#E88444"/><stop offset="0.3087" stop-color="#E2633A"/><stop offset="0.3907" stop-color="#D8422F"/><stop offset="0.4453" stop-color="#CC2A2A"/><stop offset="0.4809" stop-color="#BA252E"/><stop offset="0.5000" stop-color="#942A3E"/><stop offset="0.5000" stop-color="#942A3E"/><stop offset="0.5191" stop-color="#BA252E"/><stop offset="0.5547" stop-color="#CC2A2A"/><stop offset="0.6093" stop-color="#D8422F"/><stop offset="0.6913" stop-color="#E2633A"/><stop offset="0.8007" stop-color="#E88444"/><stop offset="0.9374" stop-color="#EB9850"/><stop offset="1.0000" stop-color="#EDA758"/></linearGradient><linearGradient id="dg8" gradientUnits="userSpaceOnUse" x1="604.60" y1="66.41" x2="633.70" y2="94.99"><stop offset="0.0000" stop-color="#EDA758"/><stop offset="0.1077" stop-color="#EB9850"/><stop offset="0.2303" stop-color="#E88444"/><stop offset="0.3284" stop-color="#E2633A"/><stop offset="0.4019" stop-color="#D8422F"/><stop offset="0.4510" stop-color="#CC2A2A"/><stop offset="0.4828" stop-color="#BA252E"/><stop offset="0.5000" stop-color="#942A3E"/><stop offset="0.5000" stop-color="#942A3E"/><stop offset="0.5172" stop-color="#BA252E"/><stop offset="0.5490" stop-color="#CC2A2A"/><stop offset="0.5981" stop-color="#D8422F"/><stop offset="0.6716" stop-color="#E2633A"/><stop offset="0.7697" stop-color="#E88444"/><stop offset="0.8923" stop-color="#EB9850"/><stop offset="1.0000" stop-color="#EDA758"/></linearGradient><linearGradient id="dg9" gradientUnits="userSpaceOnUse" x1="633.70" y1="55.80" x2="644.50" y2="66.41"><stop offset="0.0000" stop-color="#EDA758"/><stop offset="0.0000" stop-color="#EB9850"/><stop offset="0.0000" stop-color="#E88444"/><stop offset="0.0376" stop-color="#E2633A"/><stop offset="0.2358" stop-color="#D8422F"/><stop offset="0.3679" stop-color="#CC2A2A"/><stop offset="0.4538" stop-color="#BA252E"/><stop offset="0.5000" stop-color="#942A3E"/><stop offset="0.5000" stop-color="#942A3E"/><stop offset="0.5462" stop-color="#BA252E"/><stop offset="0.6321" stop-color="#CC2A2A"/><stop offset="0.7642" stop-color="#D8422F"/><stop offset="0.9624" stop-color="#E2633A"/><stop offset="1.0000" stop-color="#E88444"/><stop offset="1.0000" stop-color="#EB9850"/><stop offset="1.0000" stop-color="#EDA758"/></linearGradient><radialGradient id="og" cx="0.5" cy="0.5" r="0.7">
<stop offset="0" stop-color="#EDBE6A"/>
<stop offset="0.55" stop-color="#ECB964"/>
<stop offset="0.85" stop-color="#EAAE5A"/>
<stop offset="1" stop-color="#E7A250"/>
</radialGradient></defs>
<rect x="397.5" y="44.5" width="258.3" height="253.5" fill="#fff" stroke="#CFCFCF" stroke-width="1"/>
<clipPath id="hc"><rect x="409.5" y="55.8" width="235.0" height="230.8"/></clipPath>
<filter id="hb" x="-5%" y="-5%" width="110%" height="110%"><feGaussianBlur stdDeviation="1.1"/></filter>
<g clip-path="url(#hc)">
<rect x="409.5" y="55.8" width="235.0" height="230.8" fill="#EDC26F"/>
<g fill="#E8A04E" opacity="0.24" filter="url(#hb)"><rect x="413.68" y="241.80" width="12.54" height="18.21"/><rect x="413.68" y="213.33" width="12.54" height="16.79"/><rect x="413.68" y="186.68" width="12.54" height="15.79"/><rect x="413.68" y="163.34" width="12.54" height="13.55"/><rect x="413.68" y="142.17" width="12.54" height="12.49"/><rect x="413.68" y="124.10" width="12.54" height="10.43"/><rect x="413.68" y="100.11" width="12.54" height="15.38"/><rect x="413.68" y="72.12" width="12.54" height="17.15"/><rect x="413.68" y="57.92" width="12.54" height="6.36"/><rect x="436.58" y="270.18" width="18.54" height="12.32"/><rect x="436.58" y="213.33" width="18.54" height="16.79"/><rect x="436.58" y="186.68" width="18.54" height="15.79"/><rect x="436.58" y="163.34" width="18.54" height="13.55"/><rect x="436.58" y="142.17" width="18.54" height="12.49"/><rect x="436.58" y="124.10" width="18.54" height="10.43"/><rect x="436.58" y="100.11" width="18.54" height="15.38"/><rect x="436.58" y="72.12" width="18.54" height="17.15"/><rect x="436.58" y="57.92" width="18.54" height="6.36"/><rect x="467.00" y="270.18" width="17.10" height="12.32"/><rect x="467.00" y="241.80" width="17.10" height="18.21"/><rect x="467.00" y="186.68" width="17.10" height="15.79"/><rect x="467.00" y="163.34" width="17.10" height="13.55"/><rect x="467.00" y="142.17" width="17.10" height="12.49"/><rect x="467.00" y="124.10" width="17.10" height="10.43"/><rect x="467.00" y="100.11" width="17.10" height="15.38"/><rect x="467.00" y="72.12" width="17.10" height="17.15"/><rect x="467.00" y="57.92" width="17.10" height="6.36"/><rect x="495.16" y="270.18" width="16.08" height="12.32"/><rect x="495.16" y="241.80" width="16.08" height="18.21"/><rect x="495.16" y="213.33" width="16.08" height="16.79"/><rect x="495.16" y="163.34" width="16.08" height="13.55"/><rect x="495.16" y="142.17" width="16.08" height="12.49"/><rect x="495.16" y="124.10" width="16.08" height="10.43"/><rect x="495.16" y="100.11" width="16.08" height="15.38"/><rect x="495.16" y="72.12" width="16.08" height="17.15"/><rect x="495.16" y="57.92" width="16.08" height="6.36"/><rect x="521.20" y="270.18" width="13.80" height="12.32"/><rect x="521.20" y="241.80" width="13.80" height="18.21"/><rect x="521.20" y="213.33" width="13.80" height="16.79"/><rect x="521.20" y="186.68" width="13.80" height="15.79"/><rect x="521.20" y="142.17" width="13.80" height="12.49"/><rect x="521.20" y="124.10" width="13.80" height="10.43"/><rect x="521.20" y="100.11" width="13.80" height="15.38"/><rect x="521.20" y="72.12" width="13.80" height="17.15"/><rect x="521.20" y="57.92" width="13.80" height="6.36"/><rect x="543.84" y="270.18" width="12.72" height="12.32"/><rect x="543.84" y="241.80" width="12.72" height="18.21"/><rect x="543.84" y="213.33" width="12.72" height="16.79"/><rect x="543.84" y="186.68" width="12.72" height="15.79"/><rect x="543.84" y="163.34" width="12.72" height="13.55"/><rect x="543.84" y="124.10" width="12.72" height="10.43"/><rect x="543.84" y="100.11" width="12.72" height="15.38"/><rect x="543.84" y="72.12" width="12.72" height="17.15"/><rect x="543.84" y="57.92" width="12.72" height="6.36"/><rect x="564.34" y="270.18" width="10.62" height="12.32"/><rect x="564.34" y="241.80" width="10.62" height="18.21"/><rect x="564.34" y="213.33" width="10.62" height="16.79"/><rect x="564.34" y="186.68" width="10.62" height="15.79"/><rect x="564.34" y="163.34" width="10.62" height="13.55"/><rect x="564.34" y="142.17" width="10.62" height="12.49"/><rect x="564.34" y="100.11" width="10.62" height="15.38"/><rect x="564.34" y="72.12" width="10.62" height="17.15"/><rect x="564.34" y="57.92" width="10.62" height="6.36"/><rect x="583.72" y="270.18" width="15.66" height="12.32"/><rect x="583.72" y="241.80" width="15.66" height="18.21"/><rect x="583.72" y="213.33" width="15.66" height="16.79"/><rect x="583.72" y="186.68" width="15.66" height="15.79"/><rect x="583.72" y="163.34" width="15.66" height="13.55"/><rect x="583.72" y="142.17" width="15.66" height="12.49"/><rect x="583.72" y="124.10" width="15.66" height="10.43"/><rect x="583.72" y="72.12" width="15.66" height="17.15"/><rect x="583.72" y="57.92" width="15.66" height="6.36"/><rect x="610.42" y="270.18" width="17.46" height="12.32"/><rect x="610.42" y="241.80" width="17.46" height="18.21"/><rect x="610.42" y="213.33" width="17.46" height="16.79"/><rect x="610.42" y="186.68" width="17.46" height="15.79"/><rect x="610.42" y="163.34" width="17.46" height="13.55"/><rect x="610.42" y="142.17" width="17.46" height="12.49"/><rect x="610.42" y="124.10" width="17.46" height="10.43"/><rect x="610.42" y="100.11" width="17.46" height="15.38"/><rect x="610.42" y="57.92" width="17.46" height="6.36"/><rect x="635.86" y="270.18" width="6.48" height="12.32"/><rect x="635.86" y="241.80" width="6.48" height="18.21"/><rect x="635.86" y="213.33" width="6.48" height="16.79"/><rect x="635.86" y="186.68" width="6.48" height="15.79"/><rect x="635.86" y="163.34" width="6.48" height="13.55"/><rect x="635.86" y="142.17" width="6.48" height="12.49"/><rect x="635.86" y="124.10" width="6.48" height="10.43"/><rect x="635.86" y="100.11" width="6.48" height="15.38"/><rect x="635.86" y="72.12" width="6.48" height="17.15"/></g>
<path d="M409.5,55.8V286.6M430.4,55.8V286.6M461.3,55.8V286.6M489.8,55.8V286.6M516.6,55.8V286.6M539.6,55.8V286.6M560.8,55.8V286.6M578.5,55.8V286.6M604.6,55.8V286.6M633.7,55.8V286.6M644.5,55.8V286.6M409.5,286.6H644.5M409.5,266.1H644.5M409.5,235.7H644.5M409.5,207.7H644.5M409.5,181.4H644.5M409.5,158.8H644.5M409.5,138.0H644.5M409.5,120.6H644.5M409.5,95.0H644.5M409.5,66.4H644.5M409.5,55.8H644.5" stroke="#E59C4A" stroke-width="2.6" opacity="0.35" fill="none" filter="url(#hb)"/>
<rect x="409.50" y="266.07" width="20.90" height="20.53" fill="url(#dg0)"/>
<rect x="430.40" y="235.73" width="30.90" height="30.35" fill="url(#dg1)"/>
<rect x="461.30" y="207.74" width="28.50" height="27.99" fill="url(#dg2)"/>
<rect x="489.80" y="181.41" width="26.80" height="26.32" fill="url(#dg3)"/>
<rect x="516.60" y="158.83" width="23.00" height="22.59" fill="url(#dg4)"/>
<rect x="539.60" y="138.00" width="21.20" height="20.82" fill="url(#dg5)"/>
<rect x="560.80" y="120.62" width="17.70" height="17.38" fill="url(#dg6)"/>
<rect x="578.50" y="94.99" width="26.10" height="25.63" fill="url(#dg7)"/>
<rect x="604.60" y="66.41" width="29.10" height="28.58" fill="url(#dg8)"/>
<rect x="633.70" y="55.80" width="10.80" height="10.61" fill="url(#dg9)"/>
</g>
<path d="M409.5,44.5V298M430.4,44.5V298M461.3,44.5V298M489.8,44.5V298M516.6,44.5V298M539.6,44.5V298M560.8,44.5V298M578.5,44.5V298M604.6,44.5V298M633.7,44.5V298M644.5,44.5V298M397.5,286.6H655.8M397.5,266.1H655.8M397.5,235.7H655.8M397.5,207.7H655.8M397.5,181.4H655.8M397.5,158.8H655.8M397.5,138.0H655.8M397.5,120.6H655.8M397.5,95.0H655.8M397.5,66.4H655.8M397.5,55.8H655.8" stroke="#5A4A3A" stroke-width="0.7" stroke-dasharray="0.7 1.5" fill="none" opacity="0.5"/>
<g font-size="7.6" fill="#333"><text x="420.9" y="303.4" text-anchor="middle" dominant-baseline="central">chr1</text><text x="445.2" y="303.4" text-anchor="middle" dominant-baseline="central">chr2</text><text x="476.0" y="303.4" text-anchor="middle" dominant-baseline="central">chr3</text><text x="504.9" y="303.4" text-anchor="middle" dominant-baseline="central">chr4</text><text x="528.1" y="303.4" text-anchor="middle" dominant-baseline="central">chr5</text><text x="549.9" y="303.4" text-anchor="middle" dominant-baseline="central">chr6</text><text x="569.9" y="303.4" text-anchor="middle" dominant-baseline="central">chr7</text><text x="590.9" y="303.4" text-anchor="middle" dominant-baseline="central">chr8</text><text x="617.8" y="303.4" text-anchor="middle" dominant-baseline="central">chr9</text><text x="641.0" y="303.4" text-anchor="middle" dominant-baseline="central">chr10</text></g>
<defs><linearGradient id="lg" x1="0" y1="0" x2="0" y2="1">
<stop offset="0" stop-color="#140808"/>
<stop offset="0.12" stop-color="#5A1418"/>
<stop offset="0.3" stop-color="#B8242A"/>
<stop offset="0.45" stop-color="#D8402E"/>
<stop offset="0.58" stop-color="#E4803E"/>
<stop offset="0.75" stop-color="#E9BC62"/>
<stop offset="1" stop-color="#F6F8CC"/>
</linearGradient></defs>
<rect x="662" y="121.9" width="15.9" height="103.4" fill="url(#lg)"/>
<g font-size="7" fill="#222"><text x="680" y="147.3" dominant-baseline="central">3</text><text x="680" y="178.5" dominant-baseline="central">2</text><text x="680" y="209.3" dominant-baseline="central">1</text></g>
</svg>
</body></html>
